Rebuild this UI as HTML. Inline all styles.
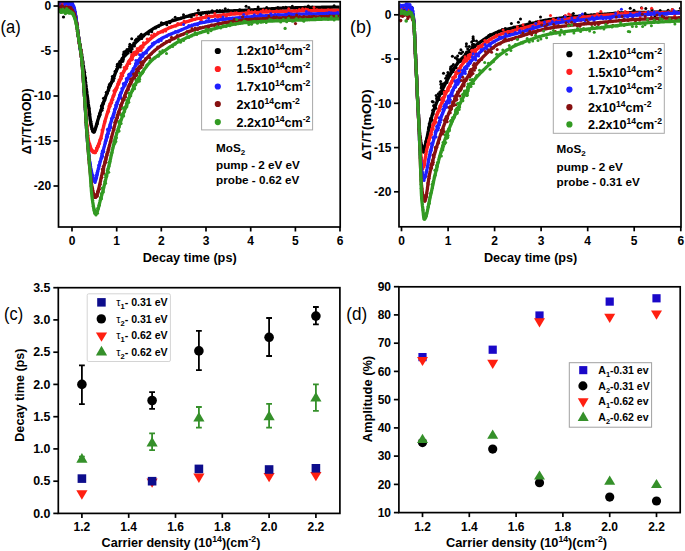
<!DOCTYPE html>
<html><head><meta charset="utf-8"><style>html,body{margin:0;padding:0;background:#fff;}svg{display:block;}</style></head><body>
<svg width="685" height="551" viewBox="0 0 685 551" font-family='"Liberation Sans", sans-serif'>
<rect width="685" height="551" fill="#fff"/>
<defs><clipPath id="ca"><rect x="59.4" y="2.6" width="280" height="223.5"/></clipPath><clipPath id="cb"><rect x="399.9" y="2.6" width="280.2" height="223.3"/></clipPath></defs>
<g clip-path="url(#ca)" fill="#000000"><circle cx="102.0" cy="107.0" r="1.5"/><circle cx="139.3" cy="38.7" r="1.5"/><circle cx="70.8" cy="6.2" r="1.5"/><circle cx="139.1" cy="38.2" r="1.5"/><circle cx="85.1" cy="78.4" r="1.5"/><circle cx="94.5" cy="130.5" r="1.5"/><circle cx="128.8" cy="49.9" r="1.5"/><circle cx="93.3" cy="131.8" r="1.5"/><circle cx="105.2" cy="98.4" r="1.5"/><circle cx="60.9" cy="3.8" r="1.5"/><circle cx="122.6" cy="60.8" r="1.5"/><circle cx="104.3" cy="98.3" r="1.5"/><circle cx="86.6" cy="91.6" r="1.5"/><circle cx="125.5" cy="55.3" r="1.5"/><circle cx="84.3" cy="71.7" r="1.5"/><circle cx="97.1" cy="124.0" r="1.5"/><circle cx="70.0" cy="6.5" r="1.5"/><circle cx="92.8" cy="131.5" r="1.5"/><circle cx="75.9" cy="18.0" r="1.5"/><circle cx="80.9" cy="49.9" r="1.5"/><circle cx="122.3" cy="61.5" r="1.5"/><circle cx="82.4" cy="57.6" r="1.5"/><circle cx="99.8" cy="114.8" r="1.5"/><circle cx="141.8" cy="38.6" r="1.5"/><circle cx="140.2" cy="37.2" r="1.5"/><circle cx="120.1" cy="62.4" r="1.5"/><circle cx="104.5" cy="98.3" r="1.5"/><circle cx="82.1" cy="61.0" r="1.5"/><circle cx="72.2" cy="6.0" r="1.5"/><circle cx="140.9" cy="38.2" r="1.5"/><circle cx="102.4" cy="108.3" r="1.5"/><circle cx="68.4" cy="4.1" r="1.5"/><circle cx="111.5" cy="82.2" r="1.5"/><circle cx="124.5" cy="54.3" r="1.5"/><circle cx="110.6" cy="84.2" r="1.5"/><circle cx="136.5" cy="40.9" r="1.5"/><circle cx="62.0" cy="3.1" r="1.5"/><circle cx="103.5" cy="103.4" r="1.5"/><circle cx="97.6" cy="121.8" r="1.5"/><circle cx="63.9" cy="4.5" r="1.5"/><circle cx="113.0" cy="79.7" r="1.5"/><circle cx="131.0" cy="46.5" r="1.5"/><circle cx="108.9" cy="86.6" r="1.5"/><circle cx="80.7" cy="49.7" r="1.5"/><circle cx="129.9" cy="49.9" r="1.5"/><circle cx="101.8" cy="105.2" r="1.5"/><circle cx="102.0" cy="110.2" r="1.5"/><circle cx="122.5" cy="60.3" r="1.5"/><circle cx="71.2" cy="4.9" r="1.5"/><circle cx="128.2" cy="53.1" r="1.5"/><circle cx="116.6" cy="69.3" r="1.5"/><circle cx="125.4" cy="53.9" r="1.5"/><circle cx="74.9" cy="11.7" r="1.5"/><circle cx="126.7" cy="54.0" r="1.5"/><circle cx="74.8" cy="12.2" r="1.5"/><circle cx="65.5" cy="1.2" r="1.5"/><circle cx="131.2" cy="51.9" r="1.5"/><circle cx="131.7" cy="38.8" r="1.5"/><circle cx="133.0" cy="45.9" r="1.5"/><circle cx="98.7" cy="116.6" r="1.5"/><circle cx="81.9" cy="53.9" r="1.5"/><circle cx="59.2" cy="4.1" r="1.5"/><circle cx="113.4" cy="80.8" r="1.5"/><circle cx="119.7" cy="61.4" r="1.5"/><circle cx="129.5" cy="46.4" r="1.5"/><circle cx="82.5" cy="61.2" r="1.5"/><circle cx="76.9" cy="23.7" r="1.5"/><circle cx="112.9" cy="77.0" r="1.5"/><circle cx="126.9" cy="53.7" r="1.5"/><circle cx="140.4" cy="36.3" r="1.5"/><circle cx="71.4" cy="4.2" r="1.5"/><circle cx="99.5" cy="113.5" r="1.5"/><circle cx="134.5" cy="45.9" r="1.5"/><circle cx="94.5" cy="130.3" r="1.5"/><circle cx="108.6" cy="90.2" r="1.5"/><circle cx="60.7" cy="4.0" r="1.5"/><circle cx="115.8" cy="70.9" r="1.5"/><circle cx="136.6" cy="38.9" r="1.5"/><circle cx="128.8" cy="49.0" r="1.5"/><circle cx="133.8" cy="42.9" r="1.5"/><circle cx="114.6" cy="75.6" r="1.5"/><circle cx="79.4" cy="43.6" r="1.5"/><circle cx="123.8" cy="52.0" r="1.5"/><circle cx="76.6" cy="23.9" r="1.5"/><circle cx="129.2" cy="50.2" r="1.5"/><circle cx="63.9" cy="3.6" r="1.5"/><circle cx="128.7" cy="50.5" r="1.5"/><circle cx="72.6" cy="5.3" r="1.5"/><circle cx="90.4" cy="120.4" r="1.5"/><circle cx="85.5" cy="82.2" r="1.5"/><circle cx="117.3" cy="64.6" r="1.5"/><circle cx="73.8" cy="8.3" r="1.5"/><circle cx="92.2" cy="129.3" r="1.5"/><circle cx="59.1" cy="3.8" r="1.5"/><circle cx="80.9" cy="51.1" r="1.5"/><circle cx="94.3" cy="130.5" r="1.5"/><circle cx="67.6" cy="3.6" r="1.5"/><circle cx="112.3" cy="81.2" r="1.5"/><circle cx="90.9" cy="121.5" r="1.5"/><circle cx="120.2" cy="62.2" r="1.5"/><circle cx="114.1" cy="78.3" r="1.5"/><circle cx="95.2" cy="128.5" r="1.5"/><circle cx="132.2" cy="49.0" r="1.5"/><circle cx="112.3" cy="76.5" r="1.5"/><circle cx="127.4" cy="51.3" r="1.5"/><circle cx="87.6" cy="98.8" r="1.5"/><circle cx="104.7" cy="100.3" r="1.5"/><circle cx="75.3" cy="17.2" r="1.5"/><circle cx="143.1" cy="35.5" r="1.5"/><circle cx="79.2" cy="41.4" r="1.5"/><circle cx="80.4" cy="47.9" r="1.5"/><circle cx="64.8" cy="5.3" r="1.5"/><circle cx="80.5" cy="46.0" r="1.5"/><circle cx="123.4" cy="54.6" r="1.5"/><circle cx="117.8" cy="64.0" r="1.5"/><circle cx="69.5" cy="6.2" r="1.5"/><circle cx="90.5" cy="121.4" r="1.5"/><circle cx="94.3" cy="132.0" r="1.5"/><circle cx="115.0" cy="71.5" r="1.5"/><circle cx="97.3" cy="122.9" r="1.5"/><circle cx="108.4" cy="87.8" r="1.5"/><circle cx="129.9" cy="44.3" r="1.5"/><circle cx="120.3" cy="66.9" r="1.5"/><circle cx="89.6" cy="114.2" r="1.5"/><circle cx="96.7" cy="124.2" r="1.5"/><circle cx="89.8" cy="113.9" r="1.5"/><circle cx="67.9" cy="5.4" r="1.5"/><circle cx="75.8" cy="19.5" r="1.5"/><circle cx="82.7" cy="60.8" r="1.5"/><circle cx="85.3" cy="77.8" r="1.5"/><circle cx="85.2" cy="78.3" r="1.5"/><circle cx="107.5" cy="92.7" r="1.5"/><circle cx="141.1" cy="37.9" r="1.5"/><circle cx="124.3" cy="53.3" r="1.5"/><circle cx="125.7" cy="53.3" r="1.5"/><circle cx="123.0" cy="61.0" r="1.5"/><circle cx="109.3" cy="84.8" r="1.5"/><circle cx="136.5" cy="39.8" r="1.5"/><circle cx="117.1" cy="66.2" r="1.5"/><circle cx="101.1" cy="109.8" r="1.5"/><circle cx="65.1" cy="2.7" r="1.5"/><circle cx="100.1" cy="114.8" r="1.5"/><circle cx="76.7" cy="24.2" r="1.5"/><circle cx="69.9" cy="4.1" r="1.5"/><circle cx="101.6" cy="106.0" r="1.5"/><circle cx="125.2" cy="51.7" r="1.5"/><circle cx="83.6" cy="69.3" r="1.5"/><circle cx="123.8" cy="56.1" r="1.5"/><circle cx="103.2" cy="102.4" r="1.5"/><circle cx="71.2" cy="4.9" r="1.5"/><circle cx="140.5" cy="35.6" r="1.5"/><circle cx="92.7" cy="130.6" r="1.5"/><circle cx="83.7" cy="66.7" r="1.5"/><circle cx="130.5" cy="45.5" r="1.5"/><circle cx="69.2" cy="4.3" r="1.5"/><circle cx="120.9" cy="64.4" r="1.5"/><circle cx="74.5" cy="12.7" r="1.5"/><circle cx="91.9" cy="126.9" r="1.5"/><circle cx="78.3" cy="36.2" r="1.5"/><circle cx="130.0" cy="50.5" r="1.5"/><circle cx="91.7" cy="125.8" r="1.5"/><circle cx="141.3" cy="34.2" r="1.5"/><circle cx="111.7" cy="82.5" r="1.5"/><circle cx="117.5" cy="66.2" r="1.5"/><circle cx="102.9" cy="103.2" r="1.5"/><circle cx="84.8" cy="72.5" r="1.5"/><circle cx="92.2" cy="129.1" r="1.5"/><circle cx="138.5" cy="36.7" r="1.5"/><circle cx="75.7" cy="15.4" r="1.5"/><circle cx="142.5" cy="35.9" r="1.5"/><circle cx="123.0" cy="57.5" r="1.5"/><circle cx="89.1" cy="108.6" r="1.5"/><circle cx="113.0" cy="76.4" r="1.5"/><circle cx="90.9" cy="123.3" r="1.5"/><circle cx="91.0" cy="124.8" r="1.5"/><circle cx="101.4" cy="106.4" r="1.5"/><circle cx="60.0" cy="5.3" r="1.5"/><circle cx="100.5" cy="111.5" r="1.5"/><circle cx="141.1" cy="37.1" r="1.5"/><circle cx="82.8" cy="66.0" r="1.5"/><circle cx="122.1" cy="58.2" r="1.5"/><circle cx="96.2" cy="125.9" r="1.5"/><circle cx="76.4" cy="22.1" r="1.5"/><circle cx="135.4" cy="40.2" r="1.5"/><circle cx="60.0" cy="4.1" r="1.5"/><circle cx="84.4" cy="73.9" r="1.5"/><circle cx="143.4" cy="35.8" r="1.5"/><circle cx="80.8" cy="49.6" r="1.5"/><circle cx="130.7" cy="50.6" r="1.5"/><circle cx="110.0" cy="83.7" r="1.5"/><circle cx="127.0" cy="49.4" r="1.5"/><circle cx="112.1" cy="79.1" r="1.5"/><circle cx="89.4" cy="112.4" r="1.5"/><circle cx="123.2" cy="59.3" r="1.5"/><circle cx="60.8" cy="3.5" r="1.5"/><circle cx="96.5" cy="125.1" r="1.5"/><circle cx="90.2" cy="119.0" r="1.5"/><circle cx="99.1" cy="116.2" r="1.5"/><circle cx="69.4" cy="3.9" r="1.5"/><circle cx="77.5" cy="30.7" r="1.5"/><circle cx="106.3" cy="92.2" r="1.5"/><circle cx="91.5" cy="126.5" r="1.5"/><circle cx="125.8" cy="51.2" r="1.5"/><circle cx="110.0" cy="84.8" r="1.5"/><circle cx="131.7" cy="46.1" r="1.5"/><circle cx="120.8" cy="60.7" r="1.5"/><circle cx="109.7" cy="86.2" r="1.5"/><circle cx="83.0" cy="62.0" r="1.5"/><circle cx="125.0" cy="53.6" r="1.5"/><circle cx="79.9" cy="44.3" r="1.5"/><circle cx="65.0" cy="3.2" r="1.5"/><circle cx="140.3" cy="38.7" r="1.5"/><circle cx="104.4" cy="98.4" r="1.5"/><circle cx="124.3" cy="54.4" r="1.5"/><circle cx="103.5" cy="98.3" r="1.5"/><circle cx="110.5" cy="84.9" r="1.5"/><circle cx="61.5" cy="5.5" r="1.5"/><circle cx="74.5" cy="9.2" r="1.5"/><circle cx="115.9" cy="71.4" r="1.5"/><circle cx="107.0" cy="93.8" r="1.5"/><circle cx="143.7" cy="36.0" r="1.5"/><circle cx="146.7" cy="33.6" r="1.5"/><circle cx="148.5" cy="33.9" r="1.5"/><circle cx="151.7" cy="31.8" r="1.5"/><circle cx="155.7" cy="28.0" r="1.5"/><circle cx="158.5" cy="26.6" r="1.5"/><circle cx="161.4" cy="22.7" r="1.5"/><circle cx="162.6" cy="23.6" r="1.5"/><circle cx="166.8" cy="24.8" r="1.5"/><circle cx="169.9" cy="22.8" r="1.5"/><circle cx="172.7" cy="19.7" r="1.5"/><circle cx="175.2" cy="17.3" r="1.5"/><circle cx="178.0" cy="18.6" r="1.5"/><circle cx="180.9" cy="17.9" r="1.5"/><circle cx="183.5" cy="14.8" r="1.5"/><circle cx="186.7" cy="16.5" r="1.5"/><circle cx="189.1" cy="16.2" r="1.5"/><circle cx="191.4" cy="17.1" r="1.5"/><circle cx="194.0" cy="15.1" r="1.5"/><circle cx="198.3" cy="10.3" r="1.5"/><circle cx="200.9" cy="15.1" r="1.5"/><circle cx="202.7" cy="12.9" r="1.5"/><circle cx="206.7" cy="14.5" r="1.5"/><circle cx="208.6" cy="12.1" r="1.5"/><circle cx="212.1" cy="10.8" r="1.5"/><circle cx="214.4" cy="12.2" r="1.5"/><circle cx="217.0" cy="10.6" r="1.5"/><circle cx="219.8" cy="10.5" r="1.5"/><circle cx="222.5" cy="10.7" r="1.5"/><circle cx="225.3" cy="8.7" r="1.5"/><circle cx="228.2" cy="9.9" r="1.5"/><circle cx="231.0" cy="11.3" r="1.5"/><circle cx="235.2" cy="11.7" r="1.5"/><circle cx="237.5" cy="11.8" r="1.5"/><circle cx="239.7" cy="9.8" r="1.5"/><circle cx="243.2" cy="10.8" r="1.5"/><circle cx="246.1" cy="6.2" r="1.5"/><circle cx="248.9" cy="7.4" r="1.5"/><circle cx="251.2" cy="10.2" r="1.5"/><circle cx="254.4" cy="10.2" r="1.5"/><circle cx="258.1" cy="7.1" r="1.5"/><circle cx="260.1" cy="12.1" r="1.5"/><circle cx="263.1" cy="9.9" r="1.5"/><circle cx="266.7" cy="7.6" r="1.5"/><circle cx="268.3" cy="10.2" r="1.5"/><circle cx="272.1" cy="9.4" r="1.5"/><circle cx="274.5" cy="9.1" r="1.5"/><circle cx="277.9" cy="7.5" r="1.5"/><circle cx="280.0" cy="8.1" r="1.5"/><circle cx="283.1" cy="7.6" r="1.5"/><circle cx="285.7" cy="7.2" r="1.5"/><circle cx="289.4" cy="7.9" r="1.5"/><circle cx="292.3" cy="6.2" r="1.5"/><circle cx="294.7" cy="8.8" r="1.5"/><circle cx="298.2" cy="9.7" r="1.5"/><circle cx="300.6" cy="10.2" r="1.5"/><circle cx="303.6" cy="9.9" r="1.5"/><circle cx="306.5" cy="8.3" r="1.5"/><circle cx="308.3" cy="6.0" r="1.5"/><circle cx="312.4" cy="7.1" r="1.5"/><circle cx="314.2" cy="8.2" r="1.5"/><circle cx="317.2" cy="8.9" r="1.5"/><circle cx="319.5" cy="8.0" r="1.5"/><circle cx="323.5" cy="7.8" r="1.5"/><circle cx="325.5" cy="8.0" r="1.5"/><circle cx="329.0" cy="9.2" r="1.5"/><circle cx="331.0" cy="7.8" r="1.5"/><circle cx="334.1" cy="5.7" r="1.5"/><circle cx="337.0" cy="10.2" r="1.5"/><circle cx="339.5" cy="7.4" r="1.5"/></g>
<polyline clip-path="url(#ca)" points="57.7,4.2 57.9,4.2 58.0,4.1 58.2,4.1 58.4,4.1 58.5,4.1 58.7,4.0 58.8,4.0 59.0,4.0 59.2,4.0 59.3,4.0 59.5,3.9 59.7,3.9 59.8,3.9 60.0,3.9 60.1,3.9 60.3,3.9 60.5,3.8 60.6,3.8 60.8,3.8 61.0,3.8 61.1,3.8 61.3,3.8 61.5,3.8 61.6,3.8 61.8,3.8 61.9,3.8 62.1,3.8 62.3,3.8 62.4,3.8 62.6,3.8 62.8,3.8 62.9,3.8 63.1,3.8 63.2,3.8 63.4,3.8 63.6,3.8 63.7,3.8 63.9,3.8 64.1,3.8 64.2,3.8 64.4,3.8 64.5,3.8 64.7,3.8 64.9,3.8 65.0,3.9 65.2,3.9 65.4,3.9 65.5,3.9 65.7,3.9 65.9,4.0 66.0,4.0 66.2,4.0 66.3,4.0 66.5,4.0 66.7,4.1 66.8,4.1 67.0,4.1 67.2,4.1 67.3,4.2 67.5,4.2 67.6,4.2 67.8,4.2 68.0,4.3 68.1,4.3 68.3,4.3 68.5,4.4 68.6,4.4 68.8,4.5 68.9,4.5 69.1,4.6 69.3,4.6 69.4,4.7 69.6,4.7 69.8,4.8 69.9,4.9 70.1,4.9 70.3,5.0 70.4,5.1 70.6,5.2 70.7,5.2 70.9,5.3 71.1,5.4 71.2,5.5 71.4,5.6 71.6,5.7 71.7,5.8 71.9,5.9 72.0,6.0 72.2,6.2 72.4,6.3 72.5,6.5 72.7,6.7 72.9,6.9 73.0,7.2 73.2,7.5 73.3,7.8 73.5,8.1 73.7,8.4 73.8,8.8 74.0,9.2 74.2,9.8 74.3,10.4 74.5,11.0 74.6,11.7 74.8,12.5 75.0,13.3 75.1,14.2 75.3,15.1 75.5,16.0 75.6,16.9 75.8,17.8 76.0,18.8 76.1,19.7 76.3,20.7 76.4,21.8 76.6,22.9 76.8,24.0 76.9,25.2 77.1,26.5 77.3,27.7 77.4,29.0 77.6,30.3 77.7,31.5 77.9,32.8 78.1,34.0 78.2,35.2 78.4,36.4 78.6,37.5 78.7,38.5 78.9,39.5 79.0,40.5 79.2,41.4 79.4,42.4 79.5,43.3 79.7,44.1 79.9,45.0 80.0,45.9 80.2,46.8 80.4,47.7 80.5,48.6 80.7,49.5 80.8,50.4 81.0,51.4 81.2,52.4 81.3,53.4 81.5,54.4 81.7,55.5 81.8,56.5 82.0,57.5 82.1,58.6 82.3,59.6 82.5,60.7 82.6,61.8 82.8,62.8 83.0,63.9 83.1,65.0 83.3,66.1 83.4,67.2 83.6,68.4 83.8,69.5 83.9,70.6 84.1,71.7 84.3,72.9 84.4,74.0 84.6,75.2 84.8,76.3 84.9,77.5 85.1,78.7 85.2,79.9 85.4,81.2 85.6,82.4 85.7,83.7 85.9,84.9 86.1,86.2 86.2,87.5 86.4,88.8 86.5,90.1 86.7,91.4 86.9,92.7 87.0,93.9 87.2,95.2 87.4,96.5 87.5,97.8 87.7,99.1 87.8,100.3 88.0,101.6 88.2,102.8 88.3,104.0 88.5,105.2 88.7,106.5 88.8,107.8 89.0,109.1 89.2,110.5 89.3,111.8 89.5,113.2 89.6,114.5 89.8,115.9 90.0,117.2 90.1,118.5 90.3,119.7 90.5,120.9 90.6,122.1 90.8,123.2 90.9,124.2 91.1,125.1 91.3,125.9 91.4,126.7 91.6,127.3 91.8,127.8 91.9,128.4 92.1,128.9 92.2,129.4 92.4,129.9 92.6,130.3 92.7,130.8 92.9,131.1 93.1,131.4 93.2,131.7 93.4,131.9 93.5,132.0 93.7,132.0 93.9,131.9 94.0,131.8 94.2,131.7 94.4,131.4 94.5,131.1 94.7,130.8 94.9,130.4 95.0,130.0 95.2,129.5 95.3,129.1 95.5,128.5 95.7,128.0 95.8,127.4 96.0,126.9 96.2,126.3 96.3,125.7 96.5,125.0 96.6,124.4 96.8,123.8 97.0,123.2 97.1,122.6 97.3,122.0 97.5,121.5 97.6,120.9 97.8,120.4 97.9,119.9 98.1,119.4 98.3,118.9 98.4,118.4 98.6,117.9 98.8,117.4 98.9,116.9 99.1,116.4 99.3,115.9 99.4,115.3 99.6,114.8 99.7,114.3 99.9,113.8 100.1,113.2 100.2,112.7 100.4,112.2 100.6,111.6 100.7,111.1 100.9,110.6 101.0,110.0 101.2,109.5 101.4,109.0 101.5,108.5 101.7,108.0 101.9,107.4 102.0,106.9 102.2,106.4 102.3,105.9 102.5,105.4 102.7,104.9 102.8,104.5 103.0,104.0 103.2,103.5 103.3,103.0 103.5,102.6 103.7,102.1 103.8,101.7 104.0,101.2 104.1,100.8 104.3,100.3 104.5,99.9 104.6,99.4 104.8,99.0 105.0,98.6 105.1,98.1 105.3,97.7 105.4,97.3 105.6,96.8 105.8,96.4 105.9,96.0 106.1,95.6 106.3,95.1 106.4,94.7 106.6,94.3 106.7,93.9 106.9,93.5 107.1,93.0 107.2,92.6 107.4,92.2 107.6,91.8 107.7,91.4 107.9,91.0 108.0,90.6 108.2,90.2 108.4,89.8 108.5,89.4 108.7,89.0 108.9,88.6 109.0,88.2 109.2,87.8 109.4,87.4 109.5,87.0 109.7,86.6 109.8,86.2 110.0,85.9 110.2,85.5 110.3,85.1 110.5,84.7 110.7,84.3 110.8,83.9 111.0,83.5 111.1,83.1 111.3,82.8 111.5,82.4 111.6,82.0 111.8,81.6 112.0,81.2 112.1,80.8 112.3,80.4 112.4,80.0 112.6,79.6 112.8,79.2 112.9,78.9 113.1,78.5 113.3,78.1 113.4,77.7 113.6,77.3 113.8,76.9 113.9,76.5 114.1,76.1 114.2,75.7 114.4,75.3 114.6,74.9 114.7,74.6 114.9,74.2 115.1,73.8 115.2,73.4 115.4,73.0 115.5,72.6 115.7,72.3 115.9,71.9 116.0,71.5 116.2,71.1 116.4,70.8 116.5,70.4 116.7,70.0 116.8,69.7 117.0,69.3 117.2,68.9 117.3,68.6 117.5,68.2 117.7,67.9 117.8,67.5 118.0,67.2 118.2,66.8 118.3,66.5 118.5,66.1 118.6,65.8 118.8,65.5 119.0,65.1 119.1,64.8 119.3,64.5 119.5,64.2 119.6,63.9 119.8,63.5 119.9,63.2 120.1,62.9 120.3,62.6 120.4,62.3 120.6,62.0 120.8,61.7 120.9,61.5 121.1,61.2 121.2,60.9 121.4,60.6 121.6,60.4 121.7,60.1 121.9,59.9 122.1,59.6 122.2,59.3 122.4,59.1 122.5,58.8 122.7,58.6 122.9,58.3 123.0,58.1 123.2,57.9 123.4,57.6 123.5,57.4 123.7,57.1 123.9,56.9 124.0,56.6 124.2,56.4 124.3,56.2 124.5,55.9 124.7,55.7 124.8,55.5 125.0,55.2 125.2,55.0 125.3,54.8 125.5,54.5 125.6,54.3 125.8,54.1 126.0,53.9 126.1,53.6 126.3,53.4 126.5,53.2 126.6,53.0 126.8,52.8 126.9,52.5 127.1,52.3 127.3,52.1 127.4,51.9 127.6,51.7 127.8,51.5 127.9,51.3 128.1,51.1 128.3,50.8 128.4,50.6 128.6,50.4 128.7,50.2 128.9,50.0 129.1,49.8 129.2,49.6 129.4,49.4 129.6,49.2 129.7,49.0 129.9,48.8 130.0,48.6 130.2,48.4 130.4,48.2 130.5,48.0 130.7,47.9 130.9,47.7 131.0,47.5 131.2,47.3 131.3,47.1 131.5,46.9 131.7,46.7 131.8,46.5 132.0,46.4 132.2,46.2 132.3,46.0 132.5,45.8 132.7,45.6 132.8,45.5 133.0,45.3 133.1,45.1 133.3,44.9 133.5,44.7 133.6,44.6 133.8,44.4 134.0,44.2 134.1,44.1 134.3,43.9 134.4,43.7 134.6,43.5 134.8,43.4 134.9,43.2 135.1,43.0 135.3,42.9 135.4,42.7 135.6,42.6 135.7,42.4 135.9,42.2 136.1,42.1 136.2,41.9 136.4,41.8 136.6,41.6 136.7,41.4 136.9,41.3 137.0,41.1 137.2,41.0 137.4,40.8 137.5,40.7 137.7,40.5 137.9,40.4 138.0,40.2 138.2,40.1 138.4,39.9 138.5,39.8 138.7,39.6 138.8,39.5 139.0,39.3 140.0,38.5 141.0,37.6 142.1,36.7 143.1,35.9 144.1,35.1 145.1,34.3 146.2,33.5 147.2,32.8 148.2,32.0 149.2,31.3 150.2,30.6 151.3,30.0 152.3,29.3 153.3,28.7 154.3,28.1 155.3,27.5 156.4,26.9 157.4,26.4 158.4,25.9 159.4,25.4 160.5,25.0 161.5,24.5 162.5,24.1 163.5,23.7 164.5,23.4 165.6,23.0 166.6,22.6 167.6,22.3 168.6,22.0 169.6,21.6 170.7,21.3 171.7,21.0 172.7,20.7 173.7,20.4 174.8,20.1 175.8,19.8 176.8,19.5 177.8,19.2 178.8,18.9 179.9,18.6 180.9,18.3 181.9,18.0 182.9,17.7 183.9,17.4 185.0,17.0 186.0,16.7 187.0,16.4 188.0,16.1 189.1,15.7 190.1,15.4 191.1,15.1 192.1,14.8 193.1,14.5 194.2,14.3 195.2,14.0 196.2,13.8 197.2,13.6 198.2,13.4 199.3,13.3 200.3,13.2 201.3,13.1 202.3,12.9 203.4,12.8 204.4,12.7 205.4,12.6 206.4,12.5 207.4,12.4 208.5,12.3 209.5,12.3 210.5,12.2 211.5,12.1 212.5,12.0 213.6,11.9 214.6,11.9 215.6,11.8 216.6,11.7 217.6,11.6 218.7,11.6 219.7,11.5 220.7,11.5 221.7,11.4 222.8,11.3 223.8,11.3 224.8,11.2 225.8,11.2 226.8,11.1 227.9,11.1 228.9,11.0 229.9,10.9 230.9,10.9 231.9,10.8 233.0,10.8 234.0,10.7 235.0,10.7 236.0,10.6 237.1,10.6 238.1,10.6 239.1,10.5 240.1,10.5 241.1,10.4 242.2,10.4 243.2,10.3 244.2,10.3 245.2,10.2 246.2,10.2 247.3,10.1 248.3,10.1 249.3,10.0 250.3,9.9 251.4,9.9 252.4,9.8 253.4,9.8 254.4,9.7 255.4,9.7 256.5,9.6 257.5,9.5 258.5,9.5 259.5,9.4 260.5,9.4 261.6,9.3 262.6,9.3 263.6,9.2 264.6,9.1 265.7,9.1 266.7,9.0 267.7,9.0 268.7,8.9 269.7,8.9 270.8,8.8 271.8,8.7 272.8,8.7 273.8,8.6 274.8,8.6 275.9,8.5 276.9,8.5 277.9,8.4 278.9,8.4 280.0,8.3 281.0,8.3 282.0,8.2 283.0,8.2 284.0,8.1 285.1,8.1 286.1,8.0 287.1,8.0 288.1,8.0 289.1,7.9 290.2,7.9 291.2,7.9 292.2,7.8 293.2,7.8 294.3,7.8 295.3,7.7 296.3,7.7 297.3,7.7 298.3,7.7 299.4,7.6 300.4,7.6 301.4,7.6 302.4,7.6 303.4,7.6 304.5,7.5 305.5,7.5 306.5,7.5 307.5,7.5 308.5,7.5 309.6,7.4 310.6,7.4 311.6,7.4 312.6,7.4 313.7,7.4 314.7,7.4 315.7,7.3 316.7,7.3 317.7,7.3 318.8,7.3 319.8,7.3 320.8,7.3 321.8,7.2 322.8,7.2 323.9,7.2 324.9,7.2 325.9,7.2 326.9,7.2 328.0,7.2 329.0,7.2 330.0,7.2 331.0,7.1 332.0,7.1 333.1,7.1 334.1,7.1 335.1,7.1 336.1,7.1 337.1,7.1 338.2,7.1 339.2,7.1 340.2,7.1 341.2,7.1 342.3,7.1" fill="none" stroke="#000000" stroke-width="3.3" stroke-linejoin="round"/>
<g clip-path="url(#ca)" fill="#ff1f1f"><circle cx="119.7" cy="80.1" r="1.5"/><circle cx="69.9" cy="4.8" r="1.5"/><circle cx="99.6" cy="143.5" r="1.5"/><circle cx="89.0" cy="143.1" r="1.5"/><circle cx="104.8" cy="121.2" r="1.5"/><circle cx="109.8" cy="103.7" r="1.5"/><circle cx="112.9" cy="99.4" r="1.5"/><circle cx="95.3" cy="152.3" r="1.5"/><circle cx="133.9" cy="54.7" r="1.5"/><circle cx="129.5" cy="61.0" r="1.5"/><circle cx="137.8" cy="51.2" r="1.5"/><circle cx="96.4" cy="150.7" r="1.5"/><circle cx="120.6" cy="76.5" r="1.5"/><circle cx="95.2" cy="151.5" r="1.5"/><circle cx="82.3" cy="66.4" r="1.5"/><circle cx="113.9" cy="90.9" r="1.5"/><circle cx="138.9" cy="49.2" r="1.5"/><circle cx="126.9" cy="66.3" r="1.5"/><circle cx="82.8" cy="72.8" r="1.5"/><circle cx="78.0" cy="32.0" r="1.5"/><circle cx="124.1" cy="67.4" r="1.5"/><circle cx="118.4" cy="83.1" r="1.5"/><circle cx="131.9" cy="57.4" r="1.5"/><circle cx="71.0" cy="5.3" r="1.5"/><circle cx="131.7" cy="56.5" r="1.5"/><circle cx="95.3" cy="152.7" r="1.5"/><circle cx="81.8" cy="62.0" r="1.5"/><circle cx="87.7" cy="135.2" r="1.5"/><circle cx="142.9" cy="47.3" r="1.5"/><circle cx="139.7" cy="47.6" r="1.5"/><circle cx="65.7" cy="3.0" r="1.5"/><circle cx="85.3" cy="109.4" r="1.5"/><circle cx="119.7" cy="80.8" r="1.5"/><circle cx="61.6" cy="3.4" r="1.5"/><circle cx="61.6" cy="2.3" r="1.5"/><circle cx="62.4" cy="4.0" r="1.5"/><circle cx="132.3" cy="59.2" r="1.5"/><circle cx="86.9" cy="126.3" r="1.5"/><circle cx="85.7" cy="109.6" r="1.5"/><circle cx="125.9" cy="69.0" r="1.5"/><circle cx="85.6" cy="110.4" r="1.5"/><circle cx="121.3" cy="75.7" r="1.5"/><circle cx="89.9" cy="144.1" r="1.5"/><circle cx="83.9" cy="87.4" r="1.5"/><circle cx="91.5" cy="150.5" r="1.5"/><circle cx="72.9" cy="8.7" r="1.5"/><circle cx="65.0" cy="3.4" r="1.5"/><circle cx="132.5" cy="57.4" r="1.5"/><circle cx="132.3" cy="55.3" r="1.5"/><circle cx="97.7" cy="145.8" r="1.5"/><circle cx="117.0" cy="87.5" r="1.5"/><circle cx="131.8" cy="54.6" r="1.5"/><circle cx="91.8" cy="151.0" r="1.5"/><circle cx="119.0" cy="79.9" r="1.5"/><circle cx="122.7" cy="73.5" r="1.5"/><circle cx="65.2" cy="4.1" r="1.5"/><circle cx="70.3" cy="6.1" r="1.5"/><circle cx="122.3" cy="74.6" r="1.5"/><circle cx="118.5" cy="84.0" r="1.5"/><circle cx="74.3" cy="9.7" r="1.5"/><circle cx="128.8" cy="63.3" r="1.5"/><circle cx="126.6" cy="68.3" r="1.5"/><circle cx="86.8" cy="125.5" r="1.5"/><circle cx="87.5" cy="132.0" r="1.5"/><circle cx="68.0" cy="4.0" r="1.5"/><circle cx="96.4" cy="148.1" r="1.5"/><circle cx="67.9" cy="3.8" r="1.5"/><circle cx="104.7" cy="122.1" r="1.5"/><circle cx="111.6" cy="103.1" r="1.5"/><circle cx="108.0" cy="111.2" r="1.5"/><circle cx="64.7" cy="4.2" r="1.5"/><circle cx="111.4" cy="100.6" r="1.5"/><circle cx="122.4" cy="73.2" r="1.5"/><circle cx="70.6" cy="5.0" r="1.5"/><circle cx="109.1" cy="106.6" r="1.5"/><circle cx="128.1" cy="63.2" r="1.5"/><circle cx="75.0" cy="13.4" r="1.5"/><circle cx="136.1" cy="53.8" r="1.5"/><circle cx="141.1" cy="47.1" r="1.5"/><circle cx="119.0" cy="82.9" r="1.5"/><circle cx="132.6" cy="55.5" r="1.5"/><circle cx="81.7" cy="57.7" r="1.5"/><circle cx="115.0" cy="91.6" r="1.5"/><circle cx="137.2" cy="48.4" r="1.5"/><circle cx="62.4" cy="1.8" r="1.5"/><circle cx="128.3" cy="61.4" r="1.5"/><circle cx="78.7" cy="39.2" r="1.5"/><circle cx="126.6" cy="67.1" r="1.5"/><circle cx="113.1" cy="95.7" r="1.5"/><circle cx="126.6" cy="66.8" r="1.5"/><circle cx="92.6" cy="150.6" r="1.5"/><circle cx="96.8" cy="149.9" r="1.5"/><circle cx="137.0" cy="51.6" r="1.5"/><circle cx="64.6" cy="3.8" r="1.5"/><circle cx="71.9" cy="5.5" r="1.5"/><circle cx="141.2" cy="48.2" r="1.5"/><circle cx="136.1" cy="54.4" r="1.5"/><circle cx="71.1" cy="7.3" r="1.5"/><circle cx="141.2" cy="49.5" r="1.5"/><circle cx="81.1" cy="56.2" r="1.5"/><circle cx="134.3" cy="53.1" r="1.5"/><circle cx="135.4" cy="51.8" r="1.5"/><circle cx="60.6" cy="5.6" r="1.5"/><circle cx="59.4" cy="1.6" r="1.5"/><circle cx="86.4" cy="118.0" r="1.5"/><circle cx="137.6" cy="53.0" r="1.5"/><circle cx="125.8" cy="68.6" r="1.5"/><circle cx="91.4" cy="149.7" r="1.5"/><circle cx="131.4" cy="56.7" r="1.5"/><circle cx="84.7" cy="97.9" r="1.5"/><circle cx="88.1" cy="138.7" r="1.5"/><circle cx="74.8" cy="14.2" r="1.5"/><circle cx="140.0" cy="49.0" r="1.5"/><circle cx="126.8" cy="66.8" r="1.5"/><circle cx="97.8" cy="146.3" r="1.5"/><circle cx="81.0" cy="50.2" r="1.5"/><circle cx="140.6" cy="46.5" r="1.5"/><circle cx="92.3" cy="150.9" r="1.5"/><circle cx="76.5" cy="21.4" r="1.5"/><circle cx="94.6" cy="151.6" r="1.5"/><circle cx="119.6" cy="81.2" r="1.5"/><circle cx="124.0" cy="71.5" r="1.5"/><circle cx="67.8" cy="5.2" r="1.5"/><circle cx="138.9" cy="49.9" r="1.5"/><circle cx="115.9" cy="90.3" r="1.5"/><circle cx="63.9" cy="4.6" r="1.5"/><circle cx="129.7" cy="60.3" r="1.5"/><circle cx="141.1" cy="46.2" r="1.5"/><circle cx="129.7" cy="60.6" r="1.5"/><circle cx="59.4" cy="6.1" r="1.5"/><circle cx="98.8" cy="144.8" r="1.5"/><circle cx="108.6" cy="111.3" r="1.5"/><circle cx="134.0" cy="52.2" r="1.5"/><circle cx="101.3" cy="138.3" r="1.5"/><circle cx="65.2" cy="4.8" r="1.5"/><circle cx="137.8" cy="49.7" r="1.5"/><circle cx="139.4" cy="50.7" r="1.5"/><circle cx="99.9" cy="139.8" r="1.5"/><circle cx="63.1" cy="2.9" r="1.5"/><circle cx="129.8" cy="63.5" r="1.5"/><circle cx="121.5" cy="78.5" r="1.5"/><circle cx="141.0" cy="50.4" r="1.5"/><circle cx="59.2" cy="5.5" r="1.5"/><circle cx="95.6" cy="151.4" r="1.5"/><circle cx="82.7" cy="70.1" r="1.5"/><circle cx="67.7" cy="3.6" r="1.5"/><circle cx="121.0" cy="73.5" r="1.5"/><circle cx="87.6" cy="132.5" r="1.5"/><circle cx="61.9" cy="3.4" r="1.5"/><circle cx="69.9" cy="2.7" r="1.5"/><circle cx="127.0" cy="65.5" r="1.5"/><circle cx="110.0" cy="106.3" r="1.5"/><circle cx="76.9" cy="25.0" r="1.5"/><circle cx="117.7" cy="83.8" r="1.5"/><circle cx="69.7" cy="3.4" r="1.5"/><circle cx="115.7" cy="88.4" r="1.5"/><circle cx="114.2" cy="94.8" r="1.5"/><circle cx="59.1" cy="3.0" r="1.5"/><circle cx="102.0" cy="130.1" r="1.5"/><circle cx="120.2" cy="79.7" r="1.5"/><circle cx="123.0" cy="72.4" r="1.5"/><circle cx="118.5" cy="82.1" r="1.5"/><circle cx="133.7" cy="53.0" r="1.5"/><circle cx="122.8" cy="75.8" r="1.5"/><circle cx="136.9" cy="52.6" r="1.5"/><circle cx="93.8" cy="152.3" r="1.5"/><circle cx="61.5" cy="4.1" r="1.5"/><circle cx="74.0" cy="10.9" r="1.5"/><circle cx="83.0" cy="75.5" r="1.5"/><circle cx="62.1" cy="2.1" r="1.5"/><circle cx="67.8" cy="5.7" r="1.5"/><circle cx="102.6" cy="129.9" r="1.5"/><circle cx="80.0" cy="47.5" r="1.5"/><circle cx="82.8" cy="74.6" r="1.5"/><circle cx="121.5" cy="74.8" r="1.5"/><circle cx="131.1" cy="59.9" r="1.5"/><circle cx="131.8" cy="59.7" r="1.5"/><circle cx="90.1" cy="146.1" r="1.5"/><circle cx="118.8" cy="83.9" r="1.5"/><circle cx="130.9" cy="58.5" r="1.5"/><circle cx="71.4" cy="4.7" r="1.5"/><circle cx="75.6" cy="15.7" r="1.5"/><circle cx="113.6" cy="96.3" r="1.5"/><circle cx="81.1" cy="53.1" r="1.5"/><circle cx="75.0" cy="14.1" r="1.5"/><circle cx="89.8" cy="146.1" r="1.5"/><circle cx="60.0" cy="3.9" r="1.5"/><circle cx="95.8" cy="150.5" r="1.5"/><circle cx="62.6" cy="4.0" r="1.5"/><circle cx="79.4" cy="41.6" r="1.5"/><circle cx="77.1" cy="23.3" r="1.5"/><circle cx="86.6" cy="121.9" r="1.5"/><circle cx="69.2" cy="6.6" r="1.5"/><circle cx="98.6" cy="144.1" r="1.5"/><circle cx="117.0" cy="87.9" r="1.5"/><circle cx="87.4" cy="131.6" r="1.5"/><circle cx="137.3" cy="49.4" r="1.5"/><circle cx="131.6" cy="57.9" r="1.5"/><circle cx="84.6" cy="97.0" r="1.5"/><circle cx="61.9" cy="2.8" r="1.5"/><circle cx="123.8" cy="71.1" r="1.5"/><circle cx="79.0" cy="43.3" r="1.5"/><circle cx="86.8" cy="124.8" r="1.5"/><circle cx="107.8" cy="112.8" r="1.5"/><circle cx="143.4" cy="42.8" r="1.5"/><circle cx="84.0" cy="89.6" r="1.5"/><circle cx="98.4" cy="146.4" r="1.5"/><circle cx="111.9" cy="101.9" r="1.5"/><circle cx="116.6" cy="88.8" r="1.5"/><circle cx="76.6" cy="22.8" r="1.5"/><circle cx="109.1" cy="105.7" r="1.5"/><circle cx="104.8" cy="122.8" r="1.5"/><circle cx="114.5" cy="90.2" r="1.5"/><circle cx="68.4" cy="5.6" r="1.5"/><circle cx="69.3" cy="2.5" r="1.5"/><circle cx="141.4" cy="45.9" r="1.5"/><circle cx="128.3" cy="63.2" r="1.5"/><circle cx="128.8" cy="63.2" r="1.5"/><circle cx="137.9" cy="51.0" r="1.5"/><circle cx="140.1" cy="47.8" r="1.5"/><circle cx="142.8" cy="45.5" r="1.5"/><circle cx="147.1" cy="39.0" r="1.5"/><circle cx="149.7" cy="38.7" r="1.5"/><circle cx="151.5" cy="35.5" r="1.5"/><circle cx="154.0" cy="34.0" r="1.5"/><circle cx="158.0" cy="32.4" r="1.5"/><circle cx="160.2" cy="32.3" r="1.5"/><circle cx="162.9" cy="32.0" r="1.5"/><circle cx="165.7" cy="31.1" r="1.5"/><circle cx="169.1" cy="27.4" r="1.5"/><circle cx="171.7" cy="26.4" r="1.5"/><circle cx="175.6" cy="25.9" r="1.5"/><circle cx="177.8" cy="23.6" r="1.5"/><circle cx="181.2" cy="24.5" r="1.5"/><circle cx="184.1" cy="21.1" r="1.5"/><circle cx="186.9" cy="21.6" r="1.5"/><circle cx="189.0" cy="21.0" r="1.5"/><circle cx="192.0" cy="20.0" r="1.5"/><circle cx="194.8" cy="19.4" r="1.5"/><circle cx="196.7" cy="15.2" r="1.5"/><circle cx="201.2" cy="20.3" r="1.5"/><circle cx="202.7" cy="17.5" r="1.5"/><circle cx="206.2" cy="15.4" r="1.5"/><circle cx="209.3" cy="15.7" r="1.5"/><circle cx="212.3" cy="16.8" r="1.5"/><circle cx="214.8" cy="13.5" r="1.5"/><circle cx="217.8" cy="17.2" r="1.5"/><circle cx="221.0" cy="17.2" r="1.5"/><circle cx="223.5" cy="14.2" r="1.5"/><circle cx="226.4" cy="16.8" r="1.5"/><circle cx="229.6" cy="17.9" r="1.5"/><circle cx="231.0" cy="13.0" r="1.5"/><circle cx="234.7" cy="12.9" r="1.5"/><circle cx="236.6" cy="12.8" r="1.5"/><circle cx="239.7" cy="14.3" r="1.5"/><circle cx="242.3" cy="13.2" r="1.5"/><circle cx="246.7" cy="14.5" r="1.5"/><circle cx="248.6" cy="10.5" r="1.5"/><circle cx="251.8" cy="11.7" r="1.5"/><circle cx="255.1" cy="11.6" r="1.5"/><circle cx="257.8" cy="15.3" r="1.5"/><circle cx="261.0" cy="11.2" r="1.5"/><circle cx="263.1" cy="10.1" r="1.5"/><circle cx="266.3" cy="10.3" r="1.5"/><circle cx="269.5" cy="10.8" r="1.5"/><circle cx="271.0" cy="11.8" r="1.5"/><circle cx="274.5" cy="12.2" r="1.5"/><circle cx="276.6" cy="10.7" r="1.5"/><circle cx="280.3" cy="10.9" r="1.5"/><circle cx="282.7" cy="11.0" r="1.5"/><circle cx="286.5" cy="11.7" r="1.5"/><circle cx="288.7" cy="8.7" r="1.5"/><circle cx="291.0" cy="12.8" r="1.5"/><circle cx="295.1" cy="11.0" r="1.5"/><circle cx="297.2" cy="11.8" r="1.5"/><circle cx="299.3" cy="9.4" r="1.5"/><circle cx="302.6" cy="8.7" r="1.5"/><circle cx="305.6" cy="9.0" r="1.5"/><circle cx="307.8" cy="9.6" r="1.5"/><circle cx="310.9" cy="12.7" r="1.5"/><circle cx="314.0" cy="7.6" r="1.5"/><circle cx="316.9" cy="9.8" r="1.5"/><circle cx="320.0" cy="10.6" r="1.5"/><circle cx="322.6" cy="10.4" r="1.5"/><circle cx="325.5" cy="10.9" r="1.5"/><circle cx="328.6" cy="9.7" r="1.5"/><circle cx="331.2" cy="9.9" r="1.5"/><circle cx="334.8" cy="10.8" r="1.5"/><circle cx="337.7" cy="14.0" r="1.5"/><circle cx="339.2" cy="10.3" r="1.5"/></g>
<polyline clip-path="url(#ca)" points="57.7,4.2 57.9,4.2 58.0,4.1 58.2,4.1 58.4,4.1 58.5,4.1 58.7,4.0 58.8,4.0 59.0,4.0 59.2,4.0 59.3,4.0 59.5,3.9 59.7,3.9 59.8,3.9 60.0,3.9 60.1,3.9 60.3,3.9 60.5,3.8 60.6,3.8 60.8,3.8 61.0,3.8 61.1,3.8 61.3,3.8 61.5,3.8 61.6,3.8 61.8,3.8 61.9,3.8 62.1,3.8 62.3,3.8 62.4,3.8 62.6,3.8 62.8,3.8 62.9,3.8 63.1,3.8 63.2,3.8 63.4,3.8 63.6,3.8 63.7,3.8 63.9,3.8 64.1,3.8 64.2,3.8 64.4,3.8 64.5,3.8 64.7,3.8 64.9,3.8 65.0,3.9 65.2,3.9 65.4,3.9 65.5,3.9 65.7,3.9 65.9,4.0 66.0,4.0 66.2,4.0 66.3,4.0 66.5,4.0 66.7,4.1 66.8,4.1 67.0,4.1 67.2,4.1 67.3,4.2 67.5,4.2 67.6,4.2 67.8,4.2 68.0,4.3 68.1,4.3 68.3,4.3 68.5,4.4 68.6,4.4 68.8,4.5 68.9,4.5 69.1,4.6 69.3,4.6 69.4,4.7 69.6,4.7 69.8,4.8 69.9,4.9 70.1,4.9 70.3,5.0 70.4,5.1 70.6,5.2 70.7,5.2 70.9,5.3 71.1,5.4 71.2,5.5 71.4,5.6 71.6,5.7 71.7,5.8 71.9,5.9 72.0,6.0 72.2,6.2 72.4,6.3 72.5,6.5 72.7,6.7 72.9,6.9 73.0,7.2 73.2,7.5 73.3,7.8 73.5,8.1 73.7,8.4 73.8,8.8 74.0,9.2 74.2,9.8 74.3,10.4 74.5,11.0 74.6,11.7 74.8,12.5 75.0,13.3 75.1,14.2 75.3,15.1 75.5,16.0 75.6,16.9 75.8,17.8 76.0,18.8 76.1,19.7 76.3,20.7 76.4,21.7 76.6,22.8 76.8,23.9 76.9,25.1 77.1,26.3 77.3,27.5 77.4,28.7 77.6,30.0 77.7,31.2 77.9,32.5 78.1,33.7 78.2,35.0 78.4,36.2 78.6,37.4 78.7,38.6 78.9,39.7 79.0,40.8 79.2,41.9 79.4,42.9 79.5,43.9 79.7,45.0 79.9,46.0 80.0,47.0 80.2,48.0 80.4,49.1 80.5,50.2 80.7,51.3 80.8,52.4 81.0,53.6 81.2,54.8 81.3,56.1 81.5,57.4 81.7,58.9 81.8,60.3 82.0,62.0 82.1,63.7 82.3,65.7 82.5,67.7 82.6,69.9 82.8,72.1 83.0,74.4 83.1,76.8 83.3,79.2 83.4,81.6 83.6,83.9 83.8,86.3 83.9,88.6 84.1,90.8 84.3,93.0 84.4,95.0 84.6,97.0 84.8,98.9 84.9,100.9 85.1,103.0 85.2,105.1 85.4,107.2 85.6,109.3 85.7,111.4 85.9,113.5 86.1,115.6 86.2,117.7 86.4,119.8 86.5,121.8 86.7,123.8 86.9,125.7 87.0,127.6 87.2,129.4 87.4,131.1 87.5,132.8 87.7,134.4 87.8,135.8 88.0,137.2 88.2,138.5 88.3,139.6 88.5,140.6 88.7,141.5 88.8,142.3 89.0,142.8 89.2,143.4 89.3,143.9 89.5,144.4 89.6,144.9 89.8,145.3 90.0,145.8 90.1,146.3 90.3,146.7 90.5,147.1 90.6,147.6 90.8,148.0 90.9,148.4 91.1,148.7 91.3,149.1 91.4,149.4 91.6,149.8 91.8,150.1 91.9,150.4 92.1,150.7 92.2,151.0 92.4,151.2 92.6,151.4 92.7,151.7 92.9,151.9 93.1,152.0 93.2,152.2 93.4,152.3 93.5,152.4 93.7,152.5 93.9,152.6 94.0,152.7 94.2,152.7 94.4,152.7 94.5,152.7 94.7,152.6 94.9,152.5 95.0,152.4 95.2,152.3 95.3,152.1 95.5,151.9 95.7,151.7 95.8,151.4 96.0,151.2 96.2,150.9 96.3,150.5 96.5,150.2 96.6,149.9 96.8,149.5 97.0,149.1 97.1,148.7 97.3,148.3 97.5,147.9 97.6,147.4 97.8,147.0 97.9,146.5 98.1,146.1 98.3,145.6 98.4,145.1 98.6,144.6 98.8,144.1 98.9,143.7 99.1,143.2 99.3,142.7 99.4,142.2 99.6,141.7 99.7,141.2 99.9,140.8 100.1,140.3 100.2,139.9 100.4,139.4 100.6,138.9 100.7,138.3 100.9,137.8 101.0,137.2 101.2,136.6 101.4,136.0 101.5,135.3 101.7,134.7 101.9,134.0 102.0,133.3 102.2,132.7 102.3,132.0 102.5,131.3 102.7,130.6 102.8,129.9 103.0,129.2 103.2,128.4 103.3,127.7 103.5,127.0 103.7,126.3 103.8,125.7 104.0,125.0 104.1,124.3 104.3,123.6 104.5,123.0 104.6,122.4 104.8,121.8 105.0,121.2 105.1,120.6 105.3,120.0 105.4,119.5 105.6,118.9 105.8,118.4 105.9,117.9 106.1,117.3 106.3,116.8 106.4,116.3 106.6,115.8 106.7,115.2 106.9,114.7 107.1,114.2 107.2,113.7 107.4,113.2 107.6,112.7 107.7,112.2 107.9,111.7 108.0,111.2 108.2,110.7 108.4,110.2 108.5,109.7 108.7,109.2 108.9,108.7 109.0,108.2 109.2,107.7 109.4,107.2 109.5,106.8 109.7,106.3 109.8,105.8 110.0,105.3 110.2,104.9 110.3,104.4 110.5,103.9 110.7,103.4 110.8,103.0 111.0,102.5 111.1,102.1 111.3,101.6 111.5,101.2 111.6,100.7 111.8,100.3 112.0,99.8 112.1,99.4 112.3,98.9 112.4,98.5 112.6,98.0 112.8,97.6 112.9,97.2 113.1,96.7 113.3,96.3 113.4,95.9 113.6,95.4 113.8,95.0 113.9,94.6 114.1,94.1 114.2,93.7 114.4,93.3 114.6,92.9 114.7,92.5 114.9,92.1 115.1,91.6 115.2,91.2 115.4,90.8 115.5,90.4 115.7,90.0 115.9,89.6 116.0,89.2 116.2,88.8 116.4,88.4 116.5,88.0 116.7,87.6 116.8,87.2 117.0,86.8 117.2,86.4 117.3,86.0 117.5,85.7 117.7,85.3 117.8,84.9 118.0,84.5 118.2,84.1 118.3,83.7 118.5,83.4 118.6,83.0 118.8,82.6 119.0,82.2 119.1,81.8 119.3,81.5 119.5,81.1 119.6,80.7 119.8,80.3 119.9,80.0 120.1,79.6 120.3,79.2 120.4,78.8 120.6,78.5 120.8,78.1 120.9,77.7 121.1,77.3 121.2,77.0 121.4,76.6 121.6,76.2 121.7,75.9 121.9,75.5 122.1,75.2 122.2,74.8 122.4,74.4 122.5,74.1 122.7,73.7 122.9,73.4 123.0,73.0 123.2,72.7 123.4,72.3 123.5,72.0 123.7,71.6 123.9,71.3 124.0,70.9 124.2,70.6 124.3,70.3 124.5,69.9 124.7,69.6 124.8,69.2 125.0,68.9 125.2,68.6 125.3,68.3 125.5,67.9 125.6,67.6 125.8,67.3 126.0,67.0 126.1,66.7 126.3,66.4 126.5,66.1 126.6,65.8 126.8,65.4 126.9,65.1 127.1,64.9 127.3,64.6 127.4,64.3 127.6,64.0 127.8,63.7 127.9,63.4 128.1,63.1 128.3,62.9 128.4,62.6 128.6,62.3 128.7,62.0 128.9,61.8 129.1,61.5 129.2,61.3 129.4,61.0 129.6,60.8 129.7,60.5 129.9,60.3 130.0,60.0 130.2,59.8 130.4,59.6 130.5,59.3 130.7,59.1 130.9,58.9 131.0,58.7 131.2,58.4 131.3,58.2 131.5,58.0 131.7,57.8 131.8,57.6 132.0,57.4 132.2,57.2 132.3,56.9 132.5,56.7 132.7,56.5 132.8,56.3 133.0,56.1 133.1,55.9 133.3,55.7 133.5,55.5 133.6,55.3 133.8,55.2 134.0,55.0 134.1,54.8 134.3,54.6 134.4,54.4 134.6,54.2 134.8,54.0 134.9,53.8 135.1,53.7 135.3,53.5 135.4,53.3 135.6,53.1 135.7,53.0 135.9,52.8 136.1,52.6 136.2,52.4 136.4,52.3 136.6,52.1 136.7,51.9 136.9,51.8 137.0,51.6 137.2,51.4 137.4,51.2 137.5,51.1 137.7,50.9 137.9,50.8 138.0,50.6 138.2,50.4 138.4,50.3 138.5,50.1 138.7,49.9 138.8,49.8 139.0,49.6 140.0,48.6 141.0,47.6 142.1,46.6 143.1,45.7 144.1,44.7 145.1,43.7 146.2,42.8 147.2,41.9 148.2,41.0 149.2,40.1 150.2,39.2 151.3,38.3 152.3,37.5 153.3,36.7 154.3,36.0 155.3,35.2 156.4,34.5 157.4,33.8 158.4,33.2 159.4,32.6 160.5,32.0 161.5,31.5 162.5,31.0 163.5,30.5 164.5,30.0 165.6,29.5 166.6,29.1 167.6,28.7 168.6,28.2 169.6,27.8 170.7,27.4 171.7,27.0 172.7,26.7 173.7,26.3 174.8,25.9 175.8,25.6 176.8,25.2 177.8,24.8 178.8,24.5 179.9,24.1 180.9,23.8 181.9,23.4 182.9,23.1 183.9,22.7 185.0,22.4 186.0,22.0 187.0,21.7 188.0,21.3 189.1,21.0 190.1,20.6 191.1,20.3 192.1,20.0 193.1,19.7 194.2,19.4 195.2,19.2 196.2,18.9 197.2,18.7 198.2,18.5 199.3,18.3 200.3,18.1 201.3,17.9 202.3,17.8 203.4,17.6 204.4,17.5 205.4,17.3 206.4,17.1 207.4,17.0 208.5,16.9 209.5,16.7 210.5,16.6 211.5,16.4 212.5,16.3 213.6,16.2 214.6,16.0 215.6,15.9 216.6,15.8 217.6,15.7 218.7,15.6 219.7,15.4 220.7,15.3 221.7,15.2 222.8,15.1 223.8,15.0 224.8,14.9 225.8,14.8 226.8,14.7 227.9,14.6 228.9,14.5 229.9,14.4 230.9,14.3 231.9,14.2 233.0,14.1 234.0,14.1 235.0,14.0 236.0,13.9 237.1,13.8 238.1,13.7 239.1,13.7 240.1,13.6 241.1,13.5 242.2,13.4 243.2,13.4 244.2,13.3 245.2,13.2 246.2,13.2 247.3,13.1 248.3,13.0 249.3,13.0 250.3,12.9 251.4,12.9 252.4,12.8 253.4,12.7 254.4,12.7 255.4,12.6 256.5,12.6 257.5,12.5 258.5,12.4 259.5,12.4 260.5,12.3 261.6,12.3 262.6,12.2 263.6,12.2 264.6,12.1 265.7,12.1 266.7,12.0 267.7,12.0 268.7,11.9 269.7,11.9 270.8,11.8 271.8,11.8 272.8,11.7 273.8,11.7 274.8,11.7 275.9,11.6 276.9,11.6 277.9,11.5 278.9,11.5 280.0,11.5 281.0,11.4 282.0,11.4 283.0,11.3 284.0,11.3 285.1,11.3 286.1,11.2 287.1,11.2 288.1,11.2 289.1,11.1 290.2,11.1 291.2,11.1 292.2,11.1 293.2,11.0 294.3,11.0 295.3,11.0 296.3,10.9 297.3,10.9 298.3,10.9 299.4,10.9 300.4,10.9 301.4,10.8 302.4,10.8 303.4,10.8 304.5,10.8 305.5,10.7 306.5,10.7 307.5,10.7 308.5,10.7 309.6,10.7 310.6,10.6 311.6,10.6 312.6,10.6 313.7,10.6 314.7,10.6 315.7,10.5 316.7,10.5 317.7,10.5 318.8,10.5 319.8,10.5 320.8,10.5 321.8,10.4 322.8,10.4 323.9,10.4 324.9,10.4 325.9,10.4 326.9,10.4 328.0,10.4 329.0,10.3 330.0,10.3 331.0,10.3 332.0,10.3 333.1,10.3 334.1,10.3 335.1,10.3 336.1,10.3 337.1,10.3 338.2,10.3 339.2,10.2 340.2,10.2 341.2,10.2 342.3,10.2" fill="none" stroke="#ff1f1f" stroke-width="3.3" stroke-linejoin="round"/>
<g clip-path="url(#ca)" fill="#1f1fff"><circle cx="114.6" cy="112.3" r="1.5"/><circle cx="72.6" cy="3.1" r="1.5"/><circle cx="72.1" cy="2.6" r="1.5"/><circle cx="135.5" cy="65.3" r="1.5"/><circle cx="137.3" cy="63.2" r="1.5"/><circle cx="119.7" cy="96.5" r="1.5"/><circle cx="78.0" cy="34.0" r="1.5"/><circle cx="98.4" cy="168.8" r="1.5"/><circle cx="88.0" cy="144.3" r="1.5"/><circle cx="68.6" cy="1.9" r="1.5"/><circle cx="78.7" cy="38.3" r="1.5"/><circle cx="63.5" cy="-1.6" r="1.5"/><circle cx="141.1" cy="54.9" r="1.5"/><circle cx="78.7" cy="39.7" r="1.5"/><circle cx="91.5" cy="170.7" r="1.5"/><circle cx="79.5" cy="44.7" r="1.5"/><circle cx="113.9" cy="114.1" r="1.5"/><circle cx="106.3" cy="136.8" r="1.5"/><circle cx="123.6" cy="84.3" r="1.5"/><circle cx="59.6" cy="2.1" r="1.5"/><circle cx="76.0" cy="17.9" r="1.5"/><circle cx="109.4" cy="128.1" r="1.5"/><circle cx="107.5" cy="129.2" r="1.5"/><circle cx="128.6" cy="77.3" r="1.5"/><circle cx="65.4" cy="3.2" r="1.5"/><circle cx="90.1" cy="165.4" r="1.5"/><circle cx="92.9" cy="179.0" r="1.5"/><circle cx="102.1" cy="155.3" r="1.5"/><circle cx="88.4" cy="149.3" r="1.5"/><circle cx="121.0" cy="97.8" r="1.5"/><circle cx="67.5" cy="3.2" r="1.5"/><circle cx="63.7" cy="-0.9" r="1.5"/><circle cx="85.2" cy="107.1" r="1.5"/><circle cx="66.2" cy="3.0" r="1.5"/><circle cx="91.9" cy="174.4" r="1.5"/><circle cx="107.7" cy="136.0" r="1.5"/><circle cx="65.7" cy="-0.5" r="1.5"/><circle cx="97.6" cy="171.2" r="1.5"/><circle cx="105.7" cy="141.2" r="1.5"/><circle cx="106.5" cy="137.3" r="1.5"/><circle cx="61.2" cy="-3.2" r="1.5"/><circle cx="124.2" cy="84.6" r="1.5"/><circle cx="119.9" cy="94.5" r="1.5"/><circle cx="83.8" cy="85.0" r="1.5"/><circle cx="98.6" cy="168.3" r="1.5"/><circle cx="121.3" cy="92.7" r="1.5"/><circle cx="129.4" cy="74.2" r="1.5"/><circle cx="79.6" cy="41.5" r="1.5"/><circle cx="124.0" cy="86.5" r="1.5"/><circle cx="94.6" cy="179.2" r="1.5"/><circle cx="139.5" cy="59.8" r="1.5"/><circle cx="133.1" cy="71.8" r="1.5"/><circle cx="89.0" cy="155.6" r="1.5"/><circle cx="89.1" cy="155.4" r="1.5"/><circle cx="99.8" cy="161.7" r="1.5"/><circle cx="140.1" cy="59.9" r="1.5"/><circle cx="70.8" cy="6.9" r="1.5"/><circle cx="105.2" cy="141.7" r="1.5"/><circle cx="113.6" cy="114.6" r="1.5"/><circle cx="119.7" cy="95.3" r="1.5"/><circle cx="64.3" cy="-0.4" r="1.5"/><circle cx="109.5" cy="127.9" r="1.5"/><circle cx="96.8" cy="174.2" r="1.5"/><circle cx="87.4" cy="140.5" r="1.5"/><circle cx="141.0" cy="62.0" r="1.5"/><circle cx="67.6" cy="0.7" r="1.5"/><circle cx="118.7" cy="98.5" r="1.5"/><circle cx="75.9" cy="16.2" r="1.5"/><circle cx="139.1" cy="61.8" r="1.5"/><circle cx="101.1" cy="158.1" r="1.5"/><circle cx="97.1" cy="174.8" r="1.5"/><circle cx="79.7" cy="48.5" r="1.5"/><circle cx="103.9" cy="151.7" r="1.5"/><circle cx="132.0" cy="71.2" r="1.5"/><circle cx="64.7" cy="-0.3" r="1.5"/><circle cx="114.5" cy="109.5" r="1.5"/><circle cx="71.0" cy="5.4" r="1.5"/><circle cx="77.7" cy="27.5" r="1.5"/><circle cx="131.1" cy="74.8" r="1.5"/><circle cx="64.7" cy="-1.0" r="1.5"/><circle cx="120.7" cy="92.6" r="1.5"/><circle cx="63.5" cy="-4.4" r="1.5"/><circle cx="101.8" cy="153.5" r="1.5"/><circle cx="111.5" cy="118.6" r="1.5"/><circle cx="71.1" cy="3.9" r="1.5"/><circle cx="126.7" cy="81.8" r="1.5"/><circle cx="77.4" cy="31.1" r="1.5"/><circle cx="99.0" cy="165.0" r="1.5"/><circle cx="79.0" cy="38.0" r="1.5"/><circle cx="123.4" cy="83.6" r="1.5"/><circle cx="79.9" cy="44.3" r="1.5"/><circle cx="80.9" cy="53.2" r="1.5"/><circle cx="59.6" cy="-1.5" r="1.5"/><circle cx="135.0" cy="65.9" r="1.5"/><circle cx="61.5" cy="-0.2" r="1.5"/><circle cx="85.3" cy="109.7" r="1.5"/><circle cx="113.5" cy="117.2" r="1.5"/><circle cx="86.8" cy="132.1" r="1.5"/><circle cx="109.3" cy="130.2" r="1.5"/><circle cx="89.5" cy="161.2" r="1.5"/><circle cx="133.3" cy="69.9" r="1.5"/><circle cx="72.1" cy="6.6" r="1.5"/><circle cx="60.2" cy="2.3" r="1.5"/><circle cx="67.1" cy="2.7" r="1.5"/><circle cx="103.1" cy="150.3" r="1.5"/><circle cx="108.9" cy="130.3" r="1.5"/><circle cx="129.4" cy="74.0" r="1.5"/><circle cx="139.6" cy="54.8" r="1.5"/><circle cx="92.7" cy="175.4" r="1.5"/><circle cx="128.5" cy="74.8" r="1.5"/><circle cx="93.0" cy="175.2" r="1.5"/><circle cx="90.1" cy="164.0" r="1.5"/><circle cx="69.9" cy="2.7" r="1.5"/><circle cx="132.3" cy="74.2" r="1.5"/><circle cx="87.1" cy="135.2" r="1.5"/><circle cx="113.5" cy="114.7" r="1.5"/><circle cx="102.5" cy="151.1" r="1.5"/><circle cx="143.2" cy="53.6" r="1.5"/><circle cx="80.3" cy="48.2" r="1.5"/><circle cx="105.4" cy="142.9" r="1.5"/><circle cx="125.6" cy="84.1" r="1.5"/><circle cx="74.8" cy="12.1" r="1.5"/><circle cx="128.5" cy="77.7" r="1.5"/><circle cx="106.0" cy="139.6" r="1.5"/><circle cx="67.4" cy="2.2" r="1.5"/><circle cx="140.8" cy="58.1" r="1.5"/><circle cx="93.6" cy="179.9" r="1.5"/><circle cx="98.9" cy="165.2" r="1.5"/><circle cx="125.2" cy="85.1" r="1.5"/><circle cx="140.5" cy="55.2" r="1.5"/><circle cx="79.4" cy="41.9" r="1.5"/><circle cx="70.2" cy="2.7" r="1.5"/><circle cx="121.8" cy="88.5" r="1.5"/><circle cx="116.1" cy="106.0" r="1.5"/><circle cx="96.5" cy="177.4" r="1.5"/><circle cx="113.6" cy="114.6" r="1.5"/><circle cx="138.7" cy="62.4" r="1.5"/><circle cx="130.1" cy="74.8" r="1.5"/><circle cx="106.8" cy="134.8" r="1.5"/><circle cx="135.7" cy="64.3" r="1.5"/><circle cx="136.1" cy="63.3" r="1.5"/><circle cx="124.0" cy="84.7" r="1.5"/><circle cx="68.7" cy="2.7" r="1.5"/><circle cx="106.3" cy="140.1" r="1.5"/><circle cx="110.1" cy="124.6" r="1.5"/><circle cx="133.2" cy="68.5" r="1.5"/><circle cx="102.4" cy="151.3" r="1.5"/><circle cx="110.6" cy="127.7" r="1.5"/><circle cx="119.3" cy="98.4" r="1.5"/><circle cx="65.7" cy="2.2" r="1.5"/><circle cx="63.4" cy="1.6" r="1.5"/><circle cx="61.2" cy="5.7" r="1.5"/><circle cx="67.7" cy="1.5" r="1.5"/><circle cx="80.3" cy="50.9" r="1.5"/><circle cx="62.7" cy="1.1" r="1.5"/><circle cx="109.2" cy="130.5" r="1.5"/><circle cx="107.2" cy="137.4" r="1.5"/><circle cx="97.2" cy="172.3" r="1.5"/><circle cx="59.4" cy="4.9" r="1.5"/><circle cx="102.7" cy="156.3" r="1.5"/><circle cx="69.3" cy="0.2" r="1.5"/><circle cx="59.0" cy="1.1" r="1.5"/><circle cx="126.2" cy="78.7" r="1.5"/><circle cx="135.9" cy="60.5" r="1.5"/><circle cx="64.7" cy="4.5" r="1.5"/><circle cx="114.5" cy="109.4" r="1.5"/><circle cx="63.1" cy="0.8" r="1.5"/><circle cx="108.0" cy="130.2" r="1.5"/><circle cx="111.6" cy="120.5" r="1.5"/><circle cx="108.4" cy="133.4" r="1.5"/><circle cx="142.6" cy="56.4" r="1.5"/><circle cx="110.7" cy="126.4" r="1.5"/><circle cx="72.7" cy="6.0" r="1.5"/><circle cx="137.8" cy="60.6" r="1.5"/><circle cx="84.0" cy="91.8" r="1.5"/><circle cx="104.4" cy="146.0" r="1.5"/><circle cx="95.3" cy="180.4" r="1.5"/><circle cx="127.1" cy="78.0" r="1.5"/><circle cx="65.7" cy="-2.5" r="1.5"/><circle cx="89.8" cy="162.3" r="1.5"/><circle cx="96.2" cy="178.2" r="1.5"/><circle cx="109.3" cy="128.5" r="1.5"/><circle cx="135.7" cy="63.3" r="1.5"/><circle cx="84.2" cy="92.5" r="1.5"/><circle cx="87.9" cy="146.1" r="1.5"/><circle cx="115.6" cy="105.0" r="1.5"/><circle cx="76.3" cy="18.8" r="1.5"/><circle cx="101.9" cy="158.1" r="1.5"/><circle cx="85.7" cy="116.7" r="1.5"/><circle cx="111.5" cy="119.1" r="1.5"/><circle cx="107.9" cy="133.4" r="1.5"/><circle cx="116.8" cy="102.3" r="1.5"/><circle cx="95.1" cy="182.4" r="1.5"/><circle cx="78.4" cy="38.0" r="1.5"/><circle cx="59.8" cy="1.0" r="1.5"/><circle cx="109.7" cy="126.8" r="1.5"/><circle cx="77.7" cy="30.3" r="1.5"/><circle cx="59.0" cy="-1.1" r="1.5"/><circle cx="90.4" cy="166.3" r="1.5"/><circle cx="81.9" cy="59.4" r="1.5"/><circle cx="116.5" cy="106.3" r="1.5"/><circle cx="83.9" cy="88.4" r="1.5"/><circle cx="89.8" cy="163.3" r="1.5"/><circle cx="120.0" cy="97.1" r="1.5"/><circle cx="115.8" cy="108.3" r="1.5"/><circle cx="72.2" cy="3.0" r="1.5"/><circle cx="108.4" cy="131.6" r="1.5"/><circle cx="137.8" cy="63.6" r="1.5"/><circle cx="135.8" cy="65.3" r="1.5"/><circle cx="130.7" cy="75.5" r="1.5"/><circle cx="82.5" cy="69.0" r="1.5"/><circle cx="140.0" cy="58.1" r="1.5"/><circle cx="75.5" cy="13.7" r="1.5"/><circle cx="92.7" cy="176.4" r="1.5"/><circle cx="68.3" cy="4.5" r="1.5"/><circle cx="106.6" cy="137.0" r="1.5"/><circle cx="119.9" cy="96.0" r="1.5"/><circle cx="117.0" cy="104.2" r="1.5"/><circle cx="59.2" cy="-0.2" r="1.5"/><circle cx="142.0" cy="55.1" r="1.5"/><circle cx="143.0" cy="53.1" r="1.5"/><circle cx="146.5" cy="53.0" r="1.5"/><circle cx="148.9" cy="47.7" r="1.5"/><circle cx="152.4" cy="43.4" r="1.5"/><circle cx="154.1" cy="42.5" r="1.5"/><circle cx="158.5" cy="41.7" r="1.5"/><circle cx="161.2" cy="40.6" r="1.5"/><circle cx="162.8" cy="37.9" r="1.5"/><circle cx="166.5" cy="36.6" r="1.5"/><circle cx="168.8" cy="34.8" r="1.5"/><circle cx="171.4" cy="33.9" r="1.5"/><circle cx="175.4" cy="31.4" r="1.5"/><circle cx="178.1" cy="31.9" r="1.5"/><circle cx="180.6" cy="30.3" r="1.5"/><circle cx="183.6" cy="24.6" r="1.5"/><circle cx="186.9" cy="27.7" r="1.5"/><circle cx="188.8" cy="25.6" r="1.5"/><circle cx="191.9" cy="25.1" r="1.5"/><circle cx="194.3" cy="24.3" r="1.5"/><circle cx="197.5" cy="25.0" r="1.5"/><circle cx="199.9" cy="22.3" r="1.5"/><circle cx="203.0" cy="22.5" r="1.5"/><circle cx="206.4" cy="20.7" r="1.5"/><circle cx="208.6" cy="18.5" r="1.5"/><circle cx="212.1" cy="20.6" r="1.5"/><circle cx="215.2" cy="19.3" r="1.5"/><circle cx="217.8" cy="21.5" r="1.5"/><circle cx="220.3" cy="19.5" r="1.5"/><circle cx="223.0" cy="17.1" r="1.5"/><circle cx="225.3" cy="19.2" r="1.5"/><circle cx="229.4" cy="19.5" r="1.5"/><circle cx="232.6" cy="18.0" r="1.5"/><circle cx="234.2" cy="18.4" r="1.5"/><circle cx="237.8" cy="18.1" r="1.5"/><circle cx="240.5" cy="18.1" r="1.5"/><circle cx="243.7" cy="14.4" r="1.5"/><circle cx="246.3" cy="18.3" r="1.5"/><circle cx="248.3" cy="17.5" r="1.5"/><circle cx="251.1" cy="17.5" r="1.5"/><circle cx="254.3" cy="14.7" r="1.5"/><circle cx="256.9" cy="16.7" r="1.5"/><circle cx="260.4" cy="14.2" r="1.5"/><circle cx="262.4" cy="15.7" r="1.5"/><circle cx="266.3" cy="15.7" r="1.5"/><circle cx="269.3" cy="17.6" r="1.5"/><circle cx="270.8" cy="13.7" r="1.5"/><circle cx="275.2" cy="14.4" r="1.5"/><circle cx="277.9" cy="14.4" r="1.5"/><circle cx="279.4" cy="15.1" r="1.5"/><circle cx="283.1" cy="15.4" r="1.5"/><circle cx="285.1" cy="16.5" r="1.5"/><circle cx="288.7" cy="13.2" r="1.5"/><circle cx="290.8" cy="14.1" r="1.5"/><circle cx="294.6" cy="14.8" r="1.5"/><circle cx="296.5" cy="15.2" r="1.5"/><circle cx="299.4" cy="14.0" r="1.5"/><circle cx="303.8" cy="14.2" r="1.5"/><circle cx="306.4" cy="11.6" r="1.5"/><circle cx="309.0" cy="12.8" r="1.5"/><circle cx="312.0" cy="14.7" r="1.5"/><circle cx="313.9" cy="15.4" r="1.5"/><circle cx="316.5" cy="14.1" r="1.5"/><circle cx="319.8" cy="15.0" r="1.5"/><circle cx="323.4" cy="13.5" r="1.5"/><circle cx="326.2" cy="13.0" r="1.5"/><circle cx="329.0" cy="12.6" r="1.5"/><circle cx="331.3" cy="12.9" r="1.5"/><circle cx="334.3" cy="13.7" r="1.5"/><circle cx="337.6" cy="12.5" r="1.5"/><circle cx="340.2" cy="14.6" r="1.5"/></g>
<polyline clip-path="url(#ca)" points="57.7,2.0 57.9,1.9 58.0,1.9 58.2,1.9 58.4,1.8 58.5,1.8 58.7,1.8 58.8,1.8 59.0,1.7 59.2,1.7 59.3,1.7 59.5,1.7 59.7,1.7 59.8,1.7 60.0,1.6 60.1,1.6 60.3,1.6 60.5,1.6 60.6,1.6 60.8,1.6 61.0,1.6 61.1,1.6 61.3,1.5 61.5,1.5 61.6,1.5 61.8,1.5 61.9,1.5 62.1,1.5 62.3,1.5 62.4,1.5 62.6,1.5 62.8,1.5 62.9,1.5 63.1,1.5 63.2,1.5 63.4,1.5 63.6,1.5 63.7,1.5 63.9,1.5 64.1,1.5 64.2,1.5 64.4,1.6 64.5,1.6 64.7,1.6 64.9,1.6 65.0,1.6 65.2,1.6 65.4,1.6 65.5,1.7 65.7,1.7 65.9,1.7 66.0,1.7 66.2,1.7 66.3,1.8 66.5,1.8 66.7,1.8 66.8,1.8 67.0,1.9 67.2,1.9 67.3,1.9 67.5,1.9 67.6,2.0 67.8,2.0 68.0,2.0 68.1,2.1 68.3,2.1 68.5,2.1 68.6,2.2 68.8,2.2 68.9,2.3 69.1,2.3 69.3,2.4 69.4,2.4 69.6,2.5 69.8,2.6 69.9,2.6 70.1,2.7 70.3,2.8 70.4,2.8 70.6,2.9 70.7,3.0 70.9,3.1 71.1,3.2 71.2,3.3 71.4,3.4 71.6,3.5 71.7,3.6 71.9,3.7 72.0,3.8 72.2,3.9 72.4,4.1 72.5,4.3 72.7,4.5 72.9,4.7 73.0,4.9 73.2,5.2 73.3,5.5 73.5,5.8 73.7,6.2 73.8,6.6 74.0,7.0 74.2,7.6 74.3,8.2 74.5,9.0 74.6,9.8 74.8,10.7 75.0,11.6 75.1,12.5 75.3,13.5 75.5,14.5 75.6,15.6 75.8,16.6 76.0,17.6 76.1,18.6 76.3,19.7 76.4,20.8 76.6,22.0 76.8,23.2 76.9,24.4 77.1,25.7 77.3,27.0 77.4,28.3 77.6,29.6 77.7,30.9 77.9,32.2 78.1,33.6 78.2,34.9 78.4,36.1 78.6,37.4 78.7,38.6 78.9,39.7 79.0,40.8 79.2,41.9 79.4,43.0 79.5,44.0 79.7,45.1 79.9,46.1 80.0,47.1 80.2,48.1 80.4,49.2 80.5,50.2 80.7,51.3 80.8,52.5 81.0,53.6 81.2,54.8 81.3,56.1 81.5,57.4 81.7,58.9 81.8,60.3 82.0,61.9 82.1,63.7 82.3,65.5 82.5,67.4 82.6,69.5 82.8,71.6 83.0,73.8 83.1,76.0 83.3,78.3 83.4,80.6 83.6,83.0 83.8,85.4 83.9,87.8 84.1,90.1 84.3,92.5 84.4,94.8 84.6,97.2 84.8,99.6 84.9,102.1 85.1,104.6 85.2,107.3 85.4,110.0 85.6,112.7 85.7,115.4 85.9,118.1 86.1,120.8 86.2,123.5 86.4,126.1 86.5,128.6 86.7,131.0 86.9,133.3 87.0,135.5 87.2,137.6 87.4,139.5 87.5,141.3 87.7,143.0 87.8,144.7 88.0,146.4 88.2,148.0 88.3,149.7 88.5,151.2 88.7,152.8 88.8,154.2 89.0,155.7 89.2,157.1 89.3,158.5 89.5,159.8 89.6,161.0 89.8,162.2 90.0,163.3 90.1,164.4 90.3,165.4 90.5,166.4 90.6,167.3 90.8,168.1 90.9,168.9 91.1,169.7 91.3,170.5 91.4,171.3 91.6,172.0 91.8,172.8 91.9,173.6 92.1,174.3 92.2,175.0 92.4,175.7 92.6,176.4 92.7,177.0 92.9,177.7 93.1,178.2 93.2,178.8 93.4,179.3 93.5,179.7 93.7,180.2 93.9,180.5 94.0,180.8 94.2,181.1 94.4,181.3 94.5,181.4 94.7,181.5 94.9,181.5 95.0,181.4 95.2,181.2 95.3,180.9 95.5,180.6 95.7,180.2 95.8,179.7 96.0,179.1 96.2,178.5 96.3,177.9 96.5,177.2 96.6,176.5 96.8,175.8 97.0,175.0 97.1,174.2 97.3,173.5 97.5,172.7 97.6,172.0 97.8,171.2 97.9,170.5 98.1,169.8 98.3,169.2 98.4,168.6 98.6,168.0 98.8,167.4 98.9,166.8 99.1,166.2 99.3,165.6 99.4,165.0 99.6,164.4 99.7,163.8 99.9,163.1 100.1,162.5 100.2,161.9 100.4,161.3 100.6,160.7 100.7,160.0 100.9,159.4 101.0,158.8 101.2,158.2 101.4,157.5 101.5,156.9 101.7,156.3 101.9,155.7 102.0,155.0 102.2,154.4 102.3,153.8 102.5,153.1 102.7,152.5 102.8,151.9 103.0,151.2 103.2,150.6 103.3,150.0 103.5,149.4 103.7,148.7 103.8,148.1 104.0,147.5 104.1,146.9 104.3,146.3 104.5,145.6 104.6,145.0 104.8,144.4 105.0,143.8 105.1,143.2 105.3,142.6 105.4,142.0 105.6,141.4 105.8,140.8 105.9,140.2 106.1,139.6 106.3,139.0 106.4,138.4 106.6,137.8 106.7,137.2 106.9,136.6 107.1,136.0 107.2,135.4 107.4,134.8 107.6,134.2 107.7,133.6 107.9,133.0 108.0,132.4 108.2,131.8 108.4,131.2 108.5,130.6 108.7,130.0 108.9,129.4 109.0,128.8 109.2,128.2 109.4,127.7 109.5,127.1 109.7,126.5 109.8,125.9 110.0,125.4 110.2,124.8 110.3,124.2 110.5,123.7 110.7,123.2 110.8,122.6 111.0,122.1 111.1,121.5 111.3,121.0 111.5,120.5 111.6,120.0 111.8,119.5 112.0,119.0 112.1,118.5 112.3,118.0 112.4,117.5 112.6,117.0 112.8,116.5 112.9,116.0 113.1,115.5 113.3,115.0 113.4,114.5 113.6,114.0 113.8,113.5 113.9,113.0 114.1,112.5 114.2,112.0 114.4,111.5 114.6,111.0 114.7,110.5 114.9,110.0 115.1,109.5 115.2,109.1 115.4,108.6 115.5,108.1 115.7,107.6 115.9,107.1 116.0,106.7 116.2,106.2 116.4,105.7 116.5,105.2 116.7,104.8 116.8,104.3 117.0,103.8 117.2,103.4 117.3,102.9 117.5,102.4 117.7,102.0 117.8,101.5 118.0,101.1 118.2,100.6 118.3,100.2 118.5,99.7 118.6,99.3 118.8,98.8 119.0,98.4 119.1,98.0 119.3,97.5 119.5,97.1 119.6,96.7 119.8,96.2 119.9,95.8 120.1,95.4 120.3,95.0 120.4,94.5 120.6,94.1 120.8,93.7 120.9,93.3 121.1,92.9 121.2,92.5 121.4,92.1 121.6,91.7 121.7,91.3 121.9,90.9 122.1,90.5 122.2,90.1 122.4,89.7 122.5,89.3 122.7,89.0 122.9,88.6 123.0,88.2 123.2,87.8 123.4,87.5 123.5,87.1 123.7,86.8 123.9,86.4 124.0,86.0 124.2,85.7 124.3,85.3 124.5,85.0 124.7,84.7 124.8,84.3 125.0,84.0 125.2,83.7 125.3,83.4 125.5,83.0 125.6,82.7 125.8,82.4 126.0,82.1 126.1,81.8 126.3,81.5 126.5,81.2 126.6,81.0 126.8,80.7 126.9,80.4 127.1,80.1 127.3,79.9 127.4,79.6 127.6,79.3 127.8,79.1 127.9,78.8 128.1,78.5 128.3,78.3 128.4,78.0 128.6,77.7 128.7,77.5 128.9,77.2 129.1,77.0 129.2,76.7 129.4,76.4 129.6,76.2 129.7,75.9 129.9,75.6 130.0,75.3 130.2,75.1 130.4,74.8 130.5,74.5 130.7,74.2 130.9,73.9 131.0,73.7 131.2,73.4 131.3,73.1 131.5,72.8 131.7,72.5 131.8,72.2 132.0,71.9 132.2,71.7 132.3,71.4 132.5,71.1 132.7,70.8 132.8,70.5 133.0,70.2 133.1,69.9 133.3,69.6 133.5,69.3 133.6,69.0 133.8,68.7 134.0,68.4 134.1,68.1 134.3,67.9 134.4,67.6 134.6,67.3 134.8,67.0 134.9,66.7 135.1,66.4 135.3,66.1 135.4,65.9 135.6,65.6 135.7,65.3 135.9,65.0 136.1,64.7 136.2,64.5 136.4,64.2 136.6,63.9 136.7,63.6 136.9,63.4 137.0,63.1 137.2,62.8 137.4,62.6 137.5,62.3 137.7,62.1 137.9,61.8 138.0,61.6 138.2,61.3 138.4,61.1 138.5,60.8 138.7,60.6 138.8,60.4 139.0,60.1 140.0,58.8 141.0,57.5 142.1,56.3 143.1,55.0 144.1,53.8 145.1,52.7 146.2,51.5 147.2,50.4 148.2,49.3 149.2,48.3 150.2,47.2 151.3,46.3 152.3,45.3 153.3,44.4 154.3,43.5 155.3,42.7 156.4,41.9 157.4,41.1 158.4,40.4 159.4,39.7 160.5,39.1 161.5,38.5 162.5,37.9 163.5,37.4 164.5,36.9 165.6,36.4 166.6,35.9 167.6,35.4 168.6,35.0 169.6,34.5 170.7,34.1 171.7,33.7 172.7,33.3 173.7,32.9 174.8,32.5 175.8,32.1 176.8,31.7 177.8,31.3 178.8,30.9 179.9,30.5 180.9,30.0 181.9,29.6 182.9,29.2 183.9,28.8 185.0,28.3 186.0,27.9 187.0,27.5 188.0,27.0 189.1,26.6 190.1,26.2 191.1,25.8 192.1,25.4 193.1,25.1 194.2,24.7 195.2,24.4 196.2,24.1 197.2,23.8 198.2,23.5 199.3,23.3 200.3,23.0 201.3,22.8 202.3,22.6 203.4,22.4 204.4,22.3 205.4,22.1 206.4,21.9 207.4,21.7 208.5,21.5 209.5,21.4 210.5,21.2 211.5,21.0 212.5,20.9 213.6,20.7 214.6,20.6 215.6,20.4 216.6,20.3 217.6,20.1 218.7,20.0 219.7,19.8 220.7,19.7 221.7,19.6 222.8,19.4 223.8,19.3 224.8,19.2 225.8,19.1 226.8,18.9 227.9,18.8 228.9,18.7 229.9,18.6 230.9,18.5 231.9,18.4 233.0,18.3 234.0,18.2 235.0,18.1 236.0,18.0 237.1,17.9 238.1,17.8 239.1,17.7 240.1,17.6 241.1,17.5 242.2,17.4 243.2,17.3 244.2,17.2 245.2,17.2 246.2,17.1 247.3,17.0 248.3,16.9 249.3,16.9 250.3,16.8 251.4,16.7 252.4,16.6 253.4,16.6 254.4,16.5 255.4,16.4 256.5,16.3 257.5,16.3 258.5,16.2 259.5,16.1 260.5,16.1 261.6,16.0 262.6,15.9 263.6,15.9 264.6,15.8 265.7,15.7 266.7,15.7 267.7,15.6 268.7,15.6 269.7,15.5 270.8,15.4 271.8,15.4 272.8,15.3 273.8,15.3 274.8,15.2 275.9,15.2 276.9,15.1 277.9,15.1 278.9,15.0 280.0,14.9 281.0,14.9 282.0,14.9 283.0,14.8 284.0,14.8 285.1,14.7 286.1,14.7 287.1,14.6 288.1,14.6 289.1,14.5 290.2,14.5 291.2,14.5 292.2,14.4 293.2,14.4 294.3,14.4 295.3,14.3 296.3,14.3 297.3,14.3 298.3,14.2 299.4,14.2 300.4,14.2 301.4,14.2 302.4,14.1 303.4,14.1 304.5,14.1 305.5,14.0 306.5,14.0 307.5,14.0 308.5,14.0 309.6,13.9 310.6,13.9 311.6,13.9 312.6,13.9 313.7,13.8 314.7,13.8 315.7,13.8 316.7,13.8 317.7,13.7 318.8,13.7 319.8,13.7 320.8,13.7 321.8,13.7 322.8,13.6 323.9,13.6 324.9,13.6 325.9,13.6 326.9,13.6 328.0,13.5 329.0,13.5 330.0,13.5 331.0,13.5 332.0,13.5 333.1,13.5 334.1,13.5 335.1,13.4 336.1,13.4 337.1,13.4 338.2,13.4 339.2,13.4 340.2,13.4 341.2,13.4 342.3,13.4" fill="none" stroke="#1f1fff" stroke-width="3.3" stroke-linejoin="round"/>
<g clip-path="url(#ca)" fill="#861010"><circle cx="59.0" cy="7.1" r="1.5"/><circle cx="130.3" cy="82.0" r="1.5"/><circle cx="93.6" cy="193.9" r="1.5"/><circle cx="77.0" cy="25.1" r="1.5"/><circle cx="138.9" cy="66.7" r="1.5"/><circle cx="65.9" cy="9.3" r="1.5"/><circle cx="88.5" cy="154.2" r="1.5"/><circle cx="98.2" cy="191.6" r="1.5"/><circle cx="81.0" cy="53.5" r="1.5"/><circle cx="89.0" cy="159.5" r="1.5"/><circle cx="130.2" cy="84.0" r="1.5"/><circle cx="75.3" cy="18.5" r="1.5"/><circle cx="105.9" cy="159.4" r="1.5"/><circle cx="76.6" cy="23.1" r="1.5"/><circle cx="111.2" cy="137.1" r="1.5"/><circle cx="79.9" cy="45.5" r="1.5"/><circle cx="85.4" cy="107.6" r="1.5"/><circle cx="103.3" cy="171.0" r="1.5"/><circle cx="80.0" cy="45.6" r="1.5"/><circle cx="120.5" cy="108.5" r="1.5"/><circle cx="77.7" cy="32.7" r="1.5"/><circle cx="129.7" cy="85.7" r="1.5"/><circle cx="118.1" cy="115.0" r="1.5"/><circle cx="69.6" cy="9.6" r="1.5"/><circle cx="102.7" cy="169.0" r="1.5"/><circle cx="64.2" cy="8.3" r="1.5"/><circle cx="73.2" cy="12.5" r="1.5"/><circle cx="85.2" cy="105.8" r="1.5"/><circle cx="118.7" cy="111.6" r="1.5"/><circle cx="111.1" cy="141.1" r="1.5"/><circle cx="103.8" cy="169.1" r="1.5"/><circle cx="74.1" cy="14.3" r="1.5"/><circle cx="83.8" cy="85.3" r="1.5"/><circle cx="116.9" cy="118.3" r="1.5"/><circle cx="100.2" cy="184.3" r="1.5"/><circle cx="86.0" cy="119.2" r="1.5"/><circle cx="64.5" cy="10.1" r="1.5"/><circle cx="62.5" cy="6.5" r="1.5"/><circle cx="137.1" cy="72.8" r="1.5"/><circle cx="93.9" cy="194.4" r="1.5"/><circle cx="134.4" cy="76.8" r="1.5"/><circle cx="79.2" cy="41.5" r="1.5"/><circle cx="108.7" cy="148.5" r="1.5"/><circle cx="80.3" cy="50.1" r="1.5"/><circle cx="133.5" cy="73.9" r="1.5"/><circle cx="77.6" cy="29.6" r="1.5"/><circle cx="104.9" cy="161.6" r="1.5"/><circle cx="140.6" cy="66.8" r="1.5"/><circle cx="120.6" cy="107.7" r="1.5"/><circle cx="105.7" cy="160.5" r="1.5"/><circle cx="89.5" cy="164.4" r="1.5"/><circle cx="103.6" cy="173.2" r="1.5"/><circle cx="58.9" cy="8.4" r="1.5"/><circle cx="69.7" cy="8.5" r="1.5"/><circle cx="82.3" cy="65.3" r="1.5"/><circle cx="62.6" cy="8.5" r="1.5"/><circle cx="78.8" cy="40.0" r="1.5"/><circle cx="94.3" cy="197.4" r="1.5"/><circle cx="131.4" cy="78.8" r="1.5"/><circle cx="136.6" cy="69.2" r="1.5"/><circle cx="60.4" cy="9.2" r="1.5"/><circle cx="97.6" cy="191.6" r="1.5"/><circle cx="116.6" cy="120.4" r="1.5"/><circle cx="122.5" cy="99.5" r="1.5"/><circle cx="72.1" cy="10.2" r="1.5"/><circle cx="59.2" cy="7.6" r="1.5"/><circle cx="79.8" cy="44.6" r="1.5"/><circle cx="85.3" cy="104.8" r="1.5"/><circle cx="74.5" cy="14.4" r="1.5"/><circle cx="77.3" cy="27.6" r="1.5"/><circle cx="114.8" cy="122.3" r="1.5"/><circle cx="77.4" cy="29.3" r="1.5"/><circle cx="74.6" cy="14.5" r="1.5"/><circle cx="81.6" cy="55.7" r="1.5"/><circle cx="97.2" cy="196.2" r="1.5"/><circle cx="75.4" cy="17.5" r="1.5"/><circle cx="100.7" cy="181.1" r="1.5"/><circle cx="138.1" cy="68.1" r="1.5"/><circle cx="128.3" cy="89.8" r="1.5"/><circle cx="122.4" cy="102.3" r="1.5"/><circle cx="138.6" cy="72.4" r="1.5"/><circle cx="136.8" cy="75.2" r="1.5"/><circle cx="105.5" cy="159.6" r="1.5"/><circle cx="117.3" cy="116.8" r="1.5"/><circle cx="88.5" cy="154.0" r="1.5"/><circle cx="104.3" cy="164.0" r="1.5"/><circle cx="136.7" cy="71.3" r="1.5"/><circle cx="101.7" cy="177.2" r="1.5"/><circle cx="94.4" cy="195.1" r="1.5"/><circle cx="114.5" cy="126.3" r="1.5"/><circle cx="98.1" cy="191.9" r="1.5"/><circle cx="66.7" cy="8.2" r="1.5"/><circle cx="90.8" cy="178.0" r="1.5"/><circle cx="70.1" cy="9.5" r="1.5"/><circle cx="136.2" cy="73.5" r="1.5"/><circle cx="121.5" cy="104.0" r="1.5"/><circle cx="95.9" cy="197.3" r="1.5"/><circle cx="64.6" cy="8.8" r="1.5"/><circle cx="68.2" cy="10.1" r="1.5"/><circle cx="80.9" cy="54.2" r="1.5"/><circle cx="103.1" cy="166.4" r="1.5"/><circle cx="67.6" cy="7.3" r="1.5"/><circle cx="89.4" cy="163.1" r="1.5"/><circle cx="74.0" cy="13.6" r="1.5"/><circle cx="67.4" cy="9.2" r="1.5"/><circle cx="68.8" cy="7.2" r="1.5"/><circle cx="68.8" cy="7.9" r="1.5"/><circle cx="129.2" cy="86.3" r="1.5"/><circle cx="73.9" cy="13.3" r="1.5"/><circle cx="68.1" cy="7.7" r="1.5"/><circle cx="129.1" cy="84.5" r="1.5"/><circle cx="140.2" cy="66.1" r="1.5"/><circle cx="120.9" cy="106.3" r="1.5"/><circle cx="64.8" cy="8.5" r="1.5"/><circle cx="70.1" cy="9.0" r="1.5"/><circle cx="71.0" cy="7.8" r="1.5"/><circle cx="66.9" cy="7.4" r="1.5"/><circle cx="99.4" cy="189.3" r="1.5"/><circle cx="63.3" cy="8.5" r="1.5"/><circle cx="126.1" cy="93.0" r="1.5"/><circle cx="93.5" cy="194.4" r="1.5"/><circle cx="75.2" cy="16.9" r="1.5"/><circle cx="66.5" cy="7.2" r="1.5"/><circle cx="106.9" cy="155.3" r="1.5"/><circle cx="124.6" cy="95.6" r="1.5"/><circle cx="108.1" cy="152.0" r="1.5"/><circle cx="78.8" cy="38.9" r="1.5"/><circle cx="126.7" cy="92.4" r="1.5"/><circle cx="102.3" cy="169.6" r="1.5"/><circle cx="108.3" cy="149.6" r="1.5"/><circle cx="135.6" cy="73.0" r="1.5"/><circle cx="115.9" cy="121.6" r="1.5"/><circle cx="68.5" cy="9.3" r="1.5"/><circle cx="117.5" cy="117.7" r="1.5"/><circle cx="83.2" cy="74.7" r="1.5"/><circle cx="125.6" cy="97.1" r="1.5"/><circle cx="106.3" cy="156.9" r="1.5"/><circle cx="104.5" cy="164.5" r="1.5"/><circle cx="70.6" cy="7.6" r="1.5"/><circle cx="60.9" cy="8.6" r="1.5"/><circle cx="141.3" cy="67.4" r="1.5"/><circle cx="61.2" cy="9.7" r="1.5"/><circle cx="63.0" cy="8.0" r="1.5"/><circle cx="97.5" cy="195.1" r="1.5"/><circle cx="138.2" cy="68.4" r="1.5"/><circle cx="104.6" cy="163.0" r="1.5"/><circle cx="142.8" cy="61.5" r="1.5"/><circle cx="119.4" cy="112.9" r="1.5"/><circle cx="128.3" cy="88.7" r="1.5"/><circle cx="128.1" cy="86.7" r="1.5"/><circle cx="138.6" cy="71.4" r="1.5"/><circle cx="140.8" cy="62.4" r="1.5"/><circle cx="86.4" cy="125.3" r="1.5"/><circle cx="118.7" cy="112.5" r="1.5"/><circle cx="101.7" cy="177.2" r="1.5"/><circle cx="141.7" cy="63.8" r="1.5"/><circle cx="108.8" cy="149.5" r="1.5"/><circle cx="92.6" cy="188.4" r="1.5"/><circle cx="61.5" cy="5.7" r="1.5"/><circle cx="120.5" cy="104.9" r="1.5"/><circle cx="59.7" cy="7.7" r="1.5"/><circle cx="113.6" cy="128.4" r="1.5"/><circle cx="81.1" cy="53.7" r="1.5"/><circle cx="115.9" cy="120.1" r="1.5"/><circle cx="142.8" cy="65.1" r="1.5"/><circle cx="88.2" cy="148.6" r="1.5"/><circle cx="105.9" cy="157.2" r="1.5"/><circle cx="105.8" cy="159.1" r="1.5"/><circle cx="72.4" cy="9.8" r="1.5"/><circle cx="121.2" cy="105.5" r="1.5"/><circle cx="118.3" cy="112.5" r="1.5"/><circle cx="124.1" cy="99.2" r="1.5"/><circle cx="77.3" cy="31.3" r="1.5"/><circle cx="64.3" cy="8.8" r="1.5"/><circle cx="92.0" cy="186.7" r="1.5"/><circle cx="68.5" cy="7.5" r="1.5"/><circle cx="82.1" cy="63.3" r="1.5"/><circle cx="60.0" cy="8.7" r="1.5"/><circle cx="92.7" cy="190.3" r="1.5"/><circle cx="89.2" cy="162.9" r="1.5"/><circle cx="86.3" cy="122.3" r="1.5"/><circle cx="91.3" cy="182.1" r="1.5"/><circle cx="62.0" cy="6.7" r="1.5"/><circle cx="95.5" cy="197.6" r="1.5"/><circle cx="114.1" cy="129.8" r="1.5"/><circle cx="86.1" cy="122.3" r="1.5"/><circle cx="106.7" cy="154.0" r="1.5"/><circle cx="126.7" cy="91.1" r="1.5"/><circle cx="103.2" cy="171.4" r="1.5"/><circle cx="137.3" cy="70.5" r="1.5"/><circle cx="124.0" cy="99.9" r="1.5"/><circle cx="105.9" cy="162.2" r="1.5"/><circle cx="65.7" cy="7.8" r="1.5"/><circle cx="98.4" cy="190.7" r="1.5"/><circle cx="61.5" cy="7.7" r="1.5"/><circle cx="139.7" cy="66.7" r="1.5"/><circle cx="62.5" cy="6.3" r="1.5"/><circle cx="76.3" cy="22.9" r="1.5"/><circle cx="74.1" cy="14.4" r="1.5"/><circle cx="131.7" cy="81.3" r="1.5"/><circle cx="135.6" cy="75.9" r="1.5"/><circle cx="120.2" cy="109.3" r="1.5"/><circle cx="131.0" cy="83.8" r="1.5"/><circle cx="80.7" cy="51.1" r="1.5"/><circle cx="134.6" cy="78.2" r="1.5"/><circle cx="67.2" cy="8.3" r="1.5"/><circle cx="84.9" cy="98.9" r="1.5"/><circle cx="131.5" cy="81.9" r="1.5"/><circle cx="117.2" cy="115.3" r="1.5"/><circle cx="137.8" cy="68.4" r="1.5"/><circle cx="130.6" cy="79.6" r="1.5"/><circle cx="76.5" cy="25.6" r="1.5"/><circle cx="94.1" cy="194.1" r="1.5"/><circle cx="142.5" cy="62.5" r="1.5"/><circle cx="118.3" cy="113.6" r="1.5"/><circle cx="126.0" cy="92.3" r="1.5"/><circle cx="65.6" cy="7.0" r="1.5"/><circle cx="139.5" cy="68.4" r="1.5"/><circle cx="105.3" cy="160.9" r="1.5"/><circle cx="71.6" cy="9.9" r="1.5"/><circle cx="142.8" cy="63.9" r="1.5"/><circle cx="145.5" cy="58.5" r="1.5"/><circle cx="149.7" cy="57.7" r="1.5"/><circle cx="151.5" cy="53.7" r="1.5"/><circle cx="154.7" cy="50.5" r="1.5"/><circle cx="157.7" cy="47.0" r="1.5"/><circle cx="161.4" cy="44.9" r="1.5"/><circle cx="163.9" cy="43.5" r="1.5"/><circle cx="166.3" cy="41.6" r="1.5"/><circle cx="169.7" cy="41.4" r="1.5"/><circle cx="171.5" cy="37.3" r="1.5"/><circle cx="174.1" cy="38.7" r="1.5"/><circle cx="177.2" cy="35.5" r="1.5"/><circle cx="180.7" cy="35.1" r="1.5"/><circle cx="183.1" cy="34.4" r="1.5"/><circle cx="187.1" cy="31.6" r="1.5"/><circle cx="189.1" cy="30.9" r="1.5"/><circle cx="192.0" cy="28.6" r="1.5"/><circle cx="195.2" cy="27.9" r="1.5"/><circle cx="197.6" cy="29.5" r="1.5"/><circle cx="199.9" cy="27.4" r="1.5"/><circle cx="202.8" cy="27.3" r="1.5"/><circle cx="206.1" cy="27.8" r="1.5"/><circle cx="208.5" cy="27.6" r="1.5"/><circle cx="211.3" cy="25.1" r="1.5"/><circle cx="214.4" cy="25.5" r="1.5"/><circle cx="218.1" cy="26.0" r="1.5"/><circle cx="221.0" cy="23.5" r="1.5"/><circle cx="222.8" cy="22.8" r="1.5"/><circle cx="225.5" cy="22.4" r="1.5"/><circle cx="228.1" cy="23.9" r="1.5"/><circle cx="230.9" cy="22.5" r="1.5"/><circle cx="234.4" cy="19.2" r="1.5"/><circle cx="236.9" cy="21.9" r="1.5"/><circle cx="240.3" cy="20.8" r="1.5"/><circle cx="242.5" cy="16.8" r="1.5"/><circle cx="246.2" cy="19.3" r="1.5"/><circle cx="249.0" cy="20.3" r="1.5"/><circle cx="252.5" cy="22.1" r="1.5"/><circle cx="255.1" cy="18.7" r="1.5"/><circle cx="256.7" cy="21.0" r="1.5"/><circle cx="260.3" cy="18.9" r="1.5"/><circle cx="262.9" cy="20.0" r="1.5"/><circle cx="265.1" cy="21.0" r="1.5"/><circle cx="268.9" cy="16.0" r="1.5"/><circle cx="272.5" cy="18.4" r="1.5"/><circle cx="273.9" cy="16.9" r="1.5"/><circle cx="276.5" cy="17.0" r="1.5"/><circle cx="279.7" cy="19.0" r="1.5"/><circle cx="282.9" cy="17.7" r="1.5"/><circle cx="285.5" cy="18.3" r="1.5"/><circle cx="289.1" cy="16.3" r="1.5"/><circle cx="291.2" cy="17.0" r="1.5"/><circle cx="295.1" cy="18.0" r="1.5"/><circle cx="296.6" cy="15.0" r="1.5"/><circle cx="299.5" cy="16.6" r="1.5"/><circle cx="303.8" cy="16.6" r="1.5"/><circle cx="305.1" cy="18.3" r="1.5"/><circle cx="309.1" cy="16.5" r="1.5"/><circle cx="310.8" cy="19.1" r="1.5"/><circle cx="313.8" cy="16.3" r="1.5"/><circle cx="317.5" cy="18.2" r="1.5"/><circle cx="320.7" cy="16.5" r="1.5"/><circle cx="323.1" cy="17.1" r="1.5"/><circle cx="326.7" cy="16.3" r="1.5"/><circle cx="329.5" cy="16.0" r="1.5"/><circle cx="330.8" cy="16.6" r="1.5"/><circle cx="334.3" cy="16.5" r="1.5"/><circle cx="337.1" cy="18.5" r="1.5"/><circle cx="339.5" cy="19.1" r="1.5"/></g>
<polyline clip-path="url(#ca)" points="57.7,8.7 57.9,8.7 58.0,8.6 58.2,8.6 58.4,8.6 58.5,8.6 58.7,8.5 58.8,8.5 59.0,8.5 59.2,8.5 59.3,8.5 59.5,8.4 59.7,8.4 59.8,8.4 60.0,8.4 60.1,8.4 60.3,8.4 60.5,8.3 60.6,8.3 60.8,8.3 61.0,8.3 61.1,8.3 61.3,8.3 61.5,8.3 61.6,8.3 61.8,8.3 61.9,8.3 62.1,8.3 62.3,8.3 62.4,8.3 62.6,8.3 62.8,8.3 62.9,8.3 63.1,8.3 63.2,8.3 63.4,8.3 63.6,8.3 63.7,8.3 63.9,8.3 64.1,8.3 64.2,8.3 64.4,8.3 64.5,8.3 64.7,8.3 64.9,8.3 65.0,8.4 65.2,8.4 65.4,8.4 65.5,8.4 65.7,8.4 65.9,8.5 66.0,8.5 66.2,8.5 66.3,8.5 66.5,8.5 66.7,8.6 66.8,8.6 67.0,8.6 67.2,8.6 67.3,8.7 67.5,8.7 67.6,8.7 67.8,8.7 68.0,8.8 68.1,8.8 68.3,8.8 68.5,8.9 68.6,8.9 68.8,9.0 68.9,9.0 69.1,9.1 69.3,9.1 69.4,9.2 69.6,9.2 69.8,9.3 69.9,9.4 70.1,9.4 70.3,9.5 70.4,9.6 70.6,9.7 70.7,9.7 70.9,9.8 71.1,9.9 71.2,10.0 71.4,10.1 71.6,10.2 71.7,10.3 71.9,10.4 72.0,10.5 72.2,10.7 72.4,10.8 72.5,11.0 72.7,11.2 72.9,11.5 73.0,11.7 73.2,12.0 73.3,12.3 73.5,12.6 73.7,13.0 73.8,13.3 74.0,13.7 74.2,14.1 74.3,14.6 74.5,15.1 74.6,15.7 74.8,16.3 75.0,16.9 75.1,17.5 75.3,18.2 75.5,18.9 75.6,19.6 75.8,20.3 76.0,21.1 76.1,21.8 76.3,22.7 76.4,23.5 76.6,24.4 76.8,25.4 76.9,26.4 77.1,27.5 77.3,28.5 77.4,29.6 77.6,30.7 77.7,31.8 77.9,33.0 78.1,34.1 78.2,35.2 78.4,36.3 78.6,37.5 78.7,38.5 78.9,39.6 79.0,40.7 79.2,41.7 79.4,42.7 79.5,43.7 79.7,44.8 79.9,45.8 80.0,46.8 80.2,47.9 80.4,48.9 80.5,50.0 80.7,51.2 80.8,52.3 81.0,53.5 81.2,54.8 81.3,56.1 81.5,57.4 81.7,58.8 81.8,60.3 82.0,61.9 82.1,63.7 82.3,65.5 82.5,67.4 82.6,69.5 82.8,71.6 83.0,73.8 83.1,76.0 83.3,78.3 83.4,80.6 83.6,83.0 83.8,85.4 83.9,87.8 84.1,90.1 84.3,92.5 84.4,94.8 84.6,97.1 84.8,99.5 84.9,101.9 85.1,104.4 85.2,107.0 85.4,109.5 85.6,112.1 85.7,114.7 85.9,117.3 86.1,119.9 86.2,122.5 86.4,125.1 86.5,127.6 86.7,130.1 86.9,132.5 87.0,134.9 87.2,137.2 87.4,139.4 87.5,141.5 87.7,143.7 87.8,145.8 88.0,147.8 88.2,149.9 88.3,151.9 88.5,153.9 88.7,155.8 88.8,157.7 89.0,159.6 89.2,161.4 89.3,163.2 89.5,164.9 89.6,166.6 89.8,168.2 90.0,169.9 90.1,171.5 90.3,173.1 90.5,174.7 90.6,176.4 90.8,177.9 90.9,179.5 91.1,180.9 91.3,182.3 91.4,183.6 91.6,184.9 91.8,185.9 91.9,186.9 92.1,187.7 92.2,188.4 92.4,189.1 92.6,189.8 92.7,190.5 92.9,191.2 93.1,191.9 93.2,192.5 93.4,193.1 93.5,193.6 93.7,194.2 93.9,194.7 94.0,195.1 94.2,195.5 94.4,195.9 94.5,196.2 94.7,196.4 94.9,196.6 95.0,196.7 95.2,196.8 95.3,196.8 95.5,196.7 95.7,196.6 95.8,196.5 96.0,196.3 96.2,196.1 96.3,195.9 96.5,195.6 96.6,195.3 96.8,194.9 97.0,194.5 97.1,194.1 97.3,193.6 97.5,193.2 97.6,192.7 97.8,192.1 97.9,191.6 98.1,191.0 98.3,190.4 98.4,189.8 98.6,189.2 98.8,188.5 98.9,187.9 99.1,187.2 99.3,186.5 99.4,185.8 99.6,185.1 99.7,184.3 99.9,183.6 100.1,182.9 100.2,182.1 100.4,181.4 100.6,180.6 100.7,179.9 100.9,179.1 101.0,178.3 101.2,177.6 101.4,176.9 101.5,176.1 101.7,175.4 101.9,174.7 102.0,173.9 102.2,173.2 102.3,172.5 102.5,171.9 102.7,171.2 102.8,170.5 103.0,169.9 103.2,169.3 103.3,168.7 103.5,168.1 103.7,167.5 103.8,166.9 104.0,166.3 104.1,165.7 104.3,165.1 104.5,164.5 104.6,163.9 104.8,163.3 105.0,162.7 105.1,162.1 105.3,161.4 105.4,160.8 105.6,160.2 105.8,159.6 105.9,159.0 106.1,158.4 106.3,157.7 106.4,157.1 106.6,156.5 106.7,155.9 106.9,155.2 107.1,154.6 107.2,154.0 107.4,153.4 107.6,152.7 107.7,152.1 107.9,151.5 108.0,150.9 108.2,150.2 108.4,149.6 108.5,149.0 108.7,148.3 108.9,147.7 109.0,147.1 109.2,146.5 109.4,145.8 109.5,145.2 109.7,144.6 109.8,144.0 110.0,143.4 110.2,142.7 110.3,142.1 110.5,141.5 110.7,140.9 110.8,140.3 111.0,139.7 111.1,139.0 111.3,138.4 111.5,137.8 111.6,137.1 111.8,136.5 112.0,135.9 112.1,135.2 112.3,134.6 112.4,134.0 112.6,133.3 112.8,132.7 112.9,132.0 113.1,131.4 113.3,130.7 113.4,130.1 113.6,129.5 113.8,128.8 113.9,128.2 114.1,127.6 114.2,127.0 114.4,126.4 114.6,125.8 114.7,125.2 114.9,124.6 115.1,124.0 115.2,123.4 115.4,122.8 115.5,122.3 115.7,121.7 115.9,121.2 116.0,120.6 116.2,120.1 116.4,119.6 116.5,119.1 116.7,118.6 116.8,118.1 117.0,117.6 117.2,117.1 117.3,116.6 117.5,116.1 117.7,115.6 117.8,115.1 118.0,114.6 118.2,114.1 118.3,113.6 118.5,113.1 118.6,112.6 118.8,112.1 119.0,111.7 119.1,111.2 119.3,110.7 119.5,110.2 119.6,109.7 119.8,109.3 119.9,108.8 120.1,108.3 120.3,107.9 120.4,107.4 120.6,106.9 120.8,106.5 120.9,106.0 121.1,105.6 121.2,105.1 121.4,104.7 121.6,104.2 121.7,103.8 121.9,103.3 122.1,102.9 122.2,102.4 122.4,102.0 122.5,101.6 122.7,101.1 122.9,100.7 123.0,100.3 123.2,99.8 123.4,99.4 123.5,99.0 123.7,98.6 123.9,98.2 124.0,97.7 124.2,97.3 124.3,96.9 124.5,96.5 124.7,96.1 124.8,95.7 125.0,95.3 125.2,94.9 125.3,94.5 125.5,94.1 125.6,93.7 125.8,93.3 126.0,92.9 126.1,92.6 126.3,92.2 126.5,91.8 126.6,91.4 126.8,91.0 126.9,90.7 127.1,90.3 127.3,89.9 127.4,89.6 127.6,89.2 127.8,88.9 127.9,88.5 128.1,88.1 128.3,87.8 128.4,87.4 128.6,87.1 128.7,86.7 128.9,86.4 129.1,86.1 129.2,85.7 129.4,85.4 129.6,85.1 129.7,84.7 129.9,84.4 130.0,84.1 130.2,83.8 130.4,83.4 130.5,83.1 130.7,82.8 130.9,82.5 131.0,82.2 131.2,81.9 131.3,81.5 131.5,81.2 131.7,80.9 131.8,80.6 132.0,80.3 132.2,80.0 132.3,79.7 132.5,79.4 132.7,79.1 132.8,78.8 133.0,78.5 133.1,78.2 133.3,77.9 133.5,77.6 133.6,77.3 133.8,77.0 134.0,76.7 134.1,76.4 134.3,76.2 134.4,75.9 134.6,75.6 134.8,75.3 134.9,75.0 135.1,74.7 135.3,74.4 135.4,74.2 135.6,73.9 135.7,73.6 135.9,73.3 136.1,73.1 136.2,72.8 136.4,72.5 136.6,72.3 136.7,72.0 136.9,71.7 137.0,71.5 137.2,71.2 137.4,70.9 137.5,70.7 137.7,70.4 137.9,70.1 138.0,69.9 138.2,69.6 138.4,69.4 138.5,69.1 138.7,68.9 138.8,68.6 139.0,68.4 140.0,66.9 141.0,65.4 142.1,64.0 143.1,62.7 144.1,61.4 145.1,60.1 146.2,59.0 147.2,57.8 148.2,56.7 149.2,55.7 150.2,54.7 151.3,53.7 152.3,52.7 153.3,51.8 154.3,50.9 155.3,50.0 156.4,49.2 157.4,48.4 158.4,47.6 159.4,46.9 160.5,46.2 161.5,45.5 162.5,44.8 163.5,44.1 164.5,43.5 165.6,42.9 166.6,42.3 167.6,41.7 168.6,41.1 169.6,40.5 170.7,40.0 171.7,39.4 172.7,38.9 173.7,38.4 174.8,37.9 175.8,37.4 176.8,36.9 177.8,36.4 178.8,36.0 179.9,35.5 180.9,35.0 181.9,34.6 182.9,34.2 183.9,33.7 185.0,33.3 186.0,32.9 187.0,32.5 188.0,32.1 189.1,31.7 190.1,31.3 191.1,30.9 192.1,30.5 193.1,30.2 194.2,29.8 195.2,29.5 196.2,29.2 197.2,28.9 198.2,28.6 199.3,28.3 200.3,28.1 201.3,27.8 202.3,27.6 203.4,27.3 204.4,27.1 205.4,26.8 206.4,26.6 207.4,26.4 208.5,26.1 209.5,25.9 210.5,25.7 211.5,25.4 212.5,25.2 213.6,25.0 214.6,24.8 215.6,24.5 216.6,24.3 217.6,24.1 218.7,23.9 219.7,23.7 220.7,23.5 221.7,23.3 222.8,23.1 223.8,22.9 224.8,22.7 225.8,22.6 226.8,22.4 227.9,22.2 228.9,22.0 229.9,21.9 230.9,21.7 231.9,21.5 233.0,21.4 234.0,21.2 235.0,21.1 236.0,21.0 237.1,20.8 238.1,20.7 239.1,20.6 240.1,20.4 241.1,20.3 242.2,20.2 243.2,20.1 244.2,20.0 245.2,19.9 246.2,19.8 247.3,19.7 248.3,19.6 249.3,19.5 250.3,19.5 251.4,19.4 252.4,19.3 253.4,19.3 254.4,19.2 255.4,19.1 256.5,19.1 257.5,19.0 258.5,19.0 259.5,18.9 260.5,18.9 261.6,18.8 262.6,18.7 263.6,18.7 264.6,18.6 265.7,18.6 266.7,18.5 267.7,18.5 268.7,18.4 269.7,18.4 270.8,18.4 271.8,18.3 272.8,18.3 273.8,18.2 274.8,18.2 275.9,18.1 276.9,18.1 277.9,18.1 278.9,18.0 280.0,18.0 281.0,18.0 282.0,17.9 283.0,17.9 284.0,17.8 285.1,17.8 286.1,17.8 287.1,17.7 288.1,17.7 289.1,17.7 290.2,17.6 291.2,17.6 292.2,17.6 293.2,17.5 294.3,17.5 295.3,17.5 296.3,17.5 297.3,17.4 298.3,17.4 299.4,17.4 300.4,17.3 301.4,17.3 302.4,17.3 303.4,17.2 304.5,17.2 305.5,17.2 306.5,17.1 307.5,17.1 308.5,17.1 309.6,17.1 310.6,17.0 311.6,17.0 312.6,17.0 313.7,16.9 314.7,16.9 315.7,16.9 316.7,16.9 317.7,16.8 318.8,16.8 319.8,16.8 320.8,16.7 321.8,16.7 322.8,16.7 323.9,16.7 324.9,16.6 325.9,16.6 326.9,16.6 328.0,16.6 329.0,16.6 330.0,16.5 331.0,16.5 332.0,16.5 333.1,16.5 334.1,16.4 335.1,16.4 336.1,16.4 337.1,16.4 338.2,16.4 339.2,16.3 340.2,16.3 341.2,16.3 342.3,16.3" fill="none" stroke="#861010" stroke-width="3.3" stroke-linejoin="round"/>
<g clip-path="url(#ca)" fill="#329a22"><circle cx="96.3" cy="212.5" r="1.5"/><circle cx="86.3" cy="121.2" r="1.5"/><circle cx="101.0" cy="197.7" r="1.5"/><circle cx="73.4" cy="15.1" r="1.5"/><circle cx="99.4" cy="204.0" r="1.5"/><circle cx="100.7" cy="199.3" r="1.5"/><circle cx="84.5" cy="98.5" r="1.5"/><circle cx="126.9" cy="100.5" r="1.5"/><circle cx="101.5" cy="194.5" r="1.5"/><circle cx="109.1" cy="165.9" r="1.5"/><circle cx="139.4" cy="73.3" r="1.5"/><circle cx="133.0" cy="85.8" r="1.5"/><circle cx="113.3" cy="145.0" r="1.5"/><circle cx="59.0" cy="12.0" r="1.5"/><circle cx="113.3" cy="145.7" r="1.5"/><circle cx="84.5" cy="94.2" r="1.5"/><circle cx="79.6" cy="42.9" r="1.5"/><circle cx="110.0" cy="161.4" r="1.5"/><circle cx="73.5" cy="14.7" r="1.5"/><circle cx="121.1" cy="115.0" r="1.5"/><circle cx="124.5" cy="107.3" r="1.5"/><circle cx="70.3" cy="12.4" r="1.5"/><circle cx="71.5" cy="12.1" r="1.5"/><circle cx="137.1" cy="79.7" r="1.5"/><circle cx="61.2" cy="12.4" r="1.5"/><circle cx="126.3" cy="103.5" r="1.5"/><circle cx="122.0" cy="115.6" r="1.5"/><circle cx="118.3" cy="128.3" r="1.5"/><circle cx="61.5" cy="11.6" r="1.5"/><circle cx="138.5" cy="79.7" r="1.5"/><circle cx="76.0" cy="23.8" r="1.5"/><circle cx="132.7" cy="90.5" r="1.5"/><circle cx="101.1" cy="198.8" r="1.5"/><circle cx="86.2" cy="123.8" r="1.5"/><circle cx="73.4" cy="15.1" r="1.5"/><circle cx="59.6" cy="9.3" r="1.5"/><circle cx="78.5" cy="36.9" r="1.5"/><circle cx="68.5" cy="10.3" r="1.5"/><circle cx="59.2" cy="11.2" r="1.5"/><circle cx="115.0" cy="143.0" r="1.5"/><circle cx="141.5" cy="73.6" r="1.5"/><circle cx="102.3" cy="188.1" r="1.5"/><circle cx="128.2" cy="100.4" r="1.5"/><circle cx="141.0" cy="73.3" r="1.5"/><circle cx="65.5" cy="11.5" r="1.5"/><circle cx="94.7" cy="211.9" r="1.5"/><circle cx="94.4" cy="211.5" r="1.5"/><circle cx="79.7" cy="43.6" r="1.5"/><circle cx="119.5" cy="125.0" r="1.5"/><circle cx="105.6" cy="174.9" r="1.5"/><circle cx="72.9" cy="13.6" r="1.5"/><circle cx="138.9" cy="78.6" r="1.5"/><circle cx="68.7" cy="10.1" r="1.5"/><circle cx="62.8" cy="9.9" r="1.5"/><circle cx="122.7" cy="113.6" r="1.5"/><circle cx="94.9" cy="212.6" r="1.5"/><circle cx="114.0" cy="144.3" r="1.5"/><circle cx="61.1" cy="11.9" r="1.5"/><circle cx="65.4" cy="13.8" r="1.5"/><circle cx="82.7" cy="70.0" r="1.5"/><circle cx="86.4" cy="124.2" r="1.5"/><circle cx="103.4" cy="192.1" r="1.5"/><circle cx="85.6" cy="113.0" r="1.5"/><circle cx="78.3" cy="35.4" r="1.5"/><circle cx="139.3" cy="81.3" r="1.5"/><circle cx="69.9" cy="13.3" r="1.5"/><circle cx="101.3" cy="197.7" r="1.5"/><circle cx="77.6" cy="32.7" r="1.5"/><circle cx="127.5" cy="102.1" r="1.5"/><circle cx="111.1" cy="155.1" r="1.5"/><circle cx="111.3" cy="154.1" r="1.5"/><circle cx="95.6" cy="213.1" r="1.5"/><circle cx="97.5" cy="213.2" r="1.5"/><circle cx="142.8" cy="72.6" r="1.5"/><circle cx="94.7" cy="211.0" r="1.5"/><circle cx="114.4" cy="142.2" r="1.5"/><circle cx="66.1" cy="12.8" r="1.5"/><circle cx="103.1" cy="190.1" r="1.5"/><circle cx="122.7" cy="108.3" r="1.5"/><circle cx="98.4" cy="207.8" r="1.5"/><circle cx="120.3" cy="123.1" r="1.5"/><circle cx="115.0" cy="139.2" r="1.5"/><circle cx="67.9" cy="12.2" r="1.5"/><circle cx="99.1" cy="205.5" r="1.5"/><circle cx="61.2" cy="11.2" r="1.5"/><circle cx="66.3" cy="11.2" r="1.5"/><circle cx="115.7" cy="139.4" r="1.5"/><circle cx="77.3" cy="26.9" r="1.5"/><circle cx="62.9" cy="12.3" r="1.5"/><circle cx="98.4" cy="208.6" r="1.5"/><circle cx="117.9" cy="131.1" r="1.5"/><circle cx="82.4" cy="64.9" r="1.5"/><circle cx="74.8" cy="18.4" r="1.5"/><circle cx="78.2" cy="36.4" r="1.5"/><circle cx="60.6" cy="12.1" r="1.5"/><circle cx="62.1" cy="10.9" r="1.5"/><circle cx="97.8" cy="208.3" r="1.5"/><circle cx="76.9" cy="26.5" r="1.5"/><circle cx="94.9" cy="213.5" r="1.5"/><circle cx="136.1" cy="80.2" r="1.5"/><circle cx="126.9" cy="105.2" r="1.5"/><circle cx="128.8" cy="93.0" r="1.5"/><circle cx="137.4" cy="81.9" r="1.5"/><circle cx="115.2" cy="137.8" r="1.5"/><circle cx="95.7" cy="212.5" r="1.5"/><circle cx="64.8" cy="12.4" r="1.5"/><circle cx="119.9" cy="124.1" r="1.5"/><circle cx="68.0" cy="10.3" r="1.5"/><circle cx="84.3" cy="95.9" r="1.5"/><circle cx="82.4" cy="64.9" r="1.5"/><circle cx="138.2" cy="78.8" r="1.5"/><circle cx="132.2" cy="89.9" r="1.5"/><circle cx="80.2" cy="48.9" r="1.5"/><circle cx="90.4" cy="176.8" r="1.5"/><circle cx="99.1" cy="205.1" r="1.5"/><circle cx="62.6" cy="9.9" r="1.5"/><circle cx="60.2" cy="11.1" r="1.5"/><circle cx="106.9" cy="176.0" r="1.5"/><circle cx="101.1" cy="193.7" r="1.5"/><circle cx="112.0" cy="152.8" r="1.5"/><circle cx="133.2" cy="88.7" r="1.5"/><circle cx="70.3" cy="11.3" r="1.5"/><circle cx="134.6" cy="88.8" r="1.5"/><circle cx="76.4" cy="23.7" r="1.5"/><circle cx="136.9" cy="80.4" r="1.5"/><circle cx="72.1" cy="13.5" r="1.5"/><circle cx="92.5" cy="200.1" r="1.5"/><circle cx="121.1" cy="123.5" r="1.5"/><circle cx="75.6" cy="20.6" r="1.5"/><circle cx="68.5" cy="13.1" r="1.5"/><circle cx="81.4" cy="59.4" r="1.5"/><circle cx="87.2" cy="134.4" r="1.5"/><circle cx="133.8" cy="88.1" r="1.5"/><circle cx="79.9" cy="47.2" r="1.5"/><circle cx="116.5" cy="137.7" r="1.5"/><circle cx="129.5" cy="95.6" r="1.5"/><circle cx="59.7" cy="11.5" r="1.5"/><circle cx="81.8" cy="57.7" r="1.5"/><circle cx="135.2" cy="83.9" r="1.5"/><circle cx="108.0" cy="168.6" r="1.5"/><circle cx="73.0" cy="12.9" r="1.5"/><circle cx="100.5" cy="197.7" r="1.5"/><circle cx="92.6" cy="200.6" r="1.5"/><circle cx="129.5" cy="95.8" r="1.5"/><circle cx="125.9" cy="107.9" r="1.5"/><circle cx="86.1" cy="120.6" r="1.5"/><circle cx="142.0" cy="73.4" r="1.5"/><circle cx="62.7" cy="11.8" r="1.5"/><circle cx="135.8" cy="84.8" r="1.5"/><circle cx="66.9" cy="11.9" r="1.5"/><circle cx="105.6" cy="183.2" r="1.5"/><circle cx="94.2" cy="210.2" r="1.5"/><circle cx="128.5" cy="98.2" r="1.5"/><circle cx="99.4" cy="204.4" r="1.5"/><circle cx="82.5" cy="68.7" r="1.5"/><circle cx="119.1" cy="127.2" r="1.5"/><circle cx="91.0" cy="186.0" r="1.5"/><circle cx="94.7" cy="210.3" r="1.5"/><circle cx="127.9" cy="102.9" r="1.5"/><circle cx="88.8" cy="155.3" r="1.5"/><circle cx="103.6" cy="187.6" r="1.5"/><circle cx="127.2" cy="101.8" r="1.5"/><circle cx="128.8" cy="102.2" r="1.5"/><circle cx="116.6" cy="133.0" r="1.5"/><circle cx="118.8" cy="122.5" r="1.5"/><circle cx="66.7" cy="9.5" r="1.5"/><circle cx="104.9" cy="181.6" r="1.5"/><circle cx="109.4" cy="162.2" r="1.5"/><circle cx="70.6" cy="12.3" r="1.5"/><circle cx="134.0" cy="87.2" r="1.5"/><circle cx="115.9" cy="141.6" r="1.5"/><circle cx="67.4" cy="11.4" r="1.5"/><circle cx="68.9" cy="12.8" r="1.5"/><circle cx="67.4" cy="11.3" r="1.5"/><circle cx="70.9" cy="11.9" r="1.5"/><circle cx="108.7" cy="172.2" r="1.5"/><circle cx="66.9" cy="11.4" r="1.5"/><circle cx="93.3" cy="206.3" r="1.5"/><circle cx="83.1" cy="74.1" r="1.5"/><circle cx="114.1" cy="141.9" r="1.5"/><circle cx="119.1" cy="121.6" r="1.5"/><circle cx="112.8" cy="148.0" r="1.5"/><circle cx="109.1" cy="162.6" r="1.5"/><circle cx="105.8" cy="177.2" r="1.5"/><circle cx="123.7" cy="115.9" r="1.5"/><circle cx="101.1" cy="199.1" r="1.5"/><circle cx="76.8" cy="25.5" r="1.5"/><circle cx="67.9" cy="11.1" r="1.5"/><circle cx="109.5" cy="163.3" r="1.5"/><circle cx="126.9" cy="106.7" r="1.5"/><circle cx="119.5" cy="125.6" r="1.5"/><circle cx="118.7" cy="130.3" r="1.5"/><circle cx="124.6" cy="111.6" r="1.5"/><circle cx="65.4" cy="10.0" r="1.5"/><circle cx="130.8" cy="95.7" r="1.5"/><circle cx="61.3" cy="10.1" r="1.5"/><circle cx="106.1" cy="174.7" r="1.5"/><circle cx="93.9" cy="208.6" r="1.5"/><circle cx="69.8" cy="12.2" r="1.5"/><circle cx="107.2" cy="170.6" r="1.5"/><circle cx="68.4" cy="10.6" r="1.5"/><circle cx="62.9" cy="9.0" r="1.5"/><circle cx="118.9" cy="131.2" r="1.5"/><circle cx="134.3" cy="84.5" r="1.5"/><circle cx="96.0" cy="215.1" r="1.5"/><circle cx="127.0" cy="103.4" r="1.5"/><circle cx="139.6" cy="79.2" r="1.5"/><circle cx="120.6" cy="120.2" r="1.5"/><circle cx="94.4" cy="210.1" r="1.5"/><circle cx="138.7" cy="77.8" r="1.5"/><circle cx="79.6" cy="43.6" r="1.5"/><circle cx="78.8" cy="40.6" r="1.5"/><circle cx="115.5" cy="138.1" r="1.5"/><circle cx="128.6" cy="101.1" r="1.5"/><circle cx="80.7" cy="51.4" r="1.5"/><circle cx="85.2" cy="104.4" r="1.5"/><circle cx="61.0" cy="11.2" r="1.5"/><circle cx="66.7" cy="8.5" r="1.5"/><circle cx="86.6" cy="127.4" r="1.5"/><circle cx="66.6" cy="10.4" r="1.5"/><circle cx="143.2" cy="71.6" r="1.5"/><circle cx="146.8" cy="65.0" r="1.5"/><circle cx="150.0" cy="60.8" r="1.5"/><circle cx="151.6" cy="60.1" r="1.5"/><circle cx="155.0" cy="57.9" r="1.5"/><circle cx="158.4" cy="56.2" r="1.5"/><circle cx="159.9" cy="51.8" r="1.5"/><circle cx="162.7" cy="50.6" r="1.5"/><circle cx="166.5" cy="53.6" r="1.5"/><circle cx="169.3" cy="47.4" r="1.5"/><circle cx="172.7" cy="46.4" r="1.5"/><circle cx="175.1" cy="44.2" r="1.5"/><circle cx="178.4" cy="39.3" r="1.5"/><circle cx="180.5" cy="42.2" r="1.5"/><circle cx="183.6" cy="40.6" r="1.5"/><circle cx="186.8" cy="34.1" r="1.5"/><circle cx="188.9" cy="37.4" r="1.5"/><circle cx="191.7" cy="35.9" r="1.5"/><circle cx="195.1" cy="32.6" r="1.5"/><circle cx="196.8" cy="34.4" r="1.5"/><circle cx="200.4" cy="32.5" r="1.5"/><circle cx="202.7" cy="31.5" r="1.5"/><circle cx="206.1" cy="28.9" r="1.5"/><circle cx="208.1" cy="32.7" r="1.5"/><circle cx="211.0" cy="30.7" r="1.5"/><circle cx="214.8" cy="28.7" r="1.5"/><circle cx="217.2" cy="26.6" r="1.5"/><circle cx="220.7" cy="28.0" r="1.5"/><circle cx="223.3" cy="25.8" r="1.5"/><circle cx="226.1" cy="26.6" r="1.5"/><circle cx="229.6" cy="25.7" r="1.5"/><circle cx="231.0" cy="23.0" r="1.5"/><circle cx="235.4" cy="24.3" r="1.5"/><circle cx="236.7" cy="19.5" r="1.5"/><circle cx="239.5" cy="22.8" r="1.5"/><circle cx="244.0" cy="21.1" r="1.5"/><circle cx="245.4" cy="21.5" r="1.5"/><circle cx="248.8" cy="24.5" r="1.5"/><circle cx="251.5" cy="24.3" r="1.5"/><circle cx="254.2" cy="21.2" r="1.5"/><circle cx="257.4" cy="23.3" r="1.5"/><circle cx="260.9" cy="22.3" r="1.5"/><circle cx="263.0" cy="21.9" r="1.5"/><circle cx="266.2" cy="22.6" r="1.5"/><circle cx="269.6" cy="19.4" r="1.5"/><circle cx="271.6" cy="19.9" r="1.5"/><circle cx="274.2" cy="20.7" r="1.5"/><circle cx="277.3" cy="20.0" r="1.5"/><circle cx="280.7" cy="22.0" r="1.5"/><circle cx="283.4" cy="19.3" r="1.5"/><circle cx="286.7" cy="21.7" r="1.5"/><circle cx="288.5" cy="18.2" r="1.5"/><circle cx="292.4" cy="21.3" r="1.5"/><circle cx="294.2" cy="21.0" r="1.5"/><circle cx="296.4" cy="18.5" r="1.5"/><circle cx="300.4" cy="19.1" r="1.5"/><circle cx="303.8" cy="21.3" r="1.5"/><circle cx="305.4" cy="19.0" r="1.5"/><circle cx="309.4" cy="19.7" r="1.5"/><circle cx="312.1" cy="19.6" r="1.5"/><circle cx="314.1" cy="18.6" r="1.5"/><circle cx="317.7" cy="18.5" r="1.5"/><circle cx="319.8" cy="17.9" r="1.5"/><circle cx="323.2" cy="18.5" r="1.5"/><circle cx="325.8" cy="18.7" r="1.5"/><circle cx="328.1" cy="19.2" r="1.5"/><circle cx="331.3" cy="16.8" r="1.5"/><circle cx="334.1" cy="20.0" r="1.5"/><circle cx="336.4" cy="16.1" r="1.5"/><circle cx="340.7" cy="15.6" r="1.5"/></g>
<polyline clip-path="url(#ca)" points="57.7,11.4 57.9,11.4 58.0,11.3 58.2,11.3 58.4,11.3 58.5,11.3 58.7,11.2 58.8,11.2 59.0,11.2 59.2,11.2 59.3,11.2 59.5,11.1 59.7,11.1 59.8,11.1 60.0,11.1 60.1,11.1 60.3,11.1 60.5,11.0 60.6,11.0 60.8,11.0 61.0,11.0 61.1,11.0 61.3,11.0 61.5,11.0 61.6,11.0 61.8,11.0 61.9,11.0 62.1,11.0 62.3,11.0 62.4,11.0 62.6,11.0 62.8,11.0 62.9,11.0 63.1,11.0 63.2,11.0 63.4,11.0 63.6,11.0 63.7,11.0 63.9,11.0 64.1,11.0 64.2,11.0 64.4,11.0 64.5,11.0 64.7,11.0 64.9,11.0 65.0,11.1 65.2,11.1 65.4,11.1 65.5,11.1 65.7,11.1 65.9,11.2 66.0,11.2 66.2,11.2 66.3,11.2 66.5,11.2 66.7,11.3 66.8,11.3 67.0,11.3 67.2,11.3 67.3,11.4 67.5,11.4 67.6,11.4 67.8,11.4 68.0,11.5 68.1,11.5 68.3,11.5 68.5,11.6 68.6,11.6 68.8,11.7 68.9,11.7 69.1,11.8 69.3,11.8 69.4,11.9 69.6,11.9 69.8,12.0 69.9,12.1 70.1,12.1 70.3,12.2 70.4,12.3 70.6,12.4 70.7,12.4 70.9,12.5 71.1,12.6 71.2,12.7 71.4,12.8 71.6,12.9 71.7,13.0 71.9,13.1 72.0,13.2 72.2,13.4 72.4,13.5 72.5,13.7 72.7,14.0 72.9,14.2 73.0,14.5 73.2,14.7 73.3,15.0 73.5,15.4 73.7,15.7 73.8,16.0 74.0,16.3 74.2,16.7 74.3,17.1 74.5,17.6 74.6,18.0 74.8,18.5 75.0,19.0 75.1,19.5 75.3,20.1 75.5,20.6 75.6,21.2 75.8,21.8 76.0,22.5 76.1,23.1 76.3,23.8 76.4,24.6 76.6,25.4 76.8,26.3 76.9,27.2 77.1,28.2 77.3,29.1 77.4,30.1 77.6,31.2 77.7,32.2 77.9,33.3 78.1,34.3 78.2,35.4 78.4,36.4 78.6,37.5 78.7,38.5 78.9,39.6 79.0,40.6 79.2,41.6 79.4,42.6 79.5,43.6 79.7,44.6 79.9,45.7 80.0,46.7 80.2,47.8 80.4,48.8 80.5,49.9 80.7,51.1 80.8,52.3 81.0,53.5 81.2,54.7 81.3,56.1 81.5,57.4 81.7,58.8 81.8,60.3 82.0,61.9 82.1,63.7 82.3,65.5 82.5,67.4 82.6,69.5 82.8,71.6 83.0,73.8 83.1,76.0 83.3,78.3 83.4,80.6 83.6,83.0 83.8,85.4 83.9,87.8 84.1,90.1 84.3,92.5 84.4,94.8 84.6,97.1 84.8,99.5 84.9,101.9 85.1,104.4 85.2,107.0 85.4,109.5 85.6,112.1 85.7,114.7 85.9,117.3 86.1,119.9 86.2,122.5 86.4,125.1 86.5,127.6 86.7,130.1 86.9,132.5 87.0,134.9 87.2,137.2 87.4,139.4 87.5,141.5 87.7,143.6 87.8,145.6 88.0,147.6 88.2,149.5 88.3,151.3 88.5,153.2 88.7,155.0 88.8,156.8 89.0,158.7 89.2,160.5 89.3,162.3 89.5,164.2 89.6,166.1 89.8,168.1 90.0,170.1 90.1,172.3 90.3,174.6 90.5,176.9 90.6,179.3 90.8,181.8 90.9,184.2 91.1,186.5 91.3,188.8 91.4,190.9 91.6,192.9 91.8,194.7 91.9,196.3 92.1,197.6 92.2,198.7 92.4,199.8 92.6,200.9 92.7,202.0 92.9,203.1 93.1,204.1 93.2,205.2 93.4,206.1 93.5,207.1 93.7,208.0 93.9,208.8 94.0,209.6 94.2,210.4 94.4,211.1 94.5,211.7 94.7,212.3 94.9,212.7 95.0,213.1 95.2,213.5 95.3,213.7 95.5,213.8 95.7,213.9 95.8,213.9 96.0,213.8 96.2,213.7 96.3,213.5 96.5,213.3 96.6,213.0 96.8,212.7 97.0,212.3 97.1,211.9 97.3,211.5 97.5,211.1 97.6,210.6 97.8,210.1 97.9,209.5 98.1,209.0 98.3,208.4 98.4,207.8 98.6,207.2 98.8,206.6 98.9,205.9 99.1,205.3 99.3,204.6 99.4,204.0 99.6,203.3 99.7,202.6 99.9,202.0 100.1,201.3 100.2,200.7 100.4,200.1 100.6,199.4 100.7,198.8 100.9,198.2 101.0,197.7 101.2,197.1 101.4,196.5 101.5,196.0 101.7,195.4 101.9,194.8 102.0,194.2 102.2,193.6 102.3,193.0 102.5,192.3 102.7,191.7 102.8,191.1 103.0,190.5 103.2,189.8 103.3,189.2 103.5,188.5 103.7,187.9 103.8,187.2 104.0,186.6 104.1,185.9 104.3,185.2 104.5,184.5 104.6,183.9 104.8,183.2 105.0,182.5 105.1,181.8 105.3,181.2 105.4,180.5 105.6,179.8 105.8,179.1 105.9,178.4 106.1,177.7 106.3,177.0 106.4,176.3 106.6,175.6 106.7,174.9 106.9,174.3 107.1,173.6 107.2,172.9 107.4,172.2 107.6,171.5 107.7,170.8 107.9,170.1 108.0,169.5 108.2,168.8 108.4,168.1 108.5,167.4 108.7,166.7 108.9,166.0 109.0,165.3 109.2,164.6 109.4,163.9 109.5,163.2 109.7,162.4 109.8,161.7 110.0,161.0 110.2,160.2 110.3,159.5 110.5,158.8 110.7,158.0 110.8,157.3 111.0,156.6 111.1,155.8 111.3,155.1 111.5,154.4 111.6,153.6 111.8,152.9 112.0,152.2 112.1,151.5 112.3,150.7 112.4,150.0 112.6,149.3 112.8,148.6 112.9,147.9 113.1,147.2 113.3,146.5 113.4,145.8 113.6,145.2 113.8,144.5 113.9,143.8 114.1,143.2 114.2,142.5 114.4,141.9 114.6,141.3 114.7,140.7 114.9,140.1 115.1,139.5 115.2,138.9 115.4,138.3 115.5,137.7 115.7,137.1 115.9,136.6 116.0,136.0 116.2,135.4 116.4,134.9 116.5,134.3 116.7,133.8 116.8,133.2 117.0,132.7 117.2,132.1 117.3,131.6 117.5,131.1 117.7,130.6 117.8,130.0 118.0,129.5 118.2,129.0 118.3,128.5 118.5,128.0 118.6,127.5 118.8,127.0 119.0,126.5 119.1,126.0 119.3,125.5 119.5,125.0 119.6,124.5 119.8,124.0 119.9,123.5 120.1,123.0 120.3,122.6 120.4,122.1 120.6,121.6 120.8,121.1 120.9,120.7 121.1,120.2 121.2,119.7 121.4,119.2 121.6,118.8 121.7,118.3 121.9,117.8 122.1,117.4 122.2,116.9 122.4,116.4 122.5,116.0 122.7,115.5 122.9,115.0 123.0,114.6 123.2,114.1 123.4,113.7 123.5,113.2 123.7,112.7 123.9,112.3 124.0,111.8 124.2,111.3 124.3,110.9 124.5,110.4 124.7,110.0 124.8,109.5 125.0,109.1 125.2,108.6 125.3,108.1 125.5,107.7 125.6,107.2 125.8,106.8 126.0,106.3 126.1,105.9 126.3,105.5 126.5,105.0 126.6,104.6 126.8,104.1 126.9,103.7 127.1,103.2 127.3,102.8 127.4,102.4 127.6,101.9 127.8,101.5 127.9,101.1 128.1,100.6 128.3,100.2 128.4,99.8 128.6,99.4 128.7,99.0 128.9,98.5 129.1,98.1 129.2,97.7 129.4,97.3 129.6,96.9 129.7,96.5 129.9,96.1 130.0,95.7 130.2,95.3 130.4,94.9 130.5,94.5 130.7,94.1 130.9,93.7 131.0,93.3 131.2,92.9 131.3,92.5 131.5,92.1 131.7,91.8 131.8,91.4 132.0,91.0 132.2,90.7 132.3,90.3 132.5,89.9 132.7,89.6 132.8,89.2 133.0,88.9 133.1,88.5 133.3,88.2 133.5,87.8 133.6,87.5 133.8,87.1 134.0,86.8 134.1,86.5 134.3,86.2 134.4,85.8 134.6,85.5 134.8,85.2 134.9,84.9 135.1,84.6 135.3,84.3 135.4,84.0 135.6,83.7 135.7,83.4 135.9,83.1 136.1,82.8 136.2,82.5 136.4,82.2 136.6,81.9 136.7,81.6 136.9,81.3 137.0,81.0 137.2,80.7 137.4,80.5 137.5,80.2 137.7,79.9 137.9,79.6 138.0,79.3 138.2,79.0 138.4,78.8 138.5,78.5 138.7,78.2 138.8,77.9 139.0,77.7 140.0,76.0 141.0,74.3 142.1,72.7 143.1,71.2 144.1,69.7 145.1,68.3 146.2,66.9 147.2,65.6 148.2,64.3 149.2,63.1 150.2,62.0 151.3,60.9 152.3,59.9 153.3,59.0 154.3,58.1 155.3,57.3 156.4,56.6 157.4,55.9 158.4,55.2 159.4,54.5 160.5,53.7 161.5,53.0 162.5,52.3 163.5,51.5 164.5,50.8 165.6,50.1 166.6,49.3 167.6,48.6 168.6,47.9 169.6,47.2 170.7,46.5 171.7,45.8 172.7,45.1 173.7,44.5 174.8,43.8 175.8,43.2 176.8,42.6 177.8,42.0 178.8,41.4 179.9,40.9 180.9,40.4 181.9,39.9 182.9,39.4 183.9,38.9 185.0,38.4 186.0,37.9 187.0,37.5 188.0,37.0 189.1,36.6 190.1,36.2 191.1,35.7 192.1,35.3 193.1,34.9 194.2,34.6 195.2,34.2 196.2,33.8 197.2,33.5 198.2,33.2 199.3,32.9 200.3,32.6 201.3,32.3 202.3,32.0 203.4,31.7 204.4,31.4 205.4,31.1 206.4,30.8 207.4,30.5 208.5,30.2 209.5,29.9 210.5,29.7 211.5,29.4 212.5,29.1 213.6,28.8 214.6,28.6 215.6,28.3 216.6,28.1 217.6,27.8 218.7,27.5 219.7,27.3 220.7,27.0 221.7,26.8 222.8,26.6 223.8,26.3 224.8,26.1 225.8,25.9 226.8,25.6 227.9,25.4 228.9,25.2 229.9,25.0 230.9,24.8 231.9,24.6 233.0,24.4 234.0,24.2 235.0,24.1 236.0,23.9 237.1,23.7 238.1,23.6 239.1,23.4 240.1,23.3 241.1,23.1 242.2,23.0 243.2,22.9 244.2,22.7 245.2,22.6 246.2,22.5 247.3,22.4 248.3,22.3 249.3,22.3 250.3,22.2 251.4,22.1 252.4,22.0 253.4,22.0 254.4,21.9 255.4,21.8 256.5,21.8 257.5,21.7 258.5,21.7 259.5,21.6 260.5,21.5 261.6,21.5 262.6,21.4 263.6,21.4 264.6,21.3 265.7,21.3 266.7,21.2 267.7,21.2 268.7,21.2 269.7,21.1 270.8,21.1 271.8,21.0 272.8,21.0 273.8,20.9 274.8,20.9 275.9,20.9 276.9,20.8 277.9,20.8 278.9,20.8 280.0,20.7 281.0,20.7 282.0,20.7 283.0,20.6 284.0,20.6 285.1,20.6 286.1,20.5 287.1,20.5 288.1,20.4 289.1,20.4 290.2,20.4 291.2,20.3 292.2,20.3 293.2,20.3 294.3,20.2 295.3,20.2 296.3,20.2 297.3,20.1 298.3,20.1 299.4,20.1 300.4,20.0 301.4,20.0 302.4,20.0 303.4,19.9 304.5,19.9 305.5,19.8 306.5,19.8 307.5,19.8 308.5,19.7 309.6,19.7 310.6,19.7 311.6,19.6 312.6,19.6 313.7,19.6 314.7,19.5 315.7,19.5 316.7,19.4 317.7,19.4 318.8,19.4 319.8,19.3 320.8,19.3 321.8,19.3 322.8,19.2 323.9,19.2 324.9,19.2 325.9,19.1 326.9,19.1 328.0,19.1 329.0,19.1 330.0,19.0 331.0,19.0 332.0,19.0 333.1,18.9 334.1,18.9 335.1,18.9 336.1,18.8 337.1,18.8 338.2,18.8 339.2,18.7 340.2,18.7 341.2,18.7 342.3,18.7" fill="none" stroke="#329a22" stroke-width="3.3" stroke-linejoin="round"/>
<circle cx="63.5" cy="17" r="1.6" fill="#000"/><circle cx="285.1" cy="28.4" r="1.6" fill="#329a22"/><circle cx="295.5" cy="23.6" r="1.6" fill="#861010"/>
<rect x="58.5" y="1.7" width="281.7" height="225.3" fill="none" stroke="#000" stroke-width="1.7"/>
<line x1="53.5" y1="6.0" x2="58.5" y2="6.0" stroke="#000" stroke-width="1.7"/>
<text x="51.2" y="10.2" font-size="12" font-weight="bold" text-anchor="end" >0</text>
<line x1="53.5" y1="51.0" x2="58.5" y2="51.0" stroke="#000" stroke-width="1.7"/>
<text x="51.2" y="55.2" font-size="12" font-weight="bold" text-anchor="end" >-5</text>
<line x1="53.5" y1="96.0" x2="58.5" y2="96.0" stroke="#000" stroke-width="1.7"/>
<text x="51.2" y="100.2" font-size="12" font-weight="bold" text-anchor="end" >-10</text>
<line x1="53.5" y1="141.0" x2="58.5" y2="141.0" stroke="#000" stroke-width="1.7"/>
<text x="51.2" y="145.2" font-size="12" font-weight="bold" text-anchor="end" >-15</text>
<line x1="53.5" y1="186.0" x2="58.5" y2="186.0" stroke="#000" stroke-width="1.7"/>
<text x="51.2" y="190.2" font-size="12" font-weight="bold" text-anchor="end" >-20</text>
<line x1="72.0" y1="227.0" x2="72.0" y2="231.5" stroke="#000" stroke-width="1.7"/>
<text x="72.0" y="244.6" font-size="12" font-weight="bold" text-anchor="middle" >0</text>
<line x1="116.7" y1="227.0" x2="116.7" y2="231.5" stroke="#000" stroke-width="1.7"/>
<text x="116.7" y="244.6" font-size="12" font-weight="bold" text-anchor="middle" >1</text>
<line x1="161.3" y1="227.0" x2="161.3" y2="231.5" stroke="#000" stroke-width="1.7"/>
<text x="161.3" y="244.6" font-size="12" font-weight="bold" text-anchor="middle" >2</text>
<line x1="206.0" y1="227.0" x2="206.0" y2="231.5" stroke="#000" stroke-width="1.7"/>
<text x="206.0" y="244.6" font-size="12" font-weight="bold" text-anchor="middle" >3</text>
<line x1="250.7" y1="227.0" x2="250.7" y2="231.5" stroke="#000" stroke-width="1.7"/>
<text x="250.7" y="244.6" font-size="12" font-weight="bold" text-anchor="middle" >4</text>
<line x1="295.4" y1="227.0" x2="295.4" y2="231.5" stroke="#000" stroke-width="1.7"/>
<text x="295.4" y="244.6" font-size="12" font-weight="bold" text-anchor="middle" >5</text>
<line x1="340.0" y1="227.0" x2="340.0" y2="231.5" stroke="#000" stroke-width="1.7"/>
<text x="340.0" y="244.6" font-size="12" font-weight="bold" text-anchor="middle" >6</text>
<text x="142.7" y="262.4" font-size="12.7" font-weight="bold" text-anchor="start" textLength="94" lengthAdjust="spacingAndGlyphs" >Decay time (ps)</text>
<text transform="translate(30.6,121.4) rotate(-90)" x="0" y="0" font-size="12.6" font-weight="bold" text-anchor="middle" textLength="65.9" lengthAdjust="spacingAndGlyphs">ΔT/T(mOD)</text>
<text x="0.5" y="33.3" font-size="19" font-weight="normal" text-anchor="start" textLength="20.2" lengthAdjust="spacingAndGlyphs" >(a)</text>
<rect x="201.6" y="40.7" width="111.00000000000003" height="89.2" fill="#fff" stroke="#a8a8a8" stroke-width="1"/>
<circle cx="217.8" cy="51.0" r="3.1" fill="#000000"/>
<text x="236.4" y="55.4" font-size="12.6" font-weight="bold">1.2x10<tspan font-size="8.6" dy="-5">14</tspan><tspan dy="5">cm</tspan><tspan font-size="8.6" dy="-5">-2</tspan></text>
<circle cx="217.8" cy="69.0" r="3.1" fill="#ff1f1f"/>
<text x="236.4" y="73.2" font-size="12.6" font-weight="bold">1.5x10<tspan font-size="8.6" dy="-5">14</tspan><tspan dy="5">cm</tspan><tspan font-size="8.6" dy="-5">-2</tspan></text>
<circle cx="217.8" cy="86.5" r="3.1" fill="#1f1fff"/>
<text x="236.4" y="91.0" font-size="12.6" font-weight="bold">1.7x10<tspan font-size="8.6" dy="-5">14</tspan><tspan dy="5">cm</tspan><tspan font-size="8.6" dy="-5">-2</tspan></text>
<circle cx="217.8" cy="104.0" r="3.1" fill="#861010"/>
<text x="236.4" y="108.8" font-size="12.6" font-weight="bold">2x10<tspan font-size="8.6" dy="-5">14</tspan><tspan dy="5">cm</tspan><tspan font-size="8.6" dy="-5">-2</tspan></text>
<circle cx="217.8" cy="122.1" r="3.1" fill="#329a22"/>
<text x="236.4" y="126.6" font-size="12.6" font-weight="bold">2.2x10<tspan font-size="8.6" dy="-5">14</tspan><tspan dy="5">cm</tspan><tspan font-size="8.6" dy="-5">-2</tspan></text>
<text x="216.1" y="152.2" font-size="11.7" font-weight="bold">MoS<tspan font-size="8" dy="3">2</tspan></text>
<text x="216.1" y="168.9" font-size="11.7" font-weight="bold">pump - 2 eV eV</text>
<text x="216.1" y="184.0" font-size="11.7" font-weight="bold">probe - 0.62 eV</text>
<g clip-path="url(#cb)" fill="#000000"><circle cx="410.7" cy="8.0" r="1.5"/><circle cx="413.9" cy="23.0" r="1.5"/><circle cx="459.5" cy="52.9" r="1.5"/><circle cx="395.7" cy="10.1" r="1.5"/><circle cx="440.6" cy="81.5" r="1.5"/><circle cx="452.0" cy="66.2" r="1.5"/><circle cx="404.2" cy="5.7" r="1.5"/><circle cx="392.4" cy="9.9" r="1.5"/><circle cx="411.9" cy="7.3" r="1.5"/><circle cx="445.7" cy="78.2" r="1.5"/><circle cx="437.3" cy="100.6" r="1.5"/><circle cx="400.8" cy="8.2" r="1.5"/><circle cx="425.8" cy="141.4" r="1.5"/><circle cx="446.7" cy="80.8" r="1.5"/><circle cx="424.9" cy="145.4" r="1.5"/><circle cx="443.5" cy="73.3" r="1.5"/><circle cx="473.1" cy="36.7" r="1.5"/><circle cx="447.9" cy="72.4" r="1.5"/><circle cx="422.2" cy="150.2" r="1.5"/><circle cx="404.1" cy="6.4" r="1.5"/><circle cx="418.1" cy="108.1" r="1.5"/><circle cx="432.7" cy="110.3" r="1.5"/><circle cx="466.4" cy="54.3" r="1.5"/><circle cx="456.1" cy="67.8" r="1.5"/><circle cx="415.7" cy="59.8" r="1.5"/><circle cx="469.3" cy="46.5" r="1.5"/><circle cx="429.2" cy="123.7" r="1.5"/><circle cx="448.9" cy="73.8" r="1.5"/><circle cx="397.0" cy="8.8" r="1.5"/><circle cx="396.8" cy="8.2" r="1.5"/><circle cx="405.4" cy="6.5" r="1.5"/><circle cx="465.8" cy="59.0" r="1.5"/><circle cx="447.7" cy="78.0" r="1.5"/><circle cx="462.6" cy="52.0" r="1.5"/><circle cx="444.5" cy="83.3" r="1.5"/><circle cx="423.5" cy="151.3" r="1.5"/><circle cx="433.2" cy="113.9" r="1.5"/><circle cx="440.0" cy="93.8" r="1.5"/><circle cx="463.8" cy="56.9" r="1.5"/><circle cx="426.3" cy="141.9" r="1.5"/><circle cx="466.4" cy="43.8" r="1.5"/><circle cx="441.8" cy="84.7" r="1.5"/><circle cx="460.9" cy="59.9" r="1.5"/><circle cx="431.6" cy="117.4" r="1.5"/><circle cx="448.8" cy="74.8" r="1.5"/><circle cx="417.5" cy="100.2" r="1.5"/><circle cx="433.8" cy="105.8" r="1.5"/><circle cx="406.7" cy="8.3" r="1.5"/><circle cx="396.4" cy="8.7" r="1.5"/><circle cx="390.9" cy="10.4" r="1.5"/><circle cx="449.6" cy="75.0" r="1.5"/><circle cx="427.9" cy="134.6" r="1.5"/><circle cx="466.9" cy="57.0" r="1.5"/><circle cx="461.4" cy="60.1" r="1.5"/><circle cx="421.6" cy="147.1" r="1.5"/><circle cx="473.7" cy="45.8" r="1.5"/><circle cx="439.9" cy="91.9" r="1.5"/><circle cx="455.3" cy="57.8" r="1.5"/><circle cx="423.5" cy="151.9" r="1.5"/><circle cx="404.9" cy="7.2" r="1.5"/><circle cx="402.7" cy="6.7" r="1.5"/><circle cx="403.6" cy="6.2" r="1.5"/><circle cx="440.9" cy="84.2" r="1.5"/><circle cx="397.5" cy="7.4" r="1.5"/><circle cx="389.3" cy="11.0" r="1.5"/><circle cx="461.2" cy="53.5" r="1.5"/><circle cx="396.3" cy="9.0" r="1.5"/><circle cx="427.4" cy="137.2" r="1.5"/><circle cx="430.7" cy="120.2" r="1.5"/><circle cx="442.4" cy="88.8" r="1.5"/><circle cx="432.1" cy="120.3" r="1.5"/><circle cx="470.4" cy="51.7" r="1.5"/><circle cx="453.9" cy="69.7" r="1.5"/><circle cx="438.3" cy="93.7" r="1.5"/><circle cx="442.1" cy="86.3" r="1.5"/><circle cx="432.3" cy="101.5" r="1.5"/><circle cx="472.9" cy="46.9" r="1.5"/><circle cx="407.6" cy="8.8" r="1.5"/><circle cx="448.5" cy="74.9" r="1.5"/><circle cx="436.6" cy="98.8" r="1.5"/><circle cx="391.3" cy="11.2" r="1.5"/><circle cx="413.7" cy="20.8" r="1.5"/><circle cx="469.5" cy="51.4" r="1.5"/><circle cx="456.9" cy="58.5" r="1.5"/><circle cx="388.7" cy="10.8" r="1.5"/><circle cx="413.8" cy="21.1" r="1.5"/><circle cx="388.4" cy="13.0" r="1.5"/><circle cx="460.7" cy="60.4" r="1.5"/><circle cx="397.3" cy="7.6" r="1.5"/><circle cx="392.6" cy="10.8" r="1.5"/><circle cx="474.4" cy="46.2" r="1.5"/><circle cx="427.0" cy="138.7" r="1.5"/><circle cx="415.7" cy="59.7" r="1.5"/><circle cx="391.9" cy="11.0" r="1.5"/><circle cx="422.0" cy="146.8" r="1.5"/><circle cx="419.9" cy="137.0" r="1.5"/><circle cx="433.8" cy="105.8" r="1.5"/><circle cx="388.1" cy="12.0" r="1.5"/><circle cx="400.6" cy="7.0" r="1.5"/><circle cx="406.1" cy="10.0" r="1.5"/><circle cx="426.5" cy="140.6" r="1.5"/><circle cx="414.3" cy="31.8" r="1.5"/><circle cx="441.8" cy="86.3" r="1.5"/><circle cx="412.8" cy="15.2" r="1.5"/><circle cx="468.0" cy="56.5" r="1.5"/><circle cx="472.6" cy="45.0" r="1.5"/><circle cx="392.8" cy="9.7" r="1.5"/><circle cx="406.0" cy="7.8" r="1.5"/><circle cx="437.3" cy="97.3" r="1.5"/><circle cx="455.7" cy="67.6" r="1.5"/><circle cx="393.2" cy="10.6" r="1.5"/><circle cx="403.9" cy="7.9" r="1.5"/><circle cx="427.9" cy="134.1" r="1.5"/><circle cx="446.7" cy="75.8" r="1.5"/><circle cx="467.4" cy="52.0" r="1.5"/><circle cx="464.2" cy="60.6" r="1.5"/><circle cx="457.7" cy="62.6" r="1.5"/><circle cx="392.2" cy="8.6" r="1.5"/><circle cx="473.9" cy="44.8" r="1.5"/><circle cx="441.9" cy="87.0" r="1.5"/><circle cx="395.2" cy="9.5" r="1.5"/><circle cx="410.1" cy="7.4" r="1.5"/><circle cx="442.4" cy="83.9" r="1.5"/><circle cx="421.6" cy="148.3" r="1.5"/><circle cx="427.0" cy="139.0" r="1.5"/><circle cx="458.7" cy="60.1" r="1.5"/><circle cx="460.4" cy="61.5" r="1.5"/><circle cx="435.9" cy="108.2" r="1.5"/><circle cx="457.6" cy="56.0" r="1.5"/><circle cx="423.4" cy="151.9" r="1.5"/><circle cx="473.7" cy="40.6" r="1.5"/><circle cx="441.1" cy="87.9" r="1.5"/><circle cx="473.1" cy="38.6" r="1.5"/><circle cx="391.4" cy="9.6" r="1.5"/><circle cx="465.6" cy="53.6" r="1.5"/><circle cx="437.0" cy="97.8" r="1.5"/><circle cx="450.7" cy="67.0" r="1.5"/><circle cx="404.6" cy="7.8" r="1.5"/><circle cx="436.1" cy="95.5" r="1.5"/><circle cx="413.1" cy="15.1" r="1.5"/><circle cx="396.9" cy="8.9" r="1.5"/><circle cx="387.8" cy="12.6" r="1.5"/><circle cx="467.7" cy="48.8" r="1.5"/><circle cx="446.9" cy="82.6" r="1.5"/><circle cx="405.7" cy="8.6" r="1.5"/><circle cx="410.3" cy="7.4" r="1.5"/><circle cx="428.7" cy="128.2" r="1.5"/><circle cx="459.9" cy="59.9" r="1.5"/><circle cx="397.9" cy="8.5" r="1.5"/><circle cx="473.1" cy="40.4" r="1.5"/><circle cx="471.0" cy="52.2" r="1.5"/><circle cx="409.2" cy="8.5" r="1.5"/><circle cx="444.2" cy="91.2" r="1.5"/><circle cx="419.4" cy="129.5" r="1.5"/><circle cx="449.2" cy="74.3" r="1.5"/><circle cx="395.2" cy="10.1" r="1.5"/><circle cx="429.1" cy="127.6" r="1.5"/><circle cx="439.6" cy="99.4" r="1.5"/><circle cx="442.9" cy="86.0" r="1.5"/><circle cx="448.8" cy="74.1" r="1.5"/><circle cx="466.4" cy="46.3" r="1.5"/><circle cx="408.9" cy="5.9" r="1.5"/><circle cx="401.1" cy="6.7" r="1.5"/><circle cx="422.1" cy="148.1" r="1.5"/><circle cx="437.8" cy="97.6" r="1.5"/><circle cx="472.5" cy="47.4" r="1.5"/><circle cx="450.4" cy="69.0" r="1.5"/><circle cx="452.8" cy="71.5" r="1.5"/><circle cx="473.6" cy="48.1" r="1.5"/><circle cx="411.2" cy="9.2" r="1.5"/><circle cx="410.5" cy="9.1" r="1.5"/><circle cx="424.9" cy="146.4" r="1.5"/><circle cx="413.7" cy="21.2" r="1.5"/><circle cx="445.1" cy="82.9" r="1.5"/><circle cx="471.7" cy="42.0" r="1.5"/><circle cx="401.1" cy="7.2" r="1.5"/><circle cx="433.3" cy="101.9" r="1.5"/><circle cx="447.5" cy="75.7" r="1.5"/><circle cx="431.2" cy="119.6" r="1.5"/><circle cx="468.4" cy="51.7" r="1.5"/><circle cx="452.7" cy="71.8" r="1.5"/><circle cx="465.6" cy="57.1" r="1.5"/><circle cx="397.4" cy="8.0" r="1.5"/><circle cx="404.8" cy="8.8" r="1.5"/><circle cx="393.3" cy="8.4" r="1.5"/><circle cx="460.9" cy="49.8" r="1.5"/><circle cx="472.7" cy="44.5" r="1.5"/><circle cx="388.8" cy="10.7" r="1.5"/><circle cx="457.3" cy="59.4" r="1.5"/><circle cx="451.9" cy="69.4" r="1.5"/><circle cx="467.9" cy="53.0" r="1.5"/><circle cx="411.4" cy="10.5" r="1.5"/><circle cx="450.8" cy="71.0" r="1.5"/><circle cx="408.5" cy="8.3" r="1.5"/><circle cx="394.3" cy="9.7" r="1.5"/><circle cx="453.4" cy="64.4" r="1.5"/><circle cx="391.3" cy="10.3" r="1.5"/><circle cx="449.4" cy="75.4" r="1.5"/><circle cx="412.6" cy="13.4" r="1.5"/><circle cx="430.6" cy="118.6" r="1.5"/><circle cx="466.4" cy="54.6" r="1.5"/><circle cx="409.1" cy="9.6" r="1.5"/><circle cx="429.0" cy="128.0" r="1.5"/><circle cx="418.9" cy="122.5" r="1.5"/><circle cx="404.4" cy="5.7" r="1.5"/><circle cx="429.4" cy="126.2" r="1.5"/><circle cx="403.6" cy="6.9" r="1.5"/><circle cx="458.2" cy="61.6" r="1.5"/><circle cx="441.9" cy="93.5" r="1.5"/><circle cx="412.6" cy="11.8" r="1.5"/><circle cx="473.6" cy="44.6" r="1.5"/><circle cx="418.1" cy="107.5" r="1.5"/><circle cx="446.9" cy="81.7" r="1.5"/><circle cx="452.4" cy="56.2" r="1.5"/><circle cx="411.0" cy="7.4" r="1.5"/><circle cx="388.6" cy="11.8" r="1.5"/><circle cx="466.5" cy="52.1" r="1.5"/><circle cx="472.1" cy="47.6" r="1.5"/><circle cx="402.6" cy="7.0" r="1.5"/><circle cx="401.1" cy="6.7" r="1.5"/><circle cx="476.5" cy="41.0" r="1.5"/><circle cx="478.3" cy="43.0" r="1.5"/><circle cx="481.4" cy="45.6" r="1.5"/><circle cx="484.0" cy="41.2" r="1.5"/><circle cx="488.7" cy="35.5" r="1.5"/><circle cx="490.2" cy="34.6" r="1.5"/><circle cx="494.4" cy="37.0" r="1.5"/><circle cx="496.8" cy="32.6" r="1.5"/><circle cx="498.9" cy="30.9" r="1.5"/><circle cx="502.2" cy="29.5" r="1.5"/><circle cx="505.2" cy="28.6" r="1.5"/><circle cx="509.1" cy="33.2" r="1.5"/><circle cx="511.4" cy="23.6" r="1.5"/><circle cx="513.9" cy="27.1" r="1.5"/><circle cx="518.4" cy="22.2" r="1.5"/><circle cx="520.5" cy="19.1" r="1.5"/><circle cx="522.7" cy="26.1" r="1.5"/><circle cx="527.3" cy="27.5" r="1.5"/><circle cx="529.7" cy="21.7" r="1.5"/><circle cx="532.3" cy="23.7" r="1.5"/><circle cx="534.7" cy="23.7" r="1.5"/><circle cx="538.7" cy="24.2" r="1.5"/><circle cx="540.5" cy="17.1" r="1.5"/><circle cx="545.1" cy="21.4" r="1.5"/><circle cx="547.7" cy="23.3" r="1.5"/><circle cx="550.6" cy="20.5" r="1.5"/><circle cx="553.7" cy="21.9" r="1.5"/><circle cx="556.8" cy="18.2" r="1.5"/><circle cx="559.0" cy="19.3" r="1.5"/><circle cx="562.6" cy="20.5" r="1.5"/><circle cx="564.3" cy="16.2" r="1.5"/><circle cx="568.4" cy="18.8" r="1.5"/><circle cx="571.4" cy="15.1" r="1.5"/><circle cx="573.4" cy="13.6" r="1.5"/><circle cx="576.2" cy="17.4" r="1.5"/><circle cx="580.7" cy="17.7" r="1.5"/><circle cx="583.6" cy="15.3" r="1.5"/><circle cx="585.1" cy="13.5" r="1.5"/><circle cx="588.9" cy="15.4" r="1.5"/><circle cx="591.2" cy="14.9" r="1.5"/><circle cx="594.2" cy="15.0" r="1.5"/><circle cx="598.5" cy="13.9" r="1.5"/><circle cx="601.0" cy="12.9" r="1.5"/><circle cx="604.1" cy="16.0" r="1.5"/><circle cx="606.2" cy="15.3" r="1.5"/><circle cx="610.1" cy="13.7" r="1.5"/><circle cx="612.8" cy="15.3" r="1.5"/><circle cx="615.2" cy="13.1" r="1.5"/><circle cx="618.5" cy="11.9" r="1.5"/><circle cx="621.0" cy="13.1" r="1.5"/><circle cx="624.6" cy="14.4" r="1.5"/><circle cx="626.8" cy="14.7" r="1.5"/><circle cx="630.2" cy="8.2" r="1.5"/><circle cx="634.0" cy="10.3" r="1.5"/><circle cx="636.6" cy="15.2" r="1.5"/><circle cx="639.4" cy="14.4" r="1.5"/><circle cx="641.5" cy="7.7" r="1.5"/><circle cx="645.8" cy="8.5" r="1.5"/><circle cx="648.4" cy="11.9" r="1.5"/><circle cx="652.0" cy="9.4" r="1.5"/><circle cx="654.9" cy="15.9" r="1.5"/><circle cx="657.9" cy="12.2" r="1.5"/><circle cx="660.1" cy="10.4" r="1.5"/><circle cx="663.5" cy="16.8" r="1.5"/><circle cx="665.2" cy="14.1" r="1.5"/><circle cx="668.1" cy="10.2" r="1.5"/><circle cx="672.4" cy="9.4" r="1.5"/><circle cx="675.2" cy="13.6" r="1.5"/><circle cx="678.7" cy="11.4" r="1.5"/><circle cx="680.4" cy="8.2" r="1.5"/></g>
<polyline clip-path="url(#cb)" points="386.6,12.4 386.8,12.4 386.9,12.3 387.1,12.2 387.3,12.1 387.5,12.1 387.6,12.0 387.8,11.9 388.0,11.9 388.1,11.8 388.3,11.7 388.5,11.6 388.6,11.6 388.8,11.5 389.0,11.4 389.2,11.3 389.3,11.3 389.5,11.2 389.7,11.1 389.8,11.1 390.0,11.0 390.2,10.9 390.3,10.8 390.5,10.8 390.7,10.7 390.8,10.6 391.0,10.6 391.2,10.5 391.4,10.4 391.5,10.4 391.7,10.3 391.9,10.2 392.0,10.1 392.2,10.1 392.4,10.0 392.5,9.9 392.7,9.9 392.9,9.8 393.1,9.7 393.2,9.7 393.4,9.6 393.6,9.5 393.7,9.5 393.9,9.4 394.1,9.4 394.2,9.3 394.4,9.2 394.6,9.2 394.8,9.1 394.9,9.1 395.1,9.0 395.3,8.9 395.4,8.9 395.6,8.8 395.8,8.8 395.9,8.7 396.1,8.7 396.3,8.6 396.5,8.5 396.6,8.5 396.8,8.4 397.0,8.4 397.1,8.3 397.3,8.3 397.5,8.2 397.6,8.2 397.8,8.2 398.0,8.1 398.1,8.1 398.3,8.0 398.5,8.0 398.7,7.9 398.8,7.9 399.0,7.9 399.2,7.8 399.3,7.8 399.5,7.7 399.7,7.7 399.8,7.7 400.0,7.6 400.2,7.6 400.4,7.6 400.5,7.6 400.7,7.5 400.9,7.5 401.0,7.5 401.2,7.5 401.4,7.4 401.5,7.4 401.7,7.4 401.9,7.4 402.1,7.4 402.2,7.3 402.4,7.3 402.6,7.3 402.7,7.3 402.9,7.3 403.1,7.3 403.2,7.3 403.4,7.3 403.6,7.3 403.8,7.3 403.9,7.3 404.1,7.3 404.3,7.3 404.4,7.3 404.6,7.3 404.8,7.3 404.9,7.3 405.1,7.3 405.3,7.3 405.4,7.3 405.6,7.4 405.8,7.4 406.0,7.4 406.1,7.4 406.3,7.4 406.5,7.4 406.6,7.5 406.8,7.5 407.0,7.5 407.1,7.5 407.3,7.5 407.5,7.6 407.7,7.6 407.8,7.6 408.0,7.6 408.2,7.7 408.3,7.7 408.5,7.7 408.7,7.8 408.8,7.8 409.0,7.8 409.2,7.9 409.4,7.9 409.5,8.0 409.7,8.0 409.9,8.1 410.0,8.2 410.2,8.3 410.4,8.3 410.5,8.4 410.7,8.5 410.9,8.7 411.1,8.8 411.2,9.1 411.4,9.4 411.6,9.8 411.7,10.2 411.9,10.7 412.1,11.2 412.2,11.8 412.4,12.5 412.6,13.1 412.8,13.9 412.9,14.6 413.1,15.5 413.3,16.4 413.4,17.6 413.6,19.0 413.8,20.7 413.9,22.6 414.1,24.8 414.3,27.6 414.4,31.2 414.6,35.2 414.8,39.5 415.0,43.8 415.1,47.9 415.3,51.6 415.5,55.0 415.6,58.3 415.8,61.7 416.0,65.0 416.1,68.4 416.3,72.0 416.5,75.8 416.7,79.6 416.8,83.5 417.0,87.3 417.2,91.0 417.3,94.6 417.5,97.9 417.7,100.9 417.8,104.0 418.0,107.1 418.2,110.1 418.4,113.1 418.5,116.1 418.7,118.9 418.9,121.7 419.0,124.3 419.2,126.8 419.4,129.2 419.5,131.3 419.7,133.2 419.9,135.0 420.1,136.4 420.2,137.6 420.4,138.8 420.6,140.0 420.7,141.2 420.9,142.3 421.1,143.4 421.2,144.4 421.4,145.4 421.6,146.4 421.7,147.2 421.9,148.0 422.1,148.7 422.3,149.4 422.4,149.9 422.6,150.4 422.8,150.7 422.9,151.0 423.1,151.1 423.3,151.1 423.4,151.0 423.6,150.8 423.8,150.4 424.0,150.1 424.1,149.6 424.3,149.1 424.5,148.5 424.6,147.8 424.8,147.1 425.0,146.4 425.1,145.7 425.3,145.0 425.5,144.2 425.7,143.5 425.8,142.8 426.0,142.1 426.2,141.4 426.3,140.7 426.5,140.0 426.7,139.3 426.8,138.5 427.0,137.7 427.2,136.9 427.4,136.1 427.5,135.2 427.7,134.4 427.9,133.5 428.0,132.6 428.2,131.7 428.4,130.8 428.5,129.9 428.7,129.0 428.9,128.1 429.0,127.3 429.2,126.4 429.4,125.6 429.6,124.7 429.7,123.9 429.9,123.2 430.1,122.4 430.2,121.7 430.4,121.0 430.6,120.4 430.7,119.8 430.9,119.2 431.1,118.7 431.3,118.1 431.4,117.5 431.6,117.0 431.8,116.4 431.9,115.9 432.1,115.3 432.3,114.8 432.4,114.3 432.6,113.7 432.8,113.2 433.0,112.7 433.1,112.2 433.3,111.7 433.5,111.2 433.6,110.7 433.8,110.2 434.0,109.7 434.1,109.2 434.3,108.7 434.5,108.2 434.7,107.7 434.8,107.3 435.0,106.8 435.2,106.3 435.3,105.9 435.5,105.4 435.7,105.0 435.8,104.5 436.0,104.1 436.2,103.7 436.3,103.2 436.5,102.8 436.7,102.4 436.9,101.9 437.0,101.5 437.2,101.1 437.4,100.7 437.5,100.3 437.7,99.9 437.9,99.4 438.0,99.0 438.2,98.6 438.4,98.2 438.6,97.9 438.7,97.5 438.9,97.1 439.1,96.7 439.2,96.3 439.4,95.9 439.6,95.5 439.7,95.2 439.9,94.8 440.1,94.4 440.3,94.1 440.4,93.7 440.6,93.3 440.8,93.0 440.9,92.6 441.1,92.2 441.3,91.9 441.4,91.5 441.6,91.2 441.8,90.8 442.0,90.5 442.1,90.1 442.3,89.8 442.5,89.4 442.6,89.1 442.8,88.7 443.0,88.4 443.1,88.1 443.3,87.7 443.5,87.4 443.7,87.1 443.8,86.7 444.0,86.4 444.2,86.0 444.3,85.7 444.5,85.4 444.7,85.1 444.8,84.7 445.0,84.4 445.2,84.1 445.3,83.7 445.5,83.4 445.7,83.1 445.9,82.8 446.0,82.4 446.2,82.1 446.4,81.8 446.5,81.5 446.7,81.1 446.9,80.8 447.0,80.5 447.2,80.2 447.4,79.9 447.6,79.5 447.7,79.2 447.9,78.9 448.1,78.6 448.2,78.3 448.4,78.0 448.6,77.7 448.7,77.3 448.9,77.0 449.1,76.7 449.3,76.4 449.4,76.1 449.6,75.8 449.8,75.5 449.9,75.2 450.1,74.9 450.3,74.6 450.4,74.3 450.6,74.0 450.8,73.7 451.0,73.4 451.1,73.1 451.3,72.8 451.5,72.6 451.6,72.3 451.8,72.0 452.0,71.7 452.1,71.4 452.3,71.1 452.5,70.9 452.6,70.6 452.8,70.3 453.0,70.0 453.2,69.8 453.3,69.5 453.5,69.2 453.7,69.0 453.8,68.7 454.0,68.4 454.2,68.2 454.3,67.9 454.5,67.6 454.7,67.4 454.9,67.1 455.0,66.9 455.2,66.6 455.4,66.4 455.5,66.1 455.7,65.9 455.9,65.6 456.0,65.4 456.2,65.2 456.4,64.9 456.6,64.7 456.7,64.5 456.9,64.2 457.1,64.0 457.2,63.8 457.4,63.6 457.6,63.3 457.7,63.1 457.9,62.9 458.1,62.7 458.3,62.5 458.4,62.3 458.6,62.1 458.8,61.9 458.9,61.7 459.1,61.5 459.3,61.3 459.4,61.1 459.6,60.9 459.8,60.7 459.9,60.5 460.1,60.3 460.3,60.1 460.5,59.9 460.6,59.8 460.8,59.6 461.0,59.4 461.1,59.2 461.3,59.1 461.5,58.9 461.6,58.7 461.8,58.5 462.0,58.4 462.2,58.2 462.3,58.0 462.5,57.8 462.7,57.7 462.8,57.5 463.0,57.3 463.2,57.1 463.3,57.0 463.5,56.8 463.7,56.6 463.9,56.4 464.0,56.3 464.2,56.1 464.4,55.9 464.5,55.8 464.7,55.6 464.9,55.4 465.0,55.3 465.2,55.1 465.4,54.9 465.6,54.8 465.7,54.6 465.9,54.4 466.1,54.3 466.2,54.1 466.4,53.9 466.6,53.8 466.7,53.6 466.9,53.4 467.1,53.3 467.3,53.1 467.4,53.0 467.6,52.8 467.8,52.6 467.9,52.5 468.1,52.3 468.3,52.1 468.4,52.0 468.6,51.8 468.8,51.7 468.9,51.5 469.1,51.4 469.3,51.2 469.5,51.0 469.6,50.9 469.8,50.7 470.0,50.6 470.1,50.4 470.3,50.3 470.5,50.1 470.6,50.0 470.8,49.8 471.0,49.7 471.2,49.5 471.3,49.3 472.4,48.4 473.5,47.5 474.5,46.6 475.6,45.7 476.6,44.8 477.7,44.0 478.8,43.2 479.8,42.4 480.9,41.6 482.0,40.8 483.0,40.1 484.1,39.3 485.2,38.6 486.2,37.9 487.3,37.3 488.4,36.6 489.4,36.0 490.5,35.4 491.5,34.9 492.6,34.3 493.7,33.8 494.7,33.3 495.8,32.8 496.9,32.4 497.9,31.9 499.0,31.5 500.1,31.2 501.1,30.8 502.2,30.5 503.3,30.1 504.3,29.8 505.4,29.6 506.4,29.3 507.5,29.0 508.6,28.8 509.6,28.5 510.7,28.3 511.8,28.1 512.8,27.9 513.9,27.6 515.0,27.4 516.0,27.2 517.1,27.0 518.2,26.7 519.2,26.5 520.3,26.2 521.3,26.0 522.4,25.7 523.5,25.5 524.5,25.2 525.6,24.9 526.7,24.7 527.7,24.4 528.8,24.1 529.9,23.8 530.9,23.6 532.0,23.3 533.1,23.0 534.1,22.8 535.2,22.5 536.2,22.2 537.3,22.0 538.4,21.7 539.4,21.5 540.5,21.2 541.6,21.0 542.6,20.8 543.7,20.6 544.8,20.4 545.8,20.2 546.9,20.0 548.0,19.8 549.0,19.6 550.1,19.5 551.2,19.3 552.2,19.2 553.3,19.0 554.3,18.9 555.4,18.8 556.5,18.6 557.5,18.5 558.6,18.3 559.7,18.2 560.7,18.1 561.8,18.0 562.9,17.8 563.9,17.7 565.0,17.6 566.1,17.5 567.1,17.4 568.2,17.3 569.2,17.1 570.3,17.0 571.4,16.9 572.4,16.8 573.5,16.7 574.6,16.6 575.6,16.5 576.7,16.4 577.8,16.3 578.8,16.2 579.9,16.1 581.0,16.0 582.0,15.9 583.1,15.8 584.1,15.8 585.2,15.7 586.3,15.6 587.3,15.5 588.4,15.4 589.5,15.3 590.5,15.2 591.6,15.2 592.7,15.1 593.7,15.0 594.8,14.9 595.9,14.8 596.9,14.8 598.0,14.7 599.0,14.6 600.1,14.5 601.2,14.5 602.2,14.4 603.3,14.3 604.4,14.2 605.4,14.2 606.5,14.1 607.6,14.0 608.6,13.9 609.7,13.9 610.8,13.8 611.8,13.7 612.9,13.6 613.9,13.5 615.0,13.5 616.1,13.4 617.1,13.3 618.2,13.3 619.3,13.2 620.3,13.1 621.4,13.0 622.5,13.0 623.5,12.9 624.6,12.9 625.7,12.8 626.7,12.7 627.8,12.7 628.8,12.6 629.9,12.6 631.0,12.6 632.0,12.5 633.1,12.5 634.2,12.4 635.2,12.4 636.3,12.4 637.4,12.4 638.4,12.3 639.5,12.3 640.6,12.3 641.6,12.3 642.7,12.3 643.7,12.3 644.8,12.3 645.9,12.3 646.9,12.3 648.0,12.3 649.1,12.3 650.1,12.3 651.2,12.2 652.3,12.2 653.3,12.2 654.4,12.2 655.5,12.2 656.5,12.2 657.6,12.2 658.6,12.2 659.7,12.2 660.8,12.2 661.8,12.2 662.9,12.2 664.0,12.2 665.0,12.2 666.1,12.2 667.2,12.2 668.2,12.2 669.3,12.2 670.4,12.2 671.4,12.2 672.5,12.2 673.5,12.2 674.6,12.2 675.7,12.2 676.7,12.2 677.8,12.2 678.9,12.1 679.9,12.1 681.0,12.1 682.1,12.1 683.1,12.1" fill="none" stroke="#000000" stroke-width="3.3" stroke-linejoin="round"/>
<g clip-path="url(#cb)" fill="#ff1f1f"><circle cx="474.6" cy="54.4" r="1.5"/><circle cx="406.1" cy="10.0" r="1.5"/><circle cx="410.1" cy="10.3" r="1.5"/><circle cx="422.9" cy="169.1" r="1.5"/><circle cx="396.5" cy="10.6" r="1.5"/><circle cx="400.5" cy="9.7" r="1.5"/><circle cx="437.5" cy="113.8" r="1.5"/><circle cx="474.8" cy="50.6" r="1.5"/><circle cx="413.5" cy="19.7" r="1.5"/><circle cx="405.1" cy="8.8" r="1.5"/><circle cx="442.1" cy="99.3" r="1.5"/><circle cx="413.8" cy="24.4" r="1.5"/><circle cx="388.7" cy="14.3" r="1.5"/><circle cx="395.8" cy="11.4" r="1.5"/><circle cx="465.2" cy="59.7" r="1.5"/><circle cx="397.2" cy="9.7" r="1.5"/><circle cx="444.3" cy="92.1" r="1.5"/><circle cx="424.6" cy="163.6" r="1.5"/><circle cx="455.6" cy="77.1" r="1.5"/><circle cx="432.6" cy="125.4" r="1.5"/><circle cx="408.0" cy="9.3" r="1.5"/><circle cx="406.2" cy="8.9" r="1.5"/><circle cx="408.3" cy="10.0" r="1.5"/><circle cx="408.2" cy="9.0" r="1.5"/><circle cx="409.7" cy="11.5" r="1.5"/><circle cx="414.0" cy="24.0" r="1.5"/><circle cx="440.4" cy="106.9" r="1.5"/><circle cx="434.2" cy="122.5" r="1.5"/><circle cx="393.6" cy="14.1" r="1.5"/><circle cx="424.7" cy="160.9" r="1.5"/><circle cx="469.8" cy="56.7" r="1.5"/><circle cx="470.6" cy="56.5" r="1.5"/><circle cx="415.8" cy="62.9" r="1.5"/><circle cx="401.3" cy="8.0" r="1.5"/><circle cx="413.4" cy="16.9" r="1.5"/><circle cx="399.3" cy="10.8" r="1.5"/><circle cx="410.4" cy="11.6" r="1.5"/><circle cx="469.3" cy="55.7" r="1.5"/><circle cx="465.1" cy="56.7" r="1.5"/><circle cx="427.5" cy="146.0" r="1.5"/><circle cx="436.2" cy="122.3" r="1.5"/><circle cx="449.5" cy="86.9" r="1.5"/><circle cx="449.6" cy="86.6" r="1.5"/><circle cx="448.9" cy="86.7" r="1.5"/><circle cx="452.6" cy="77.4" r="1.5"/><circle cx="439.8" cy="106.1" r="1.5"/><circle cx="399.3" cy="12.4" r="1.5"/><circle cx="448.3" cy="87.9" r="1.5"/><circle cx="446.7" cy="91.4" r="1.5"/><circle cx="401.9" cy="11.4" r="1.5"/><circle cx="404.8" cy="9.5" r="1.5"/><circle cx="443.8" cy="99.7" r="1.5"/><circle cx="421.7" cy="159.9" r="1.5"/><circle cx="459.2" cy="71.8" r="1.5"/><circle cx="412.1" cy="13.3" r="1.5"/><circle cx="446.5" cy="91.5" r="1.5"/><circle cx="441.9" cy="98.2" r="1.5"/><circle cx="397.3" cy="12.2" r="1.5"/><circle cx="412.2" cy="14.0" r="1.5"/><circle cx="418.8" cy="124.8" r="1.5"/><circle cx="414.2" cy="28.3" r="1.5"/><circle cx="395.6" cy="11.9" r="1.5"/><circle cx="408.4" cy="9.6" r="1.5"/><circle cx="435.0" cy="121.8" r="1.5"/><circle cx="407.5" cy="9.2" r="1.5"/><circle cx="443.8" cy="97.8" r="1.5"/><circle cx="424.2" cy="164.7" r="1.5"/><circle cx="427.9" cy="144.6" r="1.5"/><circle cx="405.8" cy="10.0" r="1.5"/><circle cx="457.1" cy="73.3" r="1.5"/><circle cx="394.4" cy="11.5" r="1.5"/><circle cx="471.1" cy="56.5" r="1.5"/><circle cx="439.7" cy="110.5" r="1.5"/><circle cx="471.0" cy="55.2" r="1.5"/><circle cx="436.1" cy="116.9" r="1.5"/><circle cx="418.6" cy="119.9" r="1.5"/><circle cx="420.2" cy="147.9" r="1.5"/><circle cx="469.7" cy="54.8" r="1.5"/><circle cx="433.6" cy="123.3" r="1.5"/><circle cx="422.4" cy="164.1" r="1.5"/><circle cx="401.3" cy="9.8" r="1.5"/><circle cx="401.0" cy="12.1" r="1.5"/><circle cx="424.3" cy="164.7" r="1.5"/><circle cx="427.5" cy="145.5" r="1.5"/><circle cx="458.7" cy="70.7" r="1.5"/><circle cx="398.3" cy="10.2" r="1.5"/><circle cx="427.7" cy="145.2" r="1.5"/><circle cx="399.3" cy="10.2" r="1.5"/><circle cx="410.0" cy="9.7" r="1.5"/><circle cx="431.1" cy="134.6" r="1.5"/><circle cx="465.1" cy="59.6" r="1.5"/><circle cx="399.2" cy="12.1" r="1.5"/><circle cx="402.9" cy="8.9" r="1.5"/><circle cx="450.0" cy="83.7" r="1.5"/><circle cx="434.2" cy="124.0" r="1.5"/><circle cx="395.3" cy="12.0" r="1.5"/><circle cx="447.8" cy="89.4" r="1.5"/><circle cx="472.3" cy="50.2" r="1.5"/><circle cx="452.8" cy="79.8" r="1.5"/><circle cx="475.7" cy="52.1" r="1.5"/><circle cx="453.2" cy="80.7" r="1.5"/><circle cx="416.6" cy="79.4" r="1.5"/><circle cx="458.3" cy="73.2" r="1.5"/><circle cx="437.8" cy="113.5" r="1.5"/><circle cx="395.6" cy="10.9" r="1.5"/><circle cx="419.6" cy="135.7" r="1.5"/><circle cx="471.2" cy="55.4" r="1.5"/><circle cx="445.5" cy="92.5" r="1.5"/><circle cx="420.3" cy="147.1" r="1.5"/><circle cx="450.2" cy="86.3" r="1.5"/><circle cx="448.0" cy="87.8" r="1.5"/><circle cx="401.5" cy="8.5" r="1.5"/><circle cx="428.3" cy="144.0" r="1.5"/><circle cx="458.8" cy="70.8" r="1.5"/><circle cx="397.8" cy="12.1" r="1.5"/><circle cx="436.0" cy="117.5" r="1.5"/><circle cx="398.0" cy="11.8" r="1.5"/><circle cx="411.8" cy="11.5" r="1.5"/><circle cx="455.3" cy="75.5" r="1.5"/><circle cx="419.2" cy="130.7" r="1.5"/><circle cx="460.3" cy="70.1" r="1.5"/><circle cx="451.8" cy="82.8" r="1.5"/><circle cx="443.8" cy="100.4" r="1.5"/><circle cx="400.8" cy="11.1" r="1.5"/><circle cx="427.5" cy="146.6" r="1.5"/><circle cx="465.2" cy="59.9" r="1.5"/><circle cx="443.5" cy="97.1" r="1.5"/><circle cx="393.6" cy="12.9" r="1.5"/><circle cx="431.9" cy="129.3" r="1.5"/><circle cx="428.8" cy="140.3" r="1.5"/><circle cx="430.6" cy="134.5" r="1.5"/><circle cx="424.2" cy="164.6" r="1.5"/><circle cx="459.5" cy="72.3" r="1.5"/><circle cx="434.6" cy="120.1" r="1.5"/><circle cx="463.4" cy="61.3" r="1.5"/><circle cx="471.9" cy="53.5" r="1.5"/><circle cx="466.7" cy="61.0" r="1.5"/><circle cx="455.6" cy="72.3" r="1.5"/><circle cx="389.4" cy="13.0" r="1.5"/><circle cx="387.7" cy="14.5" r="1.5"/><circle cx="402.7" cy="8.8" r="1.5"/><circle cx="433.3" cy="129.0" r="1.5"/><circle cx="414.0" cy="23.8" r="1.5"/><circle cx="399.2" cy="10.2" r="1.5"/><circle cx="469.5" cy="55.1" r="1.5"/><circle cx="425.6" cy="156.5" r="1.5"/><circle cx="405.1" cy="8.6" r="1.5"/><circle cx="432.8" cy="124.4" r="1.5"/><circle cx="474.4" cy="52.2" r="1.5"/><circle cx="451.5" cy="81.3" r="1.5"/><circle cx="469.3" cy="55.1" r="1.5"/><circle cx="397.8" cy="8.2" r="1.5"/><circle cx="453.1" cy="80.1" r="1.5"/><circle cx="417.4" cy="96.1" r="1.5"/><circle cx="419.4" cy="133.2" r="1.5"/><circle cx="427.9" cy="143.9" r="1.5"/><circle cx="428.5" cy="144.2" r="1.5"/><circle cx="457.5" cy="71.5" r="1.5"/><circle cx="413.7" cy="20.9" r="1.5"/><circle cx="428.3" cy="140.9" r="1.5"/><circle cx="425.8" cy="154.6" r="1.5"/><circle cx="442.6" cy="102.6" r="1.5"/><circle cx="436.9" cy="117.1" r="1.5"/><circle cx="391.7" cy="11.1" r="1.5"/><circle cx="463.1" cy="63.0" r="1.5"/><circle cx="444.4" cy="96.6" r="1.5"/><circle cx="401.0" cy="8.6" r="1.5"/><circle cx="431.4" cy="134.4" r="1.5"/><circle cx="467.2" cy="59.3" r="1.5"/><circle cx="465.6" cy="61.3" r="1.5"/><circle cx="423.2" cy="164.3" r="1.5"/><circle cx="408.6" cy="10.0" r="1.5"/><circle cx="471.7" cy="53.9" r="1.5"/><circle cx="452.6" cy="80.4" r="1.5"/><circle cx="446.2" cy="91.3" r="1.5"/><circle cx="423.7" cy="165.1" r="1.5"/><circle cx="464.1" cy="59.7" r="1.5"/><circle cx="404.6" cy="9.2" r="1.5"/><circle cx="460.8" cy="65.7" r="1.5"/><circle cx="458.3" cy="69.2" r="1.5"/><circle cx="433.7" cy="124.6" r="1.5"/><circle cx="419.7" cy="138.6" r="1.5"/><circle cx="448.2" cy="90.8" r="1.5"/><circle cx="421.9" cy="161.2" r="1.5"/><circle cx="424.1" cy="164.8" r="1.5"/><circle cx="411.4" cy="12.6" r="1.5"/><circle cx="456.8" cy="71.8" r="1.5"/><circle cx="401.1" cy="10.5" r="1.5"/><circle cx="431.3" cy="130.9" r="1.5"/><circle cx="426.6" cy="149.7" r="1.5"/><circle cx="474.7" cy="51.0" r="1.5"/><circle cx="397.3" cy="10.4" r="1.5"/><circle cx="437.5" cy="114.0" r="1.5"/><circle cx="407.1" cy="9.9" r="1.5"/><circle cx="471.6" cy="50.7" r="1.5"/><circle cx="398.7" cy="8.9" r="1.5"/><circle cx="468.6" cy="57.6" r="1.5"/><circle cx="444.6" cy="94.3" r="1.5"/><circle cx="404.4" cy="11.0" r="1.5"/><circle cx="424.2" cy="163.9" r="1.5"/><circle cx="411.9" cy="13.1" r="1.5"/><circle cx="429.8" cy="138.2" r="1.5"/><circle cx="460.5" cy="67.6" r="1.5"/><circle cx="430.1" cy="137.2" r="1.5"/><circle cx="474.7" cy="49.7" r="1.5"/><circle cx="468.2" cy="55.2" r="1.5"/><circle cx="406.7" cy="10.5" r="1.5"/><circle cx="399.3" cy="10.3" r="1.5"/><circle cx="448.0" cy="89.7" r="1.5"/><circle cx="419.4" cy="132.7" r="1.5"/><circle cx="411.0" cy="9.9" r="1.5"/><circle cx="469.4" cy="59.3" r="1.5"/><circle cx="438.7" cy="111.3" r="1.5"/><circle cx="411.3" cy="12.8" r="1.5"/><circle cx="437.4" cy="112.6" r="1.5"/><circle cx="436.2" cy="114.7" r="1.5"/><circle cx="458.2" cy="71.1" r="1.5"/><circle cx="424.0" cy="167.0" r="1.5"/><circle cx="432.1" cy="128.6" r="1.5"/><circle cx="401.0" cy="8.9" r="1.5"/><circle cx="475.2" cy="49.8" r="1.5"/><circle cx="478.1" cy="46.4" r="1.5"/><circle cx="482.1" cy="47.0" r="1.5"/><circle cx="484.8" cy="40.5" r="1.5"/><circle cx="488.8" cy="43.0" r="1.5"/><circle cx="490.4" cy="39.8" r="1.5"/><circle cx="493.2" cy="41.4" r="1.5"/><circle cx="496.4" cy="35.0" r="1.5"/><circle cx="500.4" cy="38.4" r="1.5"/><circle cx="503.1" cy="30.1" r="1.5"/><circle cx="504.7" cy="36.4" r="1.5"/><circle cx="507.9" cy="31.5" r="1.5"/><circle cx="512.4" cy="31.3" r="1.5"/><circle cx="514.7" cy="32.6" r="1.5"/><circle cx="517.4" cy="26.7" r="1.5"/><circle cx="519.7" cy="30.2" r="1.5"/><circle cx="523.0" cy="24.7" r="1.5"/><circle cx="525.5" cy="30.1" r="1.5"/><circle cx="530.1" cy="28.3" r="1.5"/><circle cx="533.2" cy="30.4" r="1.5"/><circle cx="535.4" cy="23.4" r="1.5"/><circle cx="538.9" cy="21.6" r="1.5"/><circle cx="540.6" cy="22.9" r="1.5"/><circle cx="543.8" cy="23.1" r="1.5"/><circle cx="547.4" cy="24.2" r="1.5"/><circle cx="550.5" cy="15.6" r="1.5"/><circle cx="553.4" cy="19.1" r="1.5"/><circle cx="555.4" cy="25.2" r="1.5"/><circle cx="559.9" cy="20.8" r="1.5"/><circle cx="561.6" cy="26.2" r="1.5"/><circle cx="565.4" cy="15.4" r="1.5"/><circle cx="568.7" cy="13.9" r="1.5"/><circle cx="570.3" cy="15.0" r="1.5"/><circle cx="573.9" cy="18.4" r="1.5"/><circle cx="577.1" cy="19.3" r="1.5"/><circle cx="580.8" cy="21.0" r="1.5"/><circle cx="583.2" cy="15.9" r="1.5"/><circle cx="585.7" cy="18.9" r="1.5"/><circle cx="589.1" cy="17.6" r="1.5"/><circle cx="591.8" cy="18.0" r="1.5"/><circle cx="594.0" cy="17.0" r="1.5"/><circle cx="597.2" cy="13.8" r="1.5"/><circle cx="600.9" cy="11.5" r="1.5"/><circle cx="603.9" cy="15.1" r="1.5"/><circle cx="606.5" cy="15.2" r="1.5"/><circle cx="609.1" cy="17.8" r="1.5"/><circle cx="611.7" cy="17.9" r="1.5"/><circle cx="616.0" cy="17.1" r="1.5"/><circle cx="617.9" cy="12.1" r="1.5"/><circle cx="621.8" cy="13.4" r="1.5"/><circle cx="625.2" cy="11.4" r="1.5"/><circle cx="628.0" cy="12.6" r="1.5"/><circle cx="630.5" cy="14.5" r="1.5"/><circle cx="632.5" cy="16.5" r="1.5"/><circle cx="636.7" cy="14.2" r="1.5"/><circle cx="640.1" cy="16.8" r="1.5"/><circle cx="641.8" cy="8.2" r="1.5"/><circle cx="645.8" cy="12.5" r="1.5"/><circle cx="648.2" cy="14.1" r="1.5"/><circle cx="651.6" cy="8.2" r="1.5"/><circle cx="654.5" cy="14.1" r="1.5"/><circle cx="656.7" cy="11.7" r="1.5"/><circle cx="660.0" cy="13.5" r="1.5"/><circle cx="662.2" cy="12.2" r="1.5"/><circle cx="665.2" cy="13.9" r="1.5"/><circle cx="668.5" cy="11.8" r="1.5"/><circle cx="672.3" cy="9.4" r="1.5"/><circle cx="674.7" cy="16.1" r="1.5"/><circle cx="678.5" cy="18.5" r="1.5"/><circle cx="681.1" cy="9.6" r="1.5"/></g>
<polyline clip-path="url(#cb)" points="386.6,14.6 386.8,14.6 386.9,14.5 387.1,14.4 387.3,14.4 387.5,14.3 387.6,14.2 387.8,14.1 388.0,14.1 388.1,14.0 388.3,13.9 388.5,13.9 388.6,13.8 388.8,13.7 389.0,13.6 389.2,13.6 389.3,13.5 389.5,13.4 389.7,13.3 389.8,13.3 390.0,13.2 390.2,13.1 390.3,13.1 390.5,13.0 390.7,12.9 390.8,12.8 391.0,12.8 391.2,12.7 391.4,12.6 391.5,12.6 391.7,12.5 391.9,12.4 392.0,12.4 392.2,12.3 392.4,12.2 392.5,12.2 392.7,12.1 392.9,12.0 393.1,12.0 393.2,11.9 393.4,11.8 393.6,11.8 393.7,11.7 393.9,11.6 394.1,11.6 394.2,11.5 394.4,11.4 394.6,11.4 394.8,11.3 394.9,11.3 395.1,11.2 395.3,11.1 395.4,11.1 395.6,11.0 395.8,11.0 395.9,10.9 396.1,10.9 396.3,10.8 396.5,10.8 396.6,10.7 396.8,10.7 397.0,10.6 397.1,10.6 397.3,10.5 397.5,10.5 397.6,10.4 397.8,10.4 398.0,10.3 398.1,10.3 398.3,10.2 398.5,10.2 398.7,10.1 398.8,10.1 399.0,10.1 399.2,10.0 399.3,10.0 399.5,10.0 399.7,9.9 399.8,9.9 400.0,9.9 400.2,9.8 400.4,9.8 400.5,9.8 400.7,9.7 400.9,9.7 401.0,9.7 401.2,9.7 401.4,9.6 401.5,9.6 401.7,9.6 401.9,9.6 402.1,9.6 402.2,9.6 402.4,9.5 402.6,9.5 402.7,9.5 402.9,9.5 403.1,9.5 403.2,9.5 403.4,9.5 403.6,9.5 403.8,9.5 403.9,9.5 404.1,9.5 404.3,9.5 404.4,9.5 404.6,9.5 404.8,9.5 404.9,9.5 405.1,9.5 405.3,9.5 405.4,9.6 405.6,9.6 405.8,9.6 406.0,9.6 406.1,9.6 406.3,9.6 406.5,9.7 406.6,9.7 406.8,9.7 407.0,9.7 407.1,9.7 407.3,9.8 407.5,9.8 407.7,9.8 407.8,9.8 408.0,9.9 408.2,9.9 408.3,9.9 408.5,9.9 408.7,10.0 408.8,10.0 409.0,10.0 409.2,10.1 409.4,10.1 409.5,10.2 409.7,10.2 409.9,10.3 410.0,10.4 410.2,10.5 410.4,10.6 410.5,10.7 410.7,10.8 410.9,10.9 411.1,11.0 411.2,11.2 411.4,11.5 411.6,11.8 411.7,12.2 411.9,12.6 412.1,13.0 412.2,13.5 412.4,14.0 412.6,14.6 412.8,15.2 412.9,15.9 413.1,16.6 413.3,17.4 413.4,18.4 413.6,19.8 413.8,21.3 413.9,23.1 414.1,25.1 414.3,27.8 414.4,31.3 414.6,35.3 414.8,39.6 415.0,43.8 415.1,47.9 415.3,51.5 415.5,55.0 415.6,58.3 415.8,61.6 416.0,65.0 416.1,68.4 416.3,72.0 416.5,75.6 416.7,79.4 416.8,83.1 417.0,86.9 417.2,90.6 417.3,94.2 417.5,97.7 417.7,101.2 417.8,104.6 418.0,108.0 418.2,111.4 418.4,114.7 418.5,117.9 418.7,121.0 418.9,123.9 419.0,126.7 419.2,129.4 419.4,132.2 419.5,135.0 419.7,137.8 419.9,140.6 420.1,143.2 420.2,145.8 420.4,148.3 420.6,150.6 420.7,152.8 420.9,154.8 421.1,156.5 421.2,158.0 421.4,159.3 421.6,160.3 421.7,161.2 421.9,162.1 422.1,162.9 422.3,163.7 422.4,164.5 422.6,165.1 422.8,165.6 422.9,166.1 423.1,166.4 423.3,166.5 423.4,166.6 423.6,166.4 423.8,166.1 424.0,165.6 424.1,164.9 424.3,164.2 424.5,163.3 424.6,162.4 424.8,161.3 425.0,160.3 425.1,159.1 425.3,158.0 425.5,156.8 425.7,155.7 425.8,154.6 426.0,153.5 426.2,152.5 426.3,151.5 426.5,150.6 426.7,149.9 426.8,149.2 427.0,148.4 427.2,147.7 427.4,147.0 427.5,146.3 427.7,145.6 427.9,144.9 428.0,144.2 428.2,143.6 428.4,142.9 428.5,142.2 428.7,141.6 428.9,140.9 429.0,140.2 429.2,139.6 429.4,138.9 429.6,138.3 429.7,137.7 429.9,137.0 430.1,136.4 430.2,135.8 430.4,135.2 430.6,134.6 430.7,134.0 430.9,133.4 431.1,132.8 431.3,132.2 431.4,131.6 431.6,131.0 431.8,130.4 431.9,129.9 432.1,129.3 432.3,128.8 432.4,128.2 432.6,127.6 432.8,127.1 433.0,126.5 433.1,126.0 433.3,125.5 433.5,124.9 433.6,124.4 433.8,123.9 434.0,123.4 434.1,122.9 434.3,122.4 434.5,121.9 434.7,121.4 434.8,120.9 435.0,120.4 435.2,119.9 435.3,119.4 435.5,118.9 435.7,118.4 435.8,117.9 436.0,117.5 436.2,117.0 436.3,116.5 436.5,116.1 436.7,115.6 436.9,115.1 437.0,114.7 437.2,114.2 437.4,113.7 437.5,113.3 437.7,112.8 437.9,112.4 438.0,111.9 438.2,111.5 438.4,111.0 438.6,110.6 438.7,110.1 438.9,109.7 439.1,109.3 439.2,108.8 439.4,108.4 439.6,108.0 439.7,107.5 439.9,107.1 440.1,106.7 440.3,106.3 440.4,105.8 440.6,105.4 440.8,105.0 440.9,104.6 441.1,104.2 441.3,103.8 441.4,103.4 441.6,103.0 441.8,102.6 442.0,102.2 442.1,101.8 442.3,101.4 442.5,101.0 442.6,100.6 442.8,100.2 443.0,99.8 443.1,99.4 443.3,99.0 443.5,98.6 443.7,98.2 443.8,97.8 444.0,97.5 444.2,97.1 444.3,96.7 444.5,96.3 444.7,96.0 444.8,95.6 445.0,95.2 445.2,94.8 445.3,94.5 445.5,94.1 445.7,93.8 445.9,93.4 446.0,93.0 446.2,92.7 446.4,92.3 446.5,92.0 446.7,91.6 446.9,91.3 447.0,90.9 447.2,90.6 447.4,90.2 447.6,89.9 447.7,89.5 447.9,89.2 448.1,88.8 448.2,88.5 448.4,88.2 448.6,87.8 448.7,87.5 448.9,87.2 449.1,86.8 449.3,86.5 449.4,86.2 449.6,85.9 449.8,85.5 449.9,85.2 450.1,84.9 450.3,84.6 450.4,84.2 450.6,83.9 450.8,83.6 451.0,83.3 451.1,83.0 451.3,82.7 451.5,82.3 451.6,82.0 451.8,81.7 452.0,81.4 452.1,81.1 452.3,80.8 452.5,80.5 452.6,80.1 452.8,79.8 453.0,79.5 453.2,79.2 453.3,78.9 453.5,78.6 453.7,78.3 453.8,78.0 454.0,77.7 454.2,77.4 454.3,77.1 454.5,76.8 454.7,76.5 454.9,76.2 455.0,75.9 455.2,75.6 455.4,75.3 455.5,75.0 455.7,74.7 455.9,74.4 456.0,74.1 456.2,73.8 456.4,73.5 456.6,73.2 456.7,72.9 456.9,72.6 457.1,72.4 457.2,72.1 457.4,71.8 457.6,71.5 457.7,71.2 457.9,71.0 458.1,70.7 458.3,70.4 458.4,70.1 458.6,69.9 458.8,69.6 458.9,69.3 459.1,69.1 459.3,68.8 459.4,68.5 459.6,68.3 459.8,68.0 459.9,67.7 460.1,67.5 460.3,67.2 460.5,67.0 460.6,66.7 460.8,66.5 461.0,66.2 461.1,66.0 461.3,65.7 461.5,65.5 461.6,65.3 461.8,65.0 462.0,64.8 462.2,64.6 462.3,64.3 462.5,64.1 462.7,63.9 462.8,63.6 463.0,63.4 463.2,63.2 463.3,63.0 463.5,62.8 463.7,62.6 463.9,62.3 464.0,62.1 464.2,61.9 464.4,61.7 464.5,61.5 464.7,61.3 464.9,61.1 465.0,60.9 465.2,60.7 465.4,60.6 465.6,60.4 465.7,60.2 465.9,60.0 466.1,59.8 466.2,59.7 466.4,59.5 466.6,59.3 466.7,59.1 466.9,58.9 467.1,58.8 467.3,58.6 467.4,58.4 467.6,58.2 467.8,58.1 467.9,57.9 468.1,57.7 468.3,57.5 468.4,57.4 468.6,57.2 468.8,57.0 468.9,56.8 469.1,56.7 469.3,56.5 469.5,56.3 469.6,56.2 469.8,56.0 470.0,55.8 470.1,55.7 470.3,55.5 470.5,55.3 470.6,55.2 470.8,55.0 471.0,54.8 471.2,54.7 471.3,54.5 472.4,53.5 473.5,52.5 474.5,51.5 475.6,50.5 476.6,49.6 477.7,48.7 478.8,47.8 479.8,46.9 480.9,46.0 482.0,45.2 483.0,44.4 484.1,43.6 485.2,42.8 486.2,42.0 487.3,41.3 488.4,40.6 489.4,39.9 490.5,39.3 491.5,38.7 492.6,38.0 493.7,37.5 494.7,36.9 495.8,36.4 496.9,35.9 497.9,35.4 499.0,34.9 500.1,34.5 501.1,34.1 502.2,33.7 503.3,33.4 504.3,33.0 505.4,32.7 506.4,32.4 507.5,32.1 508.6,31.8 509.6,31.5 510.7,31.3 511.8,31.0 512.8,30.7 513.9,30.5 515.0,30.2 516.0,30.0 517.1,29.7 518.2,29.4 519.2,29.2 520.3,28.9 521.3,28.6 522.4,28.3 523.5,28.0 524.5,27.7 525.6,27.4 526.7,27.1 527.7,26.8 528.8,26.5 529.9,26.2 530.9,25.9 532.0,25.6 533.1,25.3 534.1,25.0 535.2,24.7 536.2,24.4 537.3,24.1 538.4,23.9 539.4,23.6 540.5,23.3 541.6,23.1 542.6,22.8 543.7,22.6 544.8,22.3 545.8,22.1 546.9,21.9 548.0,21.7 549.0,21.5 550.1,21.3 551.2,21.2 552.2,21.0 553.3,20.8 554.3,20.7 555.4,20.5 556.5,20.3 557.5,20.2 558.6,20.0 559.7,19.9 560.7,19.7 561.8,19.6 562.9,19.4 563.9,19.3 565.0,19.2 566.1,19.0 567.1,18.9 568.2,18.8 569.2,18.6 570.3,18.5 571.4,18.4 572.4,18.3 573.5,18.1 574.6,18.0 575.6,17.9 576.7,17.8 577.8,17.7 578.8,17.5 579.9,17.4 581.0,17.3 582.0,17.2 583.1,17.1 584.1,17.0 585.2,16.9 586.3,16.8 587.3,16.7 588.4,16.6 589.5,16.5 590.5,16.4 591.6,16.3 592.7,16.2 593.7,16.1 594.8,16.0 595.9,16.0 596.9,15.9 598.0,15.8 599.0,15.7 600.1,15.6 601.2,15.5 602.2,15.4 603.3,15.4 604.4,15.3 605.4,15.2 606.5,15.1 607.6,15.0 608.6,14.9 609.7,14.8 610.8,14.7 611.8,14.7 612.9,14.6 613.9,14.5 615.0,14.4 616.1,14.3 617.1,14.2 618.2,14.2 619.3,14.1 620.3,14.0 621.4,13.9 622.5,13.9 623.5,13.8 624.6,13.7 625.7,13.7 626.7,13.6 627.8,13.5 628.8,13.5 629.9,13.4 631.0,13.4 632.0,13.3 633.1,13.3 634.2,13.3 635.2,13.2 636.3,13.2 637.4,13.2 638.4,13.1 639.5,13.1 640.6,13.1 641.6,13.1 642.7,13.1 643.7,13.1 644.8,13.1 645.9,13.1 646.9,13.1 648.0,13.0 649.1,13.0 650.1,13.0 651.2,13.0 652.3,13.0 653.3,13.0 654.4,13.0 655.5,13.0 656.5,13.0 657.6,13.0 658.6,13.0 659.7,12.9 660.8,12.9 661.8,12.9 662.9,12.9 664.0,12.9 665.0,12.9 666.1,12.9 667.2,12.9 668.2,12.9 669.3,12.9 670.4,12.9 671.4,12.9 672.5,12.9 673.5,12.9 674.6,12.9 675.7,12.9 676.7,12.9 677.8,12.9 678.9,12.9 679.9,12.9 681.0,12.9 682.1,12.9 683.1,12.9" fill="none" stroke="#ff1f1f" stroke-width="3.3" stroke-linejoin="round"/>
<g clip-path="url(#cb)" fill="#1f1fff"><circle cx="389.3" cy="7.6" r="1.5"/><circle cx="418.5" cy="115.5" r="1.5"/><circle cx="412.4" cy="8.3" r="1.5"/><circle cx="417.5" cy="98.0" r="1.5"/><circle cx="474.0" cy="58.2" r="1.5"/><circle cx="459.8" cy="75.6" r="1.5"/><circle cx="475.7" cy="60.1" r="1.5"/><circle cx="457.8" cy="84.2" r="1.5"/><circle cx="473.2" cy="53.7" r="1.5"/><circle cx="424.4" cy="178.2" r="1.5"/><circle cx="470.4" cy="63.1" r="1.5"/><circle cx="435.8" cy="131.0" r="1.5"/><circle cx="459.3" cy="76.5" r="1.5"/><circle cx="405.3" cy="9.1" r="1.5"/><circle cx="465.1" cy="71.4" r="1.5"/><circle cx="422.6" cy="176.1" r="1.5"/><circle cx="470.8" cy="61.2" r="1.5"/><circle cx="414.6" cy="34.5" r="1.5"/><circle cx="422.5" cy="173.4" r="1.5"/><circle cx="432.7" cy="143.8" r="1.5"/><circle cx="465.7" cy="67.3" r="1.5"/><circle cx="452.3" cy="92.7" r="1.5"/><circle cx="410.6" cy="7.5" r="1.5"/><circle cx="431.7" cy="148.1" r="1.5"/><circle cx="462.7" cy="72.4" r="1.5"/><circle cx="466.0" cy="67.8" r="1.5"/><circle cx="453.3" cy="90.2" r="1.5"/><circle cx="416.6" cy="78.1" r="1.5"/><circle cx="469.1" cy="63.4" r="1.5"/><circle cx="421.6" cy="169.5" r="1.5"/><circle cx="452.1" cy="90.4" r="1.5"/><circle cx="458.7" cy="82.6" r="1.5"/><circle cx="448.3" cy="96.7" r="1.5"/><circle cx="392.2" cy="8.2" r="1.5"/><circle cx="406.4" cy="6.0" r="1.5"/><circle cx="456.6" cy="84.7" r="1.5"/><circle cx="445.3" cy="104.9" r="1.5"/><circle cx="462.3" cy="70.2" r="1.5"/><circle cx="449.8" cy="101.1" r="1.5"/><circle cx="448.3" cy="97.8" r="1.5"/><circle cx="465.4" cy="67.6" r="1.5"/><circle cx="469.7" cy="63.8" r="1.5"/><circle cx="412.9" cy="15.9" r="1.5"/><circle cx="461.3" cy="76.1" r="1.5"/><circle cx="472.9" cy="58.6" r="1.5"/><circle cx="398.1" cy="4.5" r="1.5"/><circle cx="426.6" cy="171.2" r="1.5"/><circle cx="435.6" cy="131.4" r="1.5"/><circle cx="437.3" cy="125.8" r="1.5"/><circle cx="464.3" cy="71.8" r="1.5"/><circle cx="388.2" cy="11.4" r="1.5"/><circle cx="393.4" cy="8.5" r="1.5"/><circle cx="456.7" cy="82.8" r="1.5"/><circle cx="411.9" cy="15.1" r="1.5"/><circle cx="428.4" cy="159.6" r="1.5"/><circle cx="400.4" cy="6.1" r="1.5"/><circle cx="472.4" cy="56.8" r="1.5"/><circle cx="431.2" cy="150.4" r="1.5"/><circle cx="393.7" cy="12.9" r="1.5"/><circle cx="467.7" cy="63.9" r="1.5"/><circle cx="439.7" cy="120.9" r="1.5"/><circle cx="410.0" cy="4.5" r="1.5"/><circle cx="395.7" cy="5.7" r="1.5"/><circle cx="390.2" cy="10.5" r="1.5"/><circle cx="464.2" cy="70.0" r="1.5"/><circle cx="398.3" cy="5.8" r="1.5"/><circle cx="407.0" cy="5.5" r="1.5"/><circle cx="436.6" cy="126.6" r="1.5"/><circle cx="393.4" cy="8.2" r="1.5"/><circle cx="451.4" cy="95.1" r="1.5"/><circle cx="444.7" cy="104.6" r="1.5"/><circle cx="445.0" cy="105.3" r="1.5"/><circle cx="419.1" cy="128.7" r="1.5"/><circle cx="412.7" cy="11.4" r="1.5"/><circle cx="455.8" cy="86.7" r="1.5"/><circle cx="474.3" cy="57.2" r="1.5"/><circle cx="440.2" cy="117.9" r="1.5"/><circle cx="468.3" cy="65.7" r="1.5"/><circle cx="401.5" cy="6.0" r="1.5"/><circle cx="455.0" cy="87.5" r="1.5"/><circle cx="408.3" cy="7.2" r="1.5"/><circle cx="412.2" cy="12.2" r="1.5"/><circle cx="390.3" cy="4.7" r="1.5"/><circle cx="470.5" cy="61.3" r="1.5"/><circle cx="400.9" cy="5.2" r="1.5"/><circle cx="407.7" cy="5.9" r="1.5"/><circle cx="418.2" cy="109.7" r="1.5"/><circle cx="425.6" cy="176.6" r="1.5"/><circle cx="459.5" cy="81.4" r="1.5"/><circle cx="394.7" cy="5.5" r="1.5"/><circle cx="394.0" cy="8.7" r="1.5"/><circle cx="407.0" cy="6.8" r="1.5"/><circle cx="465.3" cy="73.5" r="1.5"/><circle cx="460.7" cy="74.4" r="1.5"/><circle cx="467.0" cy="68.4" r="1.5"/><circle cx="432.5" cy="144.6" r="1.5"/><circle cx="388.0" cy="8.3" r="1.5"/><circle cx="441.3" cy="115.5" r="1.5"/><circle cx="412.3" cy="8.0" r="1.5"/><circle cx="399.2" cy="4.3" r="1.5"/><circle cx="414.1" cy="22.4" r="1.5"/><circle cx="451.7" cy="93.9" r="1.5"/><circle cx="439.6" cy="124.9" r="1.5"/><circle cx="452.8" cy="95.8" r="1.5"/><circle cx="442.7" cy="109.3" r="1.5"/><circle cx="439.5" cy="120.9" r="1.5"/><circle cx="436.4" cy="130.4" r="1.5"/><circle cx="456.0" cy="82.4" r="1.5"/><circle cx="448.0" cy="100.4" r="1.5"/><circle cx="446.7" cy="107.1" r="1.5"/><circle cx="417.9" cy="105.8" r="1.5"/><circle cx="406.6" cy="9.6" r="1.5"/><circle cx="456.3" cy="82.1" r="1.5"/><circle cx="443.7" cy="106.4" r="1.5"/><circle cx="454.9" cy="81.0" r="1.5"/><circle cx="415.6" cy="57.5" r="1.5"/><circle cx="389.1" cy="9.5" r="1.5"/><circle cx="456.6" cy="80.5" r="1.5"/><circle cx="402.6" cy="5.6" r="1.5"/><circle cx="454.0" cy="87.1" r="1.5"/><circle cx="392.3" cy="7.1" r="1.5"/><circle cx="396.0" cy="9.3" r="1.5"/><circle cx="397.9" cy="9.1" r="1.5"/><circle cx="400.2" cy="6.2" r="1.5"/><circle cx="459.4" cy="80.0" r="1.5"/><circle cx="389.7" cy="11.7" r="1.5"/><circle cx="414.6" cy="37.3" r="1.5"/><circle cx="436.1" cy="136.9" r="1.5"/><circle cx="434.9" cy="136.8" r="1.5"/><circle cx="447.6" cy="102.7" r="1.5"/><circle cx="435.1" cy="132.6" r="1.5"/><circle cx="399.6" cy="8.8" r="1.5"/><circle cx="394.5" cy="7.6" r="1.5"/><circle cx="456.3" cy="82.2" r="1.5"/><circle cx="412.8" cy="10.7" r="1.5"/><circle cx="400.8" cy="5.4" r="1.5"/><circle cx="413.0" cy="11.1" r="1.5"/><circle cx="398.6" cy="8.8" r="1.5"/><circle cx="455.2" cy="84.7" r="1.5"/><circle cx="406.3" cy="3.8" r="1.5"/><circle cx="439.2" cy="117.8" r="1.5"/><circle cx="424.1" cy="180.4" r="1.5"/><circle cx="438.6" cy="128.1" r="1.5"/><circle cx="469.6" cy="62.3" r="1.5"/><circle cx="430.7" cy="152.0" r="1.5"/><circle cx="399.5" cy="6.0" r="1.5"/><circle cx="448.5" cy="96.0" r="1.5"/><circle cx="414.6" cy="37.3" r="1.5"/><circle cx="410.8" cy="9.2" r="1.5"/><circle cx="460.1" cy="75.4" r="1.5"/><circle cx="408.1" cy="7.0" r="1.5"/><circle cx="413.6" cy="20.3" r="1.5"/><circle cx="426.1" cy="171.9" r="1.5"/><circle cx="456.1" cy="81.6" r="1.5"/><circle cx="455.9" cy="81.2" r="1.5"/><circle cx="422.2" cy="172.1" r="1.5"/><circle cx="388.2" cy="10.6" r="1.5"/><circle cx="387.9" cy="12.1" r="1.5"/><circle cx="397.6" cy="3.1" r="1.5"/><circle cx="475.6" cy="58.7" r="1.5"/><circle cx="426.5" cy="171.6" r="1.5"/><circle cx="431.6" cy="146.5" r="1.5"/><circle cx="449.4" cy="103.0" r="1.5"/><circle cx="431.0" cy="150.0" r="1.5"/><circle cx="401.9" cy="6.6" r="1.5"/><circle cx="450.4" cy="99.7" r="1.5"/><circle cx="403.4" cy="9.3" r="1.5"/><circle cx="417.6" cy="100.7" r="1.5"/><circle cx="389.6" cy="9.9" r="1.5"/><circle cx="443.9" cy="109.7" r="1.5"/><circle cx="458.8" cy="70.8" r="1.5"/><circle cx="417.1" cy="88.8" r="1.5"/><circle cx="392.3" cy="7.3" r="1.5"/><circle cx="418.4" cy="114.3" r="1.5"/><circle cx="402.2" cy="6.4" r="1.5"/><circle cx="406.3" cy="3.4" r="1.5"/><circle cx="446.1" cy="101.9" r="1.5"/><circle cx="442.6" cy="112.9" r="1.5"/><circle cx="441.2" cy="119.8" r="1.5"/><circle cx="424.9" cy="175.9" r="1.5"/><circle cx="440.3" cy="122.2" r="1.5"/><circle cx="428.4" cy="161.0" r="1.5"/><circle cx="421.2" cy="164.0" r="1.5"/><circle cx="394.9" cy="9.7" r="1.5"/><circle cx="464.5" cy="67.4" r="1.5"/><circle cx="420.6" cy="158.5" r="1.5"/><circle cx="462.0" cy="75.1" r="1.5"/><circle cx="465.9" cy="66.2" r="1.5"/><circle cx="423.0" cy="177.6" r="1.5"/><circle cx="445.6" cy="105.2" r="1.5"/><circle cx="433.6" cy="137.4" r="1.5"/><circle cx="458.7" cy="79.6" r="1.5"/><circle cx="474.9" cy="58.2" r="1.5"/><circle cx="387.8" cy="12.4" r="1.5"/><circle cx="464.2" cy="68.5" r="1.5"/><circle cx="408.3" cy="1.7" r="1.5"/><circle cx="406.1" cy="5.6" r="1.5"/><circle cx="449.9" cy="97.0" r="1.5"/><circle cx="408.7" cy="4.6" r="1.5"/><circle cx="431.4" cy="143.5" r="1.5"/><circle cx="399.2" cy="4.8" r="1.5"/><circle cx="388.7" cy="8.3" r="1.5"/><circle cx="430.1" cy="151.4" r="1.5"/><circle cx="401.5" cy="5.6" r="1.5"/><circle cx="468.0" cy="63.7" r="1.5"/><circle cx="390.0" cy="9.7" r="1.5"/><circle cx="397.7" cy="3.6" r="1.5"/><circle cx="470.1" cy="61.3" r="1.5"/><circle cx="409.9" cy="7.6" r="1.5"/><circle cx="442.2" cy="113.1" r="1.5"/><circle cx="390.7" cy="8.6" r="1.5"/><circle cx="448.9" cy="98.7" r="1.5"/><circle cx="433.1" cy="137.5" r="1.5"/><circle cx="459.9" cy="77.0" r="1.5"/><circle cx="449.2" cy="101.8" r="1.5"/><circle cx="446.2" cy="107.2" r="1.5"/><circle cx="430.0" cy="154.9" r="1.5"/><circle cx="438.0" cy="130.0" r="1.5"/><circle cx="455.7" cy="81.2" r="1.5"/><circle cx="419.9" cy="150.0" r="1.5"/><circle cx="476.3" cy="54.0" r="1.5"/><circle cx="478.6" cy="55.9" r="1.5"/><circle cx="481.1" cy="49.4" r="1.5"/><circle cx="485.1" cy="44.6" r="1.5"/><circle cx="487.3" cy="49.2" r="1.5"/><circle cx="490.6" cy="46.6" r="1.5"/><circle cx="494.5" cy="41.3" r="1.5"/><circle cx="495.9" cy="44.7" r="1.5"/><circle cx="499.5" cy="37.0" r="1.5"/><circle cx="502.2" cy="37.2" r="1.5"/><circle cx="505.7" cy="34.1" r="1.5"/><circle cx="508.7" cy="39.9" r="1.5"/><circle cx="511.1" cy="34.4" r="1.5"/><circle cx="515.4" cy="32.6" r="1.5"/><circle cx="517.7" cy="37.5" r="1.5"/><circle cx="519.8" cy="30.4" r="1.5"/><circle cx="524.0" cy="34.6" r="1.5"/><circle cx="526.8" cy="29.9" r="1.5"/><circle cx="529.2" cy="32.8" r="1.5"/><circle cx="532.9" cy="26.5" r="1.5"/><circle cx="535.8" cy="23.4" r="1.5"/><circle cx="538.0" cy="26.7" r="1.5"/><circle cx="542.0" cy="25.6" r="1.5"/><circle cx="544.5" cy="21.9" r="1.5"/><circle cx="546.4" cy="25.7" r="1.5"/><circle cx="549.6" cy="23.9" r="1.5"/><circle cx="552.3" cy="21.6" r="1.5"/><circle cx="556.4" cy="21.9" r="1.5"/><circle cx="558.4" cy="18.8" r="1.5"/><circle cx="562.0" cy="19.2" r="1.5"/><circle cx="565.0" cy="17.0" r="1.5"/><circle cx="567.2" cy="21.4" r="1.5"/><circle cx="571.9" cy="18.1" r="1.5"/><circle cx="574.8" cy="22.4" r="1.5"/><circle cx="577.8" cy="17.9" r="1.5"/><circle cx="579.6" cy="15.7" r="1.5"/><circle cx="582.4" cy="13.9" r="1.5"/><circle cx="585.1" cy="22.3" r="1.5"/><circle cx="589.7" cy="19.3" r="1.5"/><circle cx="592.3" cy="16.9" r="1.5"/><circle cx="594.0" cy="20.6" r="1.5"/><circle cx="596.8" cy="16.9" r="1.5"/><circle cx="601.3" cy="16.5" r="1.5"/><circle cx="603.2" cy="18.8" r="1.5"/><circle cx="606.3" cy="18.6" r="1.5"/><circle cx="610.1" cy="19.2" r="1.5"/><circle cx="613.1" cy="15.9" r="1.5"/><circle cx="615.6" cy="13.4" r="1.5"/><circle cx="619.1" cy="15.5" r="1.5"/><circle cx="621.4" cy="9.3" r="1.5"/><circle cx="624.3" cy="19.3" r="1.5"/><circle cx="627.6" cy="16.9" r="1.5"/><circle cx="630.4" cy="13.7" r="1.5"/><circle cx="632.9" cy="17.9" r="1.5"/><circle cx="636.7" cy="14.0" r="1.5"/><circle cx="639.6" cy="12.7" r="1.5"/><circle cx="641.6" cy="14.1" r="1.5"/><circle cx="645.3" cy="14.9" r="1.5"/><circle cx="648.2" cy="11.9" r="1.5"/><circle cx="651.2" cy="13.0" r="1.5"/><circle cx="654.2" cy="12.1" r="1.5"/><circle cx="657.4" cy="12.4" r="1.5"/><circle cx="659.9" cy="15.2" r="1.5"/><circle cx="663.0" cy="16.1" r="1.5"/><circle cx="666.7" cy="14.2" r="1.5"/><circle cx="668.1" cy="12.8" r="1.5"/><circle cx="672.3" cy="13.5" r="1.5"/><circle cx="674.0" cy="10.7" r="1.5"/><circle cx="676.9" cy="12.3" r="1.5"/><circle cx="681.5" cy="10.4" r="1.5"/></g>
<polyline clip-path="url(#cb)" points="386.6,10.7 386.8,10.6 386.9,10.5 387.1,10.4 387.3,10.4 387.5,10.3 387.6,10.2 387.8,10.2 388.0,10.1 388.1,10.0 388.3,9.9 388.5,9.9 388.6,9.8 388.8,9.7 389.0,9.7 389.2,9.6 389.3,9.5 389.5,9.4 389.7,9.4 389.8,9.3 390.0,9.2 390.2,9.1 390.3,9.1 390.5,9.0 390.7,8.9 390.8,8.9 391.0,8.8 391.2,8.7 391.4,8.7 391.5,8.6 391.7,8.5 391.9,8.4 392.0,8.4 392.2,8.3 392.4,8.2 392.5,8.2 392.7,8.1 392.9,8.0 393.1,8.0 393.2,7.9 393.4,7.8 393.6,7.8 393.7,7.7 393.9,7.7 394.1,7.6 394.2,7.5 394.4,7.5 394.6,7.4 394.8,7.3 394.9,7.3 395.1,7.2 395.3,7.2 395.4,7.1 395.6,7.0 395.8,7.0 395.9,6.9 396.1,6.9 396.3,6.8 396.5,6.8 396.6,6.7 396.8,6.7 397.0,6.6 397.1,6.6 397.3,6.5 397.5,6.5 397.6,6.4 397.8,6.4 398.0,6.3 398.1,6.3 398.3,6.2 398.5,6.2 398.7,6.2 398.8,6.1 399.0,6.1 399.2,6.0 399.3,6.0 399.5,6.0 399.7,5.9 399.8,5.9 400.0,5.9 400.2,5.8 400.4,5.8 400.5,5.8 400.7,5.8 400.9,5.7 401.0,5.7 401.2,5.7 401.4,5.7 401.5,5.6 401.7,5.6 401.9,5.6 402.1,5.6 402.2,5.6 402.4,5.6 402.6,5.6 402.7,5.5 402.9,5.5 403.1,5.5 403.2,5.5 403.4,5.5 403.6,5.5 403.8,5.5 403.9,5.5 404.1,5.5 404.3,5.5 404.4,5.5 404.6,5.5 404.8,5.5 404.9,5.5 405.1,5.5 405.3,5.6 405.4,5.6 405.6,5.6 405.8,5.6 406.0,5.6 406.1,5.6 406.3,5.6 406.5,5.7 406.6,5.7 406.8,5.7 407.0,5.7 407.1,5.8 407.3,5.8 407.5,5.8 407.7,5.8 407.8,5.8 408.0,5.9 408.2,5.9 408.3,5.9 408.5,6.0 408.7,6.0 408.8,6.0 409.0,6.1 409.2,6.1 409.4,6.1 409.5,6.2 409.7,6.3 409.9,6.3 410.0,6.4 410.2,6.5 410.4,6.6 410.5,6.7 410.7,6.8 410.9,6.9 411.1,7.1 411.2,7.4 411.4,7.7 411.6,8.1 411.7,8.6 411.9,9.2 412.1,9.8 412.2,10.5 412.4,11.2 412.6,12.0 412.8,12.8 412.9,13.6 413.1,14.5 413.3,15.5 413.4,16.8 413.6,18.4 413.8,20.2 413.9,22.3 414.1,24.5 414.3,27.4 414.4,31.1 414.6,35.1 414.8,39.5 415.0,43.8 415.1,47.9 415.3,51.6 415.5,55.0 415.6,58.4 415.8,61.7 416.0,65.0 416.1,68.4 416.3,72.0 416.5,75.6 416.7,79.4 416.8,83.1 417.0,86.9 417.2,90.6 417.3,94.2 417.5,97.7 417.7,101.1 417.8,104.4 418.0,107.5 418.2,110.6 418.4,113.7 418.5,116.8 418.7,120.1 418.9,123.5 419.0,127.1 419.2,131.3 419.4,135.9 419.5,140.4 419.7,144.7 419.9,148.3 420.1,151.1 420.2,153.6 420.4,156.0 420.6,158.2 420.7,160.3 420.9,162.3 421.1,164.1 421.2,165.8 421.4,167.4 421.6,168.8 421.7,170.0 421.9,171.1 422.1,172.0 422.3,173.0 422.4,173.9 422.6,174.8 422.8,175.6 422.9,176.4 423.1,177.1 423.3,177.6 423.4,178.1 423.6,178.4 423.8,178.5 424.0,178.5 424.1,178.4 424.3,178.3 424.5,178.1 424.6,177.8 424.8,177.5 425.0,177.1 425.1,176.6 425.3,176.2 425.5,175.6 425.7,175.0 425.8,174.4 426.0,173.7 426.2,173.1 426.3,172.3 426.5,171.6 426.7,170.8 426.8,169.9 427.0,169.1 427.2,168.2 427.4,167.4 427.5,166.5 427.7,165.6 427.9,164.6 428.0,163.7 428.2,162.8 428.4,161.9 428.5,160.9 428.7,160.0 428.9,159.1 429.0,158.2 429.2,157.3 429.4,156.4 429.6,155.6 429.7,154.8 429.9,153.9 430.1,153.2 430.2,152.4 430.4,151.7 430.6,151.0 430.7,150.3 430.9,149.7 431.1,149.1 431.3,148.5 431.4,147.9 431.6,147.2 431.8,146.6 431.9,146.0 432.1,145.4 432.3,144.8 432.4,144.2 432.6,143.6 432.8,143.0 433.0,142.4 433.1,141.8 433.3,141.3 433.5,140.7 433.6,140.1 433.8,139.5 434.0,138.9 434.1,138.3 434.3,137.8 434.5,137.2 434.7,136.6 434.8,136.0 435.0,135.5 435.2,134.9 435.3,134.4 435.5,133.8 435.7,133.2 435.8,132.7 436.0,132.2 436.2,131.6 436.3,131.1 436.5,130.5 436.7,130.0 436.9,129.5 437.0,128.9 437.2,128.4 437.4,127.9 437.5,127.4 437.7,126.8 437.9,126.3 438.0,125.8 438.2,125.3 438.4,124.8 438.6,124.3 438.7,123.8 438.9,123.3 439.1,122.9 439.2,122.4 439.4,121.9 439.6,121.4 439.7,121.0 439.9,120.5 440.1,120.0 440.3,119.6 440.4,119.1 440.6,118.7 440.8,118.2 440.9,117.8 441.1,117.3 441.3,116.9 441.4,116.4 441.6,116.0 441.8,115.5 442.0,115.1 442.1,114.7 442.3,114.2 442.5,113.8 442.6,113.4 442.8,112.9 443.0,112.5 443.1,112.1 443.3,111.6 443.5,111.2 443.7,110.8 443.8,110.4 444.0,109.9 444.2,109.5 444.3,109.1 444.5,108.7 444.7,108.3 444.8,107.9 445.0,107.4 445.2,107.0 445.3,106.6 445.5,106.2 445.7,105.8 445.9,105.4 446.0,105.0 446.2,104.6 446.4,104.2 446.5,103.8 446.7,103.4 446.9,103.0 447.0,102.6 447.2,102.2 447.4,101.9 447.6,101.5 447.7,101.1 447.9,100.7 448.1,100.3 448.2,99.9 448.4,99.6 448.6,99.2 448.7,98.8 448.9,98.4 449.1,98.1 449.3,97.7 449.4,97.3 449.6,97.0 449.8,96.6 449.9,96.2 450.1,95.9 450.3,95.5 450.4,95.1 450.6,94.8 450.8,94.4 451.0,94.1 451.1,93.7 451.3,93.4 451.5,93.0 451.6,92.7 451.8,92.3 452.0,92.0 452.1,91.6 452.3,91.3 452.5,91.0 452.6,90.6 452.8,90.3 453.0,90.0 453.2,89.6 453.3,89.3 453.5,89.0 453.7,88.6 453.8,88.3 454.0,88.0 454.2,87.7 454.3,87.3 454.5,87.0 454.7,86.7 454.9,86.4 455.0,86.1 455.2,85.8 455.4,85.4 455.5,85.1 455.7,84.8 455.9,84.5 456.0,84.2 456.2,83.9 456.4,83.6 456.6,83.3 456.7,83.0 456.9,82.7 457.1,82.4 457.2,82.1 457.4,81.8 457.6,81.5 457.7,81.2 457.9,80.9 458.1,80.6 458.3,80.3 458.4,80.0 458.6,79.7 458.8,79.4 458.9,79.1 459.1,78.8 459.3,78.5 459.4,78.3 459.6,78.0 459.8,77.7 459.9,77.4 460.1,77.1 460.3,76.8 460.5,76.5 460.6,76.3 460.8,76.0 461.0,75.7 461.1,75.4 461.3,75.1 461.5,74.8 461.6,74.6 461.8,74.3 462.0,74.0 462.2,73.7 462.3,73.5 462.5,73.2 462.7,72.9 462.8,72.7 463.0,72.4 463.2,72.1 463.3,71.9 463.5,71.6 463.7,71.3 463.9,71.1 464.0,70.8 464.2,70.5 464.4,70.3 464.5,70.0 464.7,69.8 464.9,69.5 465.0,69.3 465.2,69.0 465.4,68.8 465.6,68.5 465.7,68.3 465.9,68.0 466.1,67.8 466.2,67.5 466.4,67.3 466.6,67.1 466.7,66.8 466.9,66.6 467.1,66.3 467.3,66.1 467.4,65.9 467.6,65.6 467.8,65.4 467.9,65.2 468.1,65.0 468.3,64.7 468.4,64.5 468.6,64.3 468.8,64.1 468.9,63.9 469.1,63.7 469.3,63.4 469.5,63.2 469.6,63.0 469.8,62.8 470.0,62.6 470.1,62.4 470.3,62.2 470.5,62.0 470.6,61.8 470.8,61.6 471.0,61.4 471.2,61.2 471.3,61.0 472.4,59.9 473.5,58.8 474.5,57.7 475.6,56.6 476.6,55.6 477.7,54.5 478.8,53.5 479.8,52.5 480.9,51.5 482.0,50.6 483.0,49.7 484.1,48.8 485.2,47.9 486.2,47.0 487.3,46.2 488.4,45.4 489.4,44.6 490.5,43.9 491.5,43.1 492.6,42.5 493.7,41.8 494.7,41.2 495.8,40.6 496.9,40.0 497.9,39.5 499.0,39.0 500.1,38.5 501.1,38.1 502.2,37.6 503.3,37.3 504.3,36.9 505.4,36.5 506.4,36.2 507.5,35.9 508.6,35.6 509.6,35.3 510.7,35.0 511.8,34.7 512.8,34.4 513.9,34.1 515.0,33.9 516.0,33.6 517.1,33.3 518.2,33.0 519.2,32.7 520.3,32.4 521.3,32.1 522.4,31.8 523.5,31.4 524.5,31.1 525.6,30.8 526.7,30.4 527.7,30.1 528.8,29.8 529.9,29.4 530.9,29.1 532.0,28.7 533.1,28.4 534.1,28.1 535.2,27.7 536.2,27.4 537.3,27.1 538.4,26.8 539.4,26.5 540.5,26.2 541.6,25.9 542.6,25.6 543.7,25.3 544.8,25.1 545.8,24.8 546.9,24.6 548.0,24.4 549.0,24.2 550.1,24.0 551.2,23.8 552.2,23.6 553.3,23.5 554.3,23.3 555.4,23.1 556.5,23.0 557.5,22.8 558.6,22.6 559.7,22.5 560.7,22.3 561.8,22.2 562.9,22.0 563.9,21.9 565.0,21.8 566.1,21.6 567.1,21.5 568.2,21.4 569.2,21.2 570.3,21.1 571.4,21.0 572.4,20.9 573.5,20.7 574.6,20.6 575.6,20.5 576.7,20.4 577.8,20.3 578.8,20.2 579.9,20.0 581.0,19.9 582.0,19.8 583.1,19.7 584.1,19.6 585.2,19.5 586.3,19.4 587.3,19.3 588.4,19.2 589.5,19.1 590.5,19.0 591.6,18.9 592.7,18.8 593.7,18.7 594.8,18.6 595.9,18.5 596.9,18.4 598.0,18.3 599.0,18.2 600.1,18.1 601.2,18.0 602.2,17.9 603.3,17.8 604.4,17.7 605.4,17.6 606.5,17.5 607.6,17.4 608.6,17.3 609.7,17.2 610.8,17.1 611.8,17.0 612.9,16.9 613.9,16.8 615.0,16.7 616.1,16.6 617.1,16.6 618.2,16.5 619.3,16.4 620.3,16.3 621.4,16.2 622.5,16.1 623.5,16.0 624.6,16.0 625.7,15.9 626.7,15.8 627.8,15.7 628.8,15.6 629.9,15.6 631.0,15.5 632.0,15.4 633.1,15.3 634.2,15.3 635.2,15.2 636.3,15.1 637.4,15.1 638.4,15.0 639.5,14.9 640.6,14.9 641.6,14.8 642.7,14.8 643.7,14.7 644.8,14.6 645.9,14.6 646.9,14.5 648.0,14.5 649.1,14.4 650.1,14.3 651.2,14.3 652.3,14.2 653.3,14.2 654.4,14.1 655.5,14.1 656.5,14.0 657.6,14.0 658.6,13.9 659.7,13.8 660.8,13.8 661.8,13.7 662.9,13.7 664.0,13.6 665.0,13.6 666.1,13.5 667.2,13.5 668.2,13.5 669.3,13.4 670.4,13.4 671.4,13.3 672.5,13.3 673.5,13.2 674.6,13.2 675.7,13.2 676.7,13.1 677.8,13.1 678.9,13.1 679.9,13.0 681.0,13.0 682.1,12.9 683.1,12.9" fill="none" stroke="#1f1fff" stroke-width="3.3" stroke-linejoin="round"/>
<g clip-path="url(#cb)" fill="#861010"><circle cx="403.5" cy="13.8" r="1.5"/><circle cx="404.2" cy="14.0" r="1.5"/><circle cx="395.7" cy="14.2" r="1.5"/><circle cx="417.7" cy="102.5" r="1.5"/><circle cx="425.5" cy="198.1" r="1.5"/><circle cx="469.8" cy="76.7" r="1.5"/><circle cx="395.5" cy="17.6" r="1.5"/><circle cx="453.6" cy="105.6" r="1.5"/><circle cx="408.1" cy="14.4" r="1.5"/><circle cx="461.4" cy="87.8" r="1.5"/><circle cx="422.0" cy="188.8" r="1.5"/><circle cx="442.9" cy="130.1" r="1.5"/><circle cx="444.4" cy="120.5" r="1.5"/><circle cx="456.9" cy="99.6" r="1.5"/><circle cx="464.0" cy="85.4" r="1.5"/><circle cx="436.7" cy="147.3" r="1.5"/><circle cx="434.6" cy="152.9" r="1.5"/><circle cx="419.6" cy="140.0" r="1.5"/><circle cx="424.4" cy="200.0" r="1.5"/><circle cx="467.0" cy="78.7" r="1.5"/><circle cx="412.2" cy="19.0" r="1.5"/><circle cx="441.4" cy="130.3" r="1.5"/><circle cx="418.4" cy="113.9" r="1.5"/><circle cx="459.9" cy="96.1" r="1.5"/><circle cx="418.7" cy="120.8" r="1.5"/><circle cx="405.4" cy="13.9" r="1.5"/><circle cx="424.8" cy="201.3" r="1.5"/><circle cx="435.4" cy="147.3" r="1.5"/><circle cx="403.3" cy="15.1" r="1.5"/><circle cx="393.7" cy="17.1" r="1.5"/><circle cx="414.6" cy="39.0" r="1.5"/><circle cx="393.6" cy="17.4" r="1.5"/><circle cx="457.2" cy="94.0" r="1.5"/><circle cx="417.5" cy="98.4" r="1.5"/><circle cx="447.4" cy="118.5" r="1.5"/><circle cx="464.4" cy="81.6" r="1.5"/><circle cx="435.6" cy="150.0" r="1.5"/><circle cx="465.9" cy="79.3" r="1.5"/><circle cx="432.8" cy="164.2" r="1.5"/><circle cx="393.2" cy="15.9" r="1.5"/><circle cx="432.4" cy="160.8" r="1.5"/><circle cx="421.2" cy="181.0" r="1.5"/><circle cx="419.1" cy="128.9" r="1.5"/><circle cx="429.0" cy="178.3" r="1.5"/><circle cx="464.0" cy="79.7" r="1.5"/><circle cx="456.1" cy="100.2" r="1.5"/><circle cx="455.1" cy="97.2" r="1.5"/><circle cx="403.7" cy="12.6" r="1.5"/><circle cx="452.5" cy="102.0" r="1.5"/><circle cx="454.5" cy="98.9" r="1.5"/><circle cx="407.0" cy="14.7" r="1.5"/><circle cx="471.4" cy="74.9" r="1.5"/><circle cx="421.6" cy="186.0" r="1.5"/><circle cx="463.4" cy="80.8" r="1.5"/><circle cx="430.8" cy="164.9" r="1.5"/><circle cx="429.0" cy="176.3" r="1.5"/><circle cx="446.5" cy="119.9" r="1.5"/><circle cx="455.0" cy="99.6" r="1.5"/><circle cx="411.1" cy="16.1" r="1.5"/><circle cx="449.0" cy="107.4" r="1.5"/><circle cx="398.6" cy="15.6" r="1.5"/><circle cx="407.4" cy="14.1" r="1.5"/><circle cx="420.2" cy="158.0" r="1.5"/><circle cx="388.4" cy="19.9" r="1.5"/><circle cx="461.4" cy="80.6" r="1.5"/><circle cx="431.6" cy="163.6" r="1.5"/><circle cx="404.1" cy="10.6" r="1.5"/><circle cx="442.7" cy="128.8" r="1.5"/><circle cx="412.4" cy="17.8" r="1.5"/><circle cx="402.6" cy="12.6" r="1.5"/><circle cx="419.0" cy="126.1" r="1.5"/><circle cx="408.1" cy="14.6" r="1.5"/><circle cx="408.2" cy="16.2" r="1.5"/><circle cx="469.1" cy="74.1" r="1.5"/><circle cx="393.5" cy="18.3" r="1.5"/><circle cx="433.3" cy="154.7" r="1.5"/><circle cx="435.3" cy="150.9" r="1.5"/><circle cx="433.8" cy="157.3" r="1.5"/><circle cx="473.0" cy="73.6" r="1.5"/><circle cx="389.7" cy="18.6" r="1.5"/><circle cx="457.6" cy="92.3" r="1.5"/><circle cx="393.1" cy="17.6" r="1.5"/><circle cx="395.0" cy="16.4" r="1.5"/><circle cx="424.0" cy="200.0" r="1.5"/><circle cx="435.4" cy="148.1" r="1.5"/><circle cx="435.8" cy="148.0" r="1.5"/><circle cx="414.3" cy="24.7" r="1.5"/><circle cx="474.3" cy="70.2" r="1.5"/><circle cx="462.9" cy="77.2" r="1.5"/><circle cx="438.6" cy="142.9" r="1.5"/><circle cx="471.5" cy="73.5" r="1.5"/><circle cx="413.2" cy="20.7" r="1.5"/><circle cx="466.2" cy="80.4" r="1.5"/><circle cx="424.9" cy="201.0" r="1.5"/><circle cx="388.5" cy="16.2" r="1.5"/><circle cx="469.4" cy="75.8" r="1.5"/><circle cx="408.3" cy="12.5" r="1.5"/><circle cx="397.8" cy="17.2" r="1.5"/><circle cx="406.0" cy="14.0" r="1.5"/><circle cx="451.6" cy="108.0" r="1.5"/><circle cx="450.8" cy="109.5" r="1.5"/><circle cx="463.9" cy="83.1" r="1.5"/><circle cx="408.1" cy="13.5" r="1.5"/><circle cx="406.1" cy="14.8" r="1.5"/><circle cx="470.5" cy="69.4" r="1.5"/><circle cx="408.5" cy="15.1" r="1.5"/><circle cx="396.2" cy="14.6" r="1.5"/><circle cx="457.6" cy="91.8" r="1.5"/><circle cx="403.8" cy="13.8" r="1.5"/><circle cx="443.3" cy="129.0" r="1.5"/><circle cx="412.6" cy="19.2" r="1.5"/><circle cx="447.2" cy="121.7" r="1.5"/><circle cx="422.6" cy="195.6" r="1.5"/><circle cx="460.3" cy="90.5" r="1.5"/><circle cx="409.3" cy="13.7" r="1.5"/><circle cx="389.9" cy="18.6" r="1.5"/><circle cx="418.6" cy="115.7" r="1.5"/><circle cx="391.8" cy="15.4" r="1.5"/><circle cx="407.2" cy="15.6" r="1.5"/><circle cx="408.2" cy="17.2" r="1.5"/><circle cx="408.6" cy="14.7" r="1.5"/><circle cx="405.0" cy="13.1" r="1.5"/><circle cx="415.2" cy="53.6" r="1.5"/><circle cx="447.4" cy="117.9" r="1.5"/><circle cx="393.6" cy="16.1" r="1.5"/><circle cx="459.4" cy="89.2" r="1.5"/><circle cx="399.0" cy="14.8" r="1.5"/><circle cx="456.2" cy="98.4" r="1.5"/><circle cx="450.3" cy="112.7" r="1.5"/><circle cx="431.7" cy="168.1" r="1.5"/><circle cx="426.5" cy="195.1" r="1.5"/><circle cx="392.9" cy="17.9" r="1.5"/><circle cx="470.7" cy="75.0" r="1.5"/><circle cx="444.1" cy="131.5" r="1.5"/><circle cx="408.4" cy="13.8" r="1.5"/><circle cx="402.5" cy="16.4" r="1.5"/><circle cx="469.8" cy="72.0" r="1.5"/><circle cx="441.5" cy="130.6" r="1.5"/><circle cx="460.2" cy="90.0" r="1.5"/><circle cx="457.2" cy="96.1" r="1.5"/><circle cx="391.0" cy="16.8" r="1.5"/><circle cx="465.0" cy="81.0" r="1.5"/><circle cx="446.4" cy="121.1" r="1.5"/><circle cx="430.6" cy="169.0" r="1.5"/><circle cx="433.1" cy="155.7" r="1.5"/><circle cx="432.9" cy="162.2" r="1.5"/><circle cx="464.0" cy="84.4" r="1.5"/><circle cx="412.2" cy="18.5" r="1.5"/><circle cx="393.8" cy="17.2" r="1.5"/><circle cx="403.2" cy="15.8" r="1.5"/><circle cx="450.1" cy="106.5" r="1.5"/><circle cx="422.6" cy="195.8" r="1.5"/><circle cx="423.0" cy="195.6" r="1.5"/><circle cx="470.0" cy="71.9" r="1.5"/><circle cx="433.2" cy="162.5" r="1.5"/><circle cx="393.7" cy="17.6" r="1.5"/><circle cx="419.1" cy="129.2" r="1.5"/><circle cx="426.8" cy="193.5" r="1.5"/><circle cx="474.2" cy="63.6" r="1.5"/><circle cx="398.7" cy="13.5" r="1.5"/><circle cx="451.2" cy="109.2" r="1.5"/><circle cx="456.1" cy="94.8" r="1.5"/><circle cx="399.4" cy="16.2" r="1.5"/><circle cx="471.8" cy="73.0" r="1.5"/><circle cx="411.7" cy="16.3" r="1.5"/><circle cx="393.9" cy="17.4" r="1.5"/><circle cx="470.2" cy="72.3" r="1.5"/><circle cx="473.4" cy="65.2" r="1.5"/><circle cx="432.9" cy="160.8" r="1.5"/><circle cx="408.3" cy="13.7" r="1.5"/><circle cx="391.6" cy="18.9" r="1.5"/><circle cx="470.7" cy="75.0" r="1.5"/><circle cx="431.0" cy="168.0" r="1.5"/><circle cx="474.0" cy="68.9" r="1.5"/><circle cx="440.5" cy="134.6" r="1.5"/><circle cx="455.8" cy="104.8" r="1.5"/><circle cx="426.4" cy="196.8" r="1.5"/><circle cx="422.4" cy="194.6" r="1.5"/><circle cx="439.7" cy="139.0" r="1.5"/><circle cx="390.5" cy="17.9" r="1.5"/><circle cx="423.2" cy="194.9" r="1.5"/><circle cx="445.0" cy="120.0" r="1.5"/><circle cx="406.6" cy="13.6" r="1.5"/><circle cx="402.7" cy="12.0" r="1.5"/><circle cx="417.4" cy="94.9" r="1.5"/><circle cx="413.1" cy="20.5" r="1.5"/><circle cx="453.8" cy="101.8" r="1.5"/><circle cx="397.5" cy="16.3" r="1.5"/><circle cx="462.9" cy="85.3" r="1.5"/><circle cx="399.8" cy="14.9" r="1.5"/><circle cx="406.9" cy="13.0" r="1.5"/><circle cx="432.1" cy="164.8" r="1.5"/><circle cx="416.2" cy="69.3" r="1.5"/><circle cx="413.8" cy="24.4" r="1.5"/><circle cx="391.8" cy="16.5" r="1.5"/><circle cx="393.9" cy="17.2" r="1.5"/><circle cx="461.4" cy="89.1" r="1.5"/><circle cx="475.1" cy="63.9" r="1.5"/><circle cx="471.0" cy="69.9" r="1.5"/><circle cx="433.4" cy="157.8" r="1.5"/><circle cx="404.3" cy="15.5" r="1.5"/><circle cx="427.9" cy="183.0" r="1.5"/><circle cx="442.9" cy="134.0" r="1.5"/><circle cx="428.0" cy="184.5" r="1.5"/><circle cx="445.4" cy="118.4" r="1.5"/><circle cx="427.5" cy="188.4" r="1.5"/><circle cx="454.9" cy="96.6" r="1.5"/><circle cx="463.7" cy="86.1" r="1.5"/><circle cx="453.2" cy="103.5" r="1.5"/><circle cx="445.7" cy="119.8" r="1.5"/><circle cx="472.0" cy="70.9" r="1.5"/><circle cx="446.2" cy="116.4" r="1.5"/><circle cx="393.4" cy="18.5" r="1.5"/><circle cx="475.2" cy="67.2" r="1.5"/><circle cx="469.6" cy="71.5" r="1.5"/><circle cx="403.2" cy="14.3" r="1.5"/><circle cx="405.0" cy="13.4" r="1.5"/><circle cx="471.5" cy="69.3" r="1.5"/><circle cx="430.9" cy="167.3" r="1.5"/><circle cx="459.8" cy="89.0" r="1.5"/><circle cx="475.5" cy="67.9" r="1.5"/><circle cx="478.5" cy="60.6" r="1.5"/><circle cx="481.7" cy="59.4" r="1.5"/><circle cx="485.3" cy="51.4" r="1.5"/><circle cx="488.7" cy="49.9" r="1.5"/><circle cx="491.6" cy="52.2" r="1.5"/><circle cx="493.5" cy="47.9" r="1.5"/><circle cx="497.2" cy="49.4" r="1.5"/><circle cx="500.1" cy="44.1" r="1.5"/><circle cx="503.6" cy="40.4" r="1.5"/><circle cx="505.4" cy="39.0" r="1.5"/><circle cx="509.0" cy="40.1" r="1.5"/><circle cx="511.5" cy="39.7" r="1.5"/><circle cx="515.5" cy="37.5" r="1.5"/><circle cx="517.5" cy="38.9" r="1.5"/><circle cx="521.0" cy="35.5" r="1.5"/><circle cx="522.8" cy="32.9" r="1.5"/><circle cx="527.2" cy="33.8" r="1.5"/><circle cx="529.8" cy="31.3" r="1.5"/><circle cx="531.7" cy="34.8" r="1.5"/><circle cx="535.8" cy="32.8" r="1.5"/><circle cx="537.7" cy="30.2" r="1.5"/><circle cx="541.6" cy="24.9" r="1.5"/><circle cx="545.1" cy="26.6" r="1.5"/><circle cx="547.2" cy="24.4" r="1.5"/><circle cx="550.3" cy="28.0" r="1.5"/><circle cx="553.7" cy="24.4" r="1.5"/><circle cx="555.4" cy="31.5" r="1.5"/><circle cx="558.4" cy="25.5" r="1.5"/><circle cx="561.4" cy="31.7" r="1.5"/><circle cx="566.0" cy="22.8" r="1.5"/><circle cx="568.7" cy="24.4" r="1.5"/><circle cx="571.6" cy="22.3" r="1.5"/><circle cx="574.1" cy="24.0" r="1.5"/><circle cx="577.4" cy="25.9" r="1.5"/><circle cx="579.9" cy="26.2" r="1.5"/><circle cx="583.6" cy="23.6" r="1.5"/><circle cx="586.5" cy="20.0" r="1.5"/><circle cx="588.2" cy="22.0" r="1.5"/><circle cx="591.6" cy="24.6" r="1.5"/><circle cx="594.9" cy="24.4" r="1.5"/><circle cx="598.4" cy="24.4" r="1.5"/><circle cx="600.2" cy="23.0" r="1.5"/><circle cx="604.4" cy="22.3" r="1.5"/><circle cx="607.3" cy="23.0" r="1.5"/><circle cx="609.0" cy="21.6" r="1.5"/><circle cx="612.9" cy="25.3" r="1.5"/><circle cx="616.3" cy="17.1" r="1.5"/><circle cx="619.3" cy="20.1" r="1.5"/><circle cx="622.1" cy="16.6" r="1.5"/><circle cx="623.7" cy="19.6" r="1.5"/><circle cx="628.2" cy="20.5" r="1.5"/><circle cx="630.2" cy="19.6" r="1.5"/><circle cx="632.6" cy="19.1" r="1.5"/><circle cx="635.5" cy="21.1" r="1.5"/><circle cx="639.6" cy="20.2" r="1.5"/><circle cx="642.3" cy="14.3" r="1.5"/><circle cx="645.2" cy="16.6" r="1.5"/><circle cx="647.7" cy="20.1" r="1.5"/><circle cx="651.4" cy="17.3" r="1.5"/><circle cx="654.6" cy="20.6" r="1.5"/><circle cx="657.0" cy="14.9" r="1.5"/><circle cx="659.3" cy="20.8" r="1.5"/><circle cx="662.2" cy="15.9" r="1.5"/><circle cx="666.2" cy="18.0" r="1.5"/><circle cx="668.4" cy="17.9" r="1.5"/><circle cx="671.0" cy="19.9" r="1.5"/><circle cx="675.5" cy="18.4" r="1.5"/><circle cx="677.0" cy="19.6" r="1.5"/><circle cx="680.7" cy="19.8" r="1.5"/></g>
<polyline clip-path="url(#cb)" points="386.6,19.5 386.8,19.4 386.9,19.4 387.1,19.3 387.3,19.2 387.5,19.2 387.6,19.1 387.8,19.0 388.0,18.9 388.1,18.9 388.3,18.8 388.5,18.7 388.6,18.6 388.8,18.6 389.0,18.5 389.2,18.4 389.3,18.4 389.5,18.3 389.7,18.2 389.8,18.1 390.0,18.1 390.2,18.0 390.3,17.9 390.5,17.9 390.7,17.8 390.8,17.7 391.0,17.6 391.2,17.6 391.4,17.5 391.5,17.4 391.7,17.4 391.9,17.3 392.0,17.2 392.2,17.2 392.4,17.1 392.5,17.0 392.7,17.0 392.9,16.9 393.1,16.8 393.2,16.8 393.4,16.7 393.6,16.6 393.7,16.6 393.9,16.5 394.1,16.4 394.2,16.4 394.4,16.3 394.6,16.3 394.8,16.2 394.9,16.1 395.1,16.1 395.3,16.0 395.4,16.0 395.6,15.9 395.8,15.8 395.9,15.8 396.1,15.7 396.3,15.7 396.5,15.6 396.6,15.6 396.8,15.5 397.0,15.5 397.1,15.4 397.3,15.4 397.5,15.3 397.6,15.3 397.8,15.2 398.0,15.2 398.1,15.1 398.3,15.1 398.5,15.1 398.7,15.0 398.8,15.0 399.0,14.9 399.2,14.9 399.3,14.9 399.5,14.8 399.7,14.8 399.8,14.8 400.0,14.7 400.2,14.7 400.4,14.7 400.5,14.6 400.7,14.6 400.9,14.6 401.0,14.6 401.2,14.5 401.4,14.5 401.5,14.5 401.7,14.5 401.9,14.5 402.1,14.4 402.2,14.4 402.4,14.4 402.6,14.4 402.7,14.4 402.9,14.4 403.1,14.4 403.2,14.4 403.4,14.4 403.6,14.4 403.8,14.4 403.9,14.4 404.1,14.4 404.3,14.4 404.4,14.4 404.6,14.4 404.8,14.4 404.9,14.4 405.1,14.4 405.3,14.4 405.4,14.4 405.6,14.4 405.8,14.4 406.0,14.5 406.1,14.5 406.3,14.5 406.5,14.5 406.6,14.5 406.8,14.6 407.0,14.6 407.1,14.6 407.3,14.6 407.5,14.6 407.7,14.7 407.8,14.7 408.0,14.7 408.2,14.7 408.3,14.8 408.5,14.8 408.7,14.8 408.8,14.9 409.0,14.9 409.2,15.0 409.4,15.0 409.5,15.1 409.7,15.1 409.9,15.2 410.0,15.3 410.2,15.4 410.4,15.4 410.5,15.5 410.7,15.6 410.9,15.7 411.1,15.8 411.2,16.0 411.4,16.1 411.6,16.3 411.7,16.5 411.9,16.7 412.1,17.0 412.2,17.3 412.4,17.6 412.6,17.9 412.8,18.3 412.9,18.7 413.1,19.1 413.3,19.6 413.4,20.4 413.6,21.5 413.8,22.7 413.9,24.2 414.1,25.9 414.3,28.3 414.4,31.6 414.6,35.5 414.8,39.7 415.0,43.9 415.1,47.9 415.3,51.5 415.5,54.9 415.6,58.3 415.8,61.6 416.0,65.0 416.1,68.4 416.3,72.0 416.5,75.6 416.7,79.4 416.8,83.1 417.0,86.9 417.2,90.6 417.3,94.2 417.5,97.7 417.7,101.1 417.8,104.4 418.0,107.5 418.2,110.6 418.4,113.7 418.5,116.8 418.7,120.1 418.9,123.5 419.0,127.1 419.2,130.8 419.4,134.8 419.5,138.8 419.7,143.0 419.9,147.4 420.1,152.0 420.2,157.5 420.4,163.3 420.6,168.8 420.7,173.3 420.9,176.3 421.1,178.9 421.2,181.3 421.4,183.6 421.6,185.6 421.7,187.5 421.9,189.1 422.1,190.6 422.3,191.9 422.4,193.1 422.6,194.0 422.8,194.9 422.9,195.6 423.1,196.4 423.3,197.1 423.4,197.8 423.6,198.4 423.8,199.0 424.0,199.5 424.1,199.9 424.3,200.2 424.5,200.5 424.6,200.6 424.8,200.6 425.0,200.6 425.1,200.3 425.3,200.0 425.5,199.5 425.7,198.9 425.8,198.2 426.0,197.4 426.2,196.5 426.3,195.6 426.5,194.5 426.7,193.5 426.8,192.3 427.0,191.2 427.2,190.0 427.4,188.7 427.5,187.5 427.7,186.2 427.9,185.0 428.0,183.7 428.2,182.5 428.4,181.3 428.5,180.2 428.7,179.0 428.9,178.0 429.0,177.0 429.2,176.0 429.4,175.2 429.6,174.4 429.7,173.6 429.9,172.8 430.1,172.1 430.2,171.3 430.4,170.6 430.6,169.8 430.7,169.1 430.9,168.3 431.1,167.6 431.3,166.9 431.4,166.2 431.6,165.5 431.8,164.8 431.9,164.1 432.1,163.4 432.3,162.7 432.4,162.0 432.6,161.4 432.8,160.7 433.0,160.0 433.1,159.4 433.3,158.7 433.5,158.1 433.6,157.4 433.8,156.8 434.0,156.2 434.1,155.6 434.3,154.9 434.5,154.3 434.7,153.7 434.8,153.1 435.0,152.5 435.2,151.9 435.3,151.3 435.5,150.8 435.7,150.2 435.8,149.6 436.0,149.0 436.2,148.5 436.3,147.9 436.5,147.3 436.7,146.8 436.9,146.2 437.0,145.6 437.2,145.1 437.4,144.5 437.5,144.0 437.7,143.4 437.9,142.9 438.0,142.4 438.2,141.8 438.4,141.3 438.6,140.8 438.7,140.2 438.9,139.7 439.1,139.2 439.2,138.7 439.4,138.1 439.6,137.6 439.7,137.1 439.9,136.6 440.1,136.1 440.3,135.6 440.4,135.1 440.6,134.6 440.8,134.1 440.9,133.6 441.1,133.1 441.3,132.6 441.4,132.2 441.6,131.7 441.8,131.2 442.0,130.7 442.1,130.2 442.3,129.8 442.5,129.3 442.6,128.8 442.8,128.4 443.0,127.9 443.1,127.4 443.3,127.0 443.5,126.5 443.7,126.1 443.8,125.6 444.0,125.2 444.2,124.7 444.3,124.3 444.5,123.8 444.7,123.4 444.8,123.0 445.0,122.5 445.2,122.1 445.3,121.7 445.5,121.2 445.7,120.8 445.9,120.4 446.0,120.0 446.2,119.5 446.4,119.1 446.5,118.7 446.7,118.3 446.9,117.9 447.0,117.5 447.2,117.0 447.4,116.6 447.6,116.2 447.7,115.8 447.9,115.4 448.1,115.0 448.2,114.6 448.4,114.2 448.6,113.8 448.7,113.4 448.9,113.0 449.1,112.6 449.3,112.2 449.4,111.8 449.6,111.4 449.8,111.0 449.9,110.6 450.1,110.2 450.3,109.8 450.4,109.4 450.6,109.0 450.8,108.6 451.0,108.3 451.1,107.9 451.3,107.5 451.5,107.1 451.6,106.7 451.8,106.3 452.0,106.0 452.1,105.6 452.3,105.2 452.5,104.8 452.6,104.5 452.8,104.1 453.0,103.7 453.2,103.4 453.3,103.0 453.5,102.6 453.7,102.2 453.8,101.9 454.0,101.5 454.2,101.2 454.3,100.8 454.5,100.4 454.7,100.1 454.9,99.7 455.0,99.4 455.2,99.0 455.4,98.7 455.5,98.3 455.7,98.0 455.9,97.6 456.0,97.3 456.2,96.9 456.4,96.6 456.6,96.2 456.7,95.9 456.9,95.5 457.1,95.2 457.2,94.9 457.4,94.5 457.6,94.2 457.7,93.9 457.9,93.5 458.1,93.2 458.3,92.9 458.4,92.6 458.6,92.2 458.8,91.9 458.9,91.6 459.1,91.3 459.3,90.9 459.4,90.6 459.6,90.3 459.8,90.0 459.9,89.7 460.1,89.4 460.3,89.0 460.5,88.7 460.6,88.4 460.8,88.1 461.0,87.8 461.1,87.5 461.3,87.2 461.5,86.9 461.6,86.6 461.8,86.3 462.0,86.0 462.2,85.7 462.3,85.4 462.5,85.1 462.7,84.8 462.8,84.5 463.0,84.3 463.2,84.0 463.3,83.7 463.5,83.4 463.7,83.1 463.9,82.8 464.0,82.6 464.2,82.3 464.4,82.0 464.5,81.7 464.7,81.4 464.9,81.1 465.0,80.9 465.2,80.6 465.4,80.3 465.6,80.0 465.7,79.8 465.9,79.5 466.1,79.2 466.2,78.9 466.4,78.7 466.6,78.4 466.7,78.1 466.9,77.9 467.1,77.6 467.3,77.3 467.4,77.1 467.6,76.8 467.8,76.5 467.9,76.3 468.1,76.0 468.3,75.7 468.4,75.5 468.6,75.2 468.8,75.0 468.9,74.7 469.1,74.4 469.3,74.2 469.5,73.9 469.6,73.7 469.8,73.4 470.0,73.2 470.1,72.9 470.3,72.7 470.5,72.4 470.6,72.2 470.8,71.9 471.0,71.7 471.2,71.4 471.3,71.2 472.4,69.7 473.5,68.2 474.5,66.8 475.6,65.4 476.6,64.1 477.7,62.8 478.8,61.6 479.8,60.4 480.9,59.2 482.0,58.1 483.0,57.0 484.1,55.9 485.2,54.8 486.2,53.8 487.3,52.7 488.4,51.7 489.4,50.8 490.5,49.8 491.5,48.9 492.6,48.0 493.7,47.2 494.7,46.4 495.8,45.7 496.9,45.0 497.9,44.3 499.0,43.7 500.1,43.2 501.1,42.7 502.2,42.2 503.3,41.8 504.3,41.3 505.4,40.9 506.4,40.6 507.5,40.2 508.6,39.9 509.6,39.5 510.7,39.2 511.8,38.9 512.8,38.6 513.9,38.3 515.0,38.0 516.0,37.6 517.1,37.3 518.2,37.0 519.2,36.7 520.3,36.4 521.3,36.1 522.4,35.7 523.5,35.4 524.5,35.0 525.6,34.7 526.7,34.4 527.7,34.0 528.8,33.7 529.9,33.3 530.9,33.0 532.0,32.7 533.1,32.3 534.1,32.0 535.2,31.7 536.2,31.4 537.3,31.1 538.4,30.7 539.4,30.5 540.5,30.2 541.6,29.9 542.6,29.6 543.7,29.4 544.8,29.1 545.8,28.9 546.9,28.6 548.0,28.4 549.0,28.2 550.1,28.1 551.2,27.9 552.2,27.7 553.3,27.6 554.3,27.4 555.4,27.2 556.5,27.1 557.5,26.9 558.6,26.8 559.7,26.6 560.7,26.5 561.8,26.4 562.9,26.2 563.9,26.1 565.0,26.0 566.1,25.8 567.1,25.7 568.2,25.6 569.2,25.5 570.3,25.3 571.4,25.2 572.4,25.1 573.5,25.0 574.6,24.9 575.6,24.8 576.7,24.7 577.8,24.6 578.8,24.5 579.9,24.4 581.0,24.3 582.0,24.2 583.1,24.1 584.1,24.0 585.2,23.9 586.3,23.8 587.3,23.7 588.4,23.6 589.5,23.5 590.5,23.4 591.6,23.3 592.7,23.2 593.7,23.1 594.8,23.0 595.9,22.9 596.9,22.8 598.0,22.7 599.0,22.6 600.1,22.5 601.2,22.4 602.2,22.3 603.3,22.2 604.4,22.1 605.4,22.0 606.5,21.9 607.6,21.8 608.6,21.7 609.7,21.6 610.8,21.5 611.8,21.4 612.9,21.3 613.9,21.2 615.0,21.1 616.1,21.0 617.1,20.9 618.2,20.8 619.3,20.7 620.3,20.6 621.4,20.5 622.5,20.5 623.5,20.4 624.6,20.3 625.7,20.2 626.7,20.1 627.8,20.0 628.8,19.9 629.9,19.9 631.0,19.8 632.0,19.7 633.1,19.6 634.2,19.6 635.2,19.5 636.3,19.4 637.4,19.4 638.4,19.3 639.5,19.3 640.6,19.2 641.6,19.2 642.7,19.1 643.7,19.1 644.8,19.0 645.9,19.0 646.9,18.9 648.0,18.8 649.1,18.8 650.1,18.8 651.2,18.7 652.3,18.7 653.3,18.6 654.4,18.6 655.5,18.5 656.5,18.5 657.6,18.4 658.6,18.4 659.7,18.3 660.8,18.3 661.8,18.2 662.9,18.2 664.0,18.2 665.0,18.1 666.1,18.1 667.2,18.1 668.2,18.0 669.3,18.0 670.4,18.0 671.4,17.9 672.5,17.9 673.5,17.9 674.6,17.8 675.7,17.8 676.7,17.8 677.8,17.8 678.9,17.7 679.9,17.7 681.0,17.7 682.1,17.7 683.1,17.7" fill="none" stroke="#861010" stroke-width="3.3" stroke-linejoin="round"/>
<g clip-path="url(#cb)" fill="#329a22"><circle cx="414.2" cy="29.6" r="1.5"/><circle cx="398.5" cy="11.9" r="1.5"/><circle cx="423.8" cy="217.1" r="1.5"/><circle cx="440.3" cy="155.3" r="1.5"/><circle cx="454.0" cy="118.0" r="1.5"/><circle cx="396.6" cy="12.4" r="1.5"/><circle cx="428.6" cy="204.7" r="1.5"/><circle cx="457.1" cy="113.4" r="1.5"/><circle cx="428.2" cy="207.1" r="1.5"/><circle cx="410.6" cy="13.3" r="1.5"/><circle cx="468.4" cy="86.3" r="1.5"/><circle cx="419.6" cy="139.9" r="1.5"/><circle cx="399.4" cy="13.6" r="1.5"/><circle cx="430.6" cy="194.0" r="1.5"/><circle cx="442.8" cy="146.2" r="1.5"/><circle cx="451.3" cy="120.2" r="1.5"/><circle cx="446.5" cy="132.0" r="1.5"/><circle cx="450.9" cy="124.4" r="1.5"/><circle cx="426.6" cy="213.3" r="1.5"/><circle cx="447.4" cy="133.4" r="1.5"/><circle cx="455.5" cy="110.1" r="1.5"/><circle cx="458.9" cy="103.2" r="1.5"/><circle cx="452.4" cy="117.7" r="1.5"/><circle cx="409.7" cy="11.5" r="1.5"/><circle cx="449.3" cy="129.5" r="1.5"/><circle cx="457.2" cy="109.2" r="1.5"/><circle cx="472.4" cy="79.4" r="1.5"/><circle cx="465.0" cy="93.1" r="1.5"/><circle cx="388.7" cy="15.6" r="1.5"/><circle cx="473.5" cy="83.5" r="1.5"/><circle cx="424.1" cy="218.9" r="1.5"/><circle cx="434.9" cy="170.3" r="1.5"/><circle cx="398.1" cy="13.5" r="1.5"/><circle cx="420.2" cy="154.2" r="1.5"/><circle cx="399.0" cy="14.1" r="1.5"/><circle cx="420.5" cy="163.8" r="1.5"/><circle cx="410.0" cy="13.1" r="1.5"/><circle cx="405.1" cy="14.0" r="1.5"/><circle cx="419.6" cy="139.2" r="1.5"/><circle cx="463.8" cy="93.3" r="1.5"/><circle cx="429.4" cy="201.5" r="1.5"/><circle cx="413.1" cy="16.3" r="1.5"/><circle cx="393.5" cy="14.3" r="1.5"/><circle cx="414.5" cy="28.3" r="1.5"/><circle cx="472.1" cy="80.1" r="1.5"/><circle cx="470.1" cy="79.7" r="1.5"/><circle cx="463.3" cy="96.2" r="1.5"/><circle cx="461.0" cy="98.8" r="1.5"/><circle cx="464.3" cy="91.0" r="1.5"/><circle cx="387.6" cy="17.6" r="1.5"/><circle cx="467.4" cy="89.7" r="1.5"/><circle cx="464.2" cy="95.0" r="1.5"/><circle cx="404.0" cy="12.1" r="1.5"/><circle cx="469.3" cy="85.7" r="1.5"/><circle cx="445.7" cy="142.5" r="1.5"/><circle cx="407.1" cy="14.6" r="1.5"/><circle cx="464.1" cy="93.7" r="1.5"/><circle cx="392.9" cy="15.1" r="1.5"/><circle cx="441.4" cy="155.9" r="1.5"/><circle cx="425.2" cy="217.5" r="1.5"/><circle cx="437.5" cy="162.7" r="1.5"/><circle cx="466.5" cy="90.7" r="1.5"/><circle cx="434.1" cy="177.1" r="1.5"/><circle cx="455.6" cy="112.0" r="1.5"/><circle cx="399.3" cy="13.8" r="1.5"/><circle cx="471.7" cy="83.8" r="1.5"/><circle cx="424.6" cy="218.9" r="1.5"/><circle cx="395.1" cy="15.9" r="1.5"/><circle cx="404.1" cy="13.2" r="1.5"/><circle cx="468.2" cy="90.5" r="1.5"/><circle cx="388.0" cy="16.7" r="1.5"/><circle cx="471.0" cy="86.5" r="1.5"/><circle cx="456.6" cy="108.4" r="1.5"/><circle cx="416.7" cy="81.2" r="1.5"/><circle cx="466.6" cy="92.6" r="1.5"/><circle cx="396.5" cy="15.3" r="1.5"/><circle cx="454.0" cy="116.9" r="1.5"/><circle cx="412.2" cy="16.1" r="1.5"/><circle cx="452.6" cy="120.8" r="1.5"/><circle cx="391.3" cy="17.3" r="1.5"/><circle cx="454.5" cy="115.0" r="1.5"/><circle cx="438.2" cy="162.2" r="1.5"/><circle cx="462.9" cy="100.8" r="1.5"/><circle cx="436.5" cy="169.2" r="1.5"/><circle cx="459.1" cy="107.2" r="1.5"/><circle cx="420.0" cy="152.5" r="1.5"/><circle cx="462.5" cy="99.6" r="1.5"/><circle cx="468.4" cy="88.8" r="1.5"/><circle cx="391.9" cy="15.3" r="1.5"/><circle cx="448.6" cy="129.2" r="1.5"/><circle cx="413.8" cy="24.1" r="1.5"/><circle cx="468.5" cy="84.9" r="1.5"/><circle cx="471.9" cy="82.4" r="1.5"/><circle cx="447.1" cy="135.9" r="1.5"/><circle cx="414.8" cy="35.7" r="1.5"/><circle cx="457.0" cy="110.1" r="1.5"/><circle cx="450.6" cy="121.0" r="1.5"/><circle cx="403.0" cy="11.8" r="1.5"/><circle cx="417.6" cy="99.5" r="1.5"/><circle cx="394.6" cy="13.7" r="1.5"/><circle cx="428.2" cy="206.4" r="1.5"/><circle cx="408.9" cy="12.2" r="1.5"/><circle cx="419.0" cy="126.5" r="1.5"/><circle cx="426.3" cy="216.1" r="1.5"/><circle cx="455.2" cy="114.8" r="1.5"/><circle cx="459.7" cy="107.0" r="1.5"/><circle cx="411.4" cy="12.5" r="1.5"/><circle cx="405.6" cy="12.5" r="1.5"/><circle cx="442.9" cy="148.5" r="1.5"/><circle cx="444.3" cy="141.0" r="1.5"/><circle cx="426.5" cy="214.7" r="1.5"/><circle cx="459.4" cy="104.8" r="1.5"/><circle cx="409.7" cy="13.2" r="1.5"/><circle cx="467.8" cy="91.5" r="1.5"/><circle cx="436.8" cy="170.1" r="1.5"/><circle cx="454.0" cy="117.1" r="1.5"/><circle cx="412.9" cy="17.0" r="1.5"/><circle cx="393.2" cy="15.5" r="1.5"/><circle cx="447.8" cy="137.5" r="1.5"/><circle cx="420.9" cy="179.5" r="1.5"/><circle cx="428.9" cy="203.7" r="1.5"/><circle cx="456.0" cy="112.3" r="1.5"/><circle cx="426.4" cy="213.6" r="1.5"/><circle cx="457.5" cy="103.4" r="1.5"/><circle cx="412.5" cy="18.4" r="1.5"/><circle cx="432.1" cy="184.5" r="1.5"/><circle cx="421.1" cy="184.2" r="1.5"/><circle cx="404.5" cy="13.9" r="1.5"/><circle cx="437.3" cy="166.5" r="1.5"/><circle cx="431.5" cy="192.1" r="1.5"/><circle cx="443.5" cy="146.4" r="1.5"/><circle cx="436.8" cy="168.1" r="1.5"/><circle cx="414.2" cy="24.5" r="1.5"/><circle cx="407.6" cy="14.2" r="1.5"/><circle cx="435.3" cy="174.9" r="1.5"/><circle cx="432.9" cy="183.5" r="1.5"/><circle cx="407.7" cy="12.7" r="1.5"/><circle cx="423.9" cy="215.5" r="1.5"/><circle cx="390.4" cy="16.8" r="1.5"/><circle cx="395.1" cy="14.7" r="1.5"/><circle cx="396.5" cy="13.2" r="1.5"/><circle cx="405.4" cy="12.4" r="1.5"/><circle cx="445.1" cy="134.8" r="1.5"/><circle cx="449.4" cy="130.8" r="1.5"/><circle cx="457.2" cy="112.3" r="1.5"/><circle cx="429.2" cy="203.2" r="1.5"/><circle cx="446.9" cy="135.7" r="1.5"/><circle cx="441.1" cy="152.6" r="1.5"/><circle cx="401.2" cy="10.6" r="1.5"/><circle cx="413.1" cy="18.3" r="1.5"/><circle cx="468.0" cy="84.0" r="1.5"/><circle cx="390.2" cy="17.2" r="1.5"/><circle cx="392.9" cy="13.7" r="1.5"/><circle cx="436.8" cy="165.4" r="1.5"/><circle cx="432.5" cy="187.7" r="1.5"/><circle cx="443.0" cy="142.6" r="1.5"/><circle cx="423.7" cy="215.6" r="1.5"/><circle cx="451.0" cy="121.4" r="1.5"/><circle cx="421.6" cy="195.2" r="1.5"/><circle cx="430.8" cy="192.9" r="1.5"/><circle cx="448.1" cy="135.5" r="1.5"/><circle cx="467.3" cy="93.6" r="1.5"/><circle cx="405.4" cy="13.1" r="1.5"/><circle cx="424.3" cy="217.9" r="1.5"/><circle cx="423.0" cy="209.9" r="1.5"/><circle cx="392.9" cy="15.2" r="1.5"/><circle cx="467.0" cy="95.1" r="1.5"/><circle cx="451.9" cy="121.9" r="1.5"/><circle cx="421.2" cy="188.4" r="1.5"/><circle cx="412.1" cy="14.4" r="1.5"/><circle cx="407.6" cy="12.7" r="1.5"/><circle cx="426.3" cy="214.2" r="1.5"/><circle cx="414.5" cy="31.4" r="1.5"/><circle cx="433.2" cy="181.4" r="1.5"/><circle cx="433.3" cy="181.5" r="1.5"/><circle cx="436.9" cy="165.4" r="1.5"/><circle cx="459.2" cy="109.4" r="1.5"/><circle cx="454.6" cy="116.4" r="1.5"/><circle cx="398.4" cy="12.6" r="1.5"/><circle cx="397.9" cy="14.1" r="1.5"/><circle cx="442.7" cy="145.6" r="1.5"/><circle cx="429.9" cy="197.4" r="1.5"/><circle cx="387.6" cy="17.6" r="1.5"/><circle cx="414.1" cy="26.0" r="1.5"/><circle cx="403.7" cy="11.9" r="1.5"/><circle cx="434.9" cy="175.5" r="1.5"/><circle cx="407.2" cy="13.4" r="1.5"/><circle cx="470.4" cy="83.2" r="1.5"/><circle cx="466.9" cy="95.6" r="1.5"/><circle cx="388.2" cy="17.5" r="1.5"/><circle cx="446.9" cy="138.3" r="1.5"/><circle cx="467.3" cy="86.9" r="1.5"/><circle cx="415.7" cy="59.5" r="1.5"/><circle cx="472.2" cy="80.7" r="1.5"/><circle cx="402.5" cy="12.6" r="1.5"/><circle cx="402.0" cy="10.9" r="1.5"/><circle cx="400.5" cy="11.3" r="1.5"/><circle cx="417.8" cy="105.3" r="1.5"/><circle cx="442.8" cy="149.9" r="1.5"/><circle cx="457.4" cy="112.1" r="1.5"/><circle cx="395.5" cy="13.9" r="1.5"/><circle cx="393.1" cy="14.9" r="1.5"/><circle cx="401.6" cy="13.4" r="1.5"/><circle cx="467.1" cy="95.2" r="1.5"/><circle cx="475.5" cy="77.8" r="1.5"/><circle cx="455.4" cy="111.7" r="1.5"/><circle cx="395.9" cy="12.6" r="1.5"/><circle cx="399.9" cy="12.5" r="1.5"/><circle cx="423.5" cy="214.0" r="1.5"/><circle cx="444.7" cy="144.1" r="1.5"/><circle cx="448.4" cy="129.7" r="1.5"/><circle cx="447.3" cy="131.8" r="1.5"/><circle cx="404.8" cy="11.5" r="1.5"/><circle cx="462.5" cy="94.4" r="1.5"/><circle cx="457.9" cy="107.6" r="1.5"/><circle cx="419.7" cy="143.9" r="1.5"/><circle cx="418.0" cy="107.0" r="1.5"/><circle cx="396.5" cy="15.3" r="1.5"/><circle cx="411.5" cy="13.7" r="1.5"/><circle cx="406.4" cy="12.5" r="1.5"/><circle cx="476.7" cy="75.5" r="1.5"/><circle cx="479.5" cy="70.3" r="1.5"/><circle cx="482.6" cy="70.8" r="1.5"/><circle cx="484.7" cy="62.5" r="1.5"/><circle cx="488.4" cy="63.2" r="1.5"/><circle cx="490.0" cy="69.3" r="1.5"/><circle cx="493.3" cy="61.7" r="1.5"/><circle cx="496.6" cy="54.2" r="1.5"/><circle cx="499.8" cy="54.2" r="1.5"/><circle cx="502.8" cy="49.9" r="1.5"/><circle cx="506.5" cy="54.3" r="1.5"/><circle cx="509.3" cy="45.4" r="1.5"/><circle cx="510.9" cy="50.6" r="1.5"/><circle cx="515.4" cy="44.5" r="1.5"/><circle cx="517.4" cy="39.2" r="1.5"/><circle cx="521.1" cy="42.8" r="1.5"/><circle cx="522.7" cy="42.9" r="1.5"/><circle cx="527.2" cy="38.6" r="1.5"/><circle cx="529.3" cy="41.9" r="1.5"/><circle cx="532.7" cy="40.9" r="1.5"/><circle cx="535.6" cy="35.2" r="1.5"/><circle cx="538.0" cy="40.6" r="1.5"/><circle cx="540.9" cy="39.1" r="1.5"/><circle cx="543.6" cy="30.9" r="1.5"/><circle cx="546.6" cy="37.7" r="1.5"/><circle cx="550.7" cy="32.6" r="1.5"/><circle cx="553.4" cy="30.5" r="1.5"/><circle cx="556.5" cy="32.9" r="1.5"/><circle cx="559.9" cy="34.9" r="1.5"/><circle cx="561.2" cy="30.0" r="1.5"/><circle cx="564.4" cy="33.9" r="1.5"/><circle cx="568.5" cy="25.8" r="1.5"/><circle cx="571.6" cy="25.1" r="1.5"/><circle cx="573.9" cy="33.0" r="1.5"/><circle cx="577.6" cy="28.5" r="1.5"/><circle cx="580.6" cy="31.4" r="1.5"/><circle cx="583.6" cy="28.4" r="1.5"/><circle cx="586.3" cy="29.7" r="1.5"/><circle cx="589.6" cy="31.1" r="1.5"/><circle cx="592.2" cy="27.1" r="1.5"/><circle cx="594.2" cy="32.3" r="1.5"/><circle cx="597.1" cy="27.1" r="1.5"/><circle cx="600.7" cy="27.9" r="1.5"/><circle cx="603.9" cy="29.0" r="1.5"/><circle cx="605.8" cy="24.6" r="1.5"/><circle cx="610.5" cy="26.2" r="1.5"/><circle cx="612.0" cy="27.0" r="1.5"/><circle cx="616.1" cy="26.0" r="1.5"/><circle cx="617.8" cy="25.9" r="1.5"/><circle cx="620.5" cy="22.7" r="1.5"/><circle cx="624.1" cy="25.4" r="1.5"/><circle cx="628.3" cy="31.4" r="1.5"/><circle cx="629.7" cy="31.8" r="1.5"/><circle cx="632.4" cy="26.4" r="1.5"/><circle cx="636.3" cy="26.6" r="1.5"/><circle cx="640.1" cy="23.8" r="1.5"/><circle cx="642.6" cy="26.4" r="1.5"/><circle cx="645.0" cy="24.8" r="1.5"/><circle cx="647.5" cy="19.4" r="1.5"/><circle cx="651.4" cy="25.7" r="1.5"/><circle cx="654.1" cy="20.1" r="1.5"/><circle cx="658.0" cy="22.3" r="1.5"/><circle cx="660.2" cy="18.6" r="1.5"/><circle cx="662.4" cy="19.5" r="1.5"/><circle cx="666.5" cy="21.4" r="1.5"/><circle cx="669.7" cy="18.7" r="1.5"/><circle cx="672.6" cy="20.7" r="1.5"/><circle cx="674.9" cy="24.0" r="1.5"/><circle cx="678.7" cy="19.8" r="1.5"/><circle cx="680.8" cy="19.7" r="1.5"/></g>
<polyline clip-path="url(#cb)" points="386.6,17.7 386.8,17.7 386.9,17.6 387.1,17.5 387.3,17.5 387.5,17.4 387.6,17.3 387.8,17.2 388.0,17.2 388.1,17.1 388.3,17.0 388.5,16.9 388.6,16.9 388.8,16.8 389.0,16.7 389.2,16.7 389.3,16.6 389.5,16.5 389.7,16.4 389.8,16.4 390.0,16.3 390.2,16.2 390.3,16.2 390.5,16.1 390.7,16.0 390.8,15.9 391.0,15.9 391.2,15.8 391.4,15.7 391.5,15.7 391.7,15.6 391.9,15.5 392.0,15.5 392.2,15.4 392.4,15.3 392.5,15.3 392.7,15.2 392.9,15.1 393.1,15.1 393.2,15.0 393.4,14.9 393.6,14.9 393.7,14.8 393.9,14.7 394.1,14.7 394.2,14.6 394.4,14.5 394.6,14.5 394.8,14.4 394.9,14.4 395.1,14.3 395.3,14.2 395.4,14.2 395.6,14.1 395.8,14.1 395.9,14.0 396.1,14.0 396.3,13.9 396.5,13.9 396.6,13.8 396.8,13.8 397.0,13.7 397.1,13.7 397.3,13.6 397.5,13.6 397.6,13.5 397.8,13.5 398.0,13.4 398.1,13.4 398.3,13.3 398.5,13.3 398.7,13.2 398.8,13.2 399.0,13.2 399.2,13.1 399.3,13.1 399.5,13.1 399.7,13.0 399.8,13.0 400.0,13.0 400.2,12.9 400.4,12.9 400.5,12.9 400.7,12.8 400.9,12.8 401.0,12.8 401.2,12.8 401.4,12.7 401.5,12.7 401.7,12.7 401.9,12.7 402.1,12.7 402.2,12.7 402.4,12.6 402.6,12.6 402.7,12.6 402.9,12.6 403.1,12.6 403.2,12.6 403.4,12.6 403.6,12.6 403.8,12.6 403.9,12.6 404.1,12.6 404.3,12.6 404.4,12.6 404.6,12.6 404.8,12.6 404.9,12.6 405.1,12.6 405.3,12.6 405.4,12.7 405.6,12.7 405.8,12.7 406.0,12.7 406.1,12.7 406.3,12.7 406.5,12.7 406.6,12.8 406.8,12.8 407.0,12.8 407.1,12.8 407.3,12.9 407.5,12.9 407.7,12.9 407.8,12.9 408.0,13.0 408.2,13.0 408.3,13.0 408.5,13.0 408.7,13.1 408.8,13.1 409.0,13.1 409.2,13.2 409.4,13.2 409.5,13.3 409.7,13.4 409.9,13.4 410.0,13.5 410.2,13.6 410.4,13.7 410.5,13.8 410.7,13.9 410.9,14.0 411.1,14.1 411.2,14.3 411.4,14.5 411.6,14.7 411.7,14.9 411.9,15.2 412.1,15.5 412.2,15.9 412.4,16.3 412.6,16.7 412.8,17.2 412.9,17.7 413.1,18.2 413.3,18.8 413.4,19.7 413.6,20.8 413.8,22.2 413.9,23.8 414.1,25.6 414.3,28.1 414.4,31.5 414.6,35.4 414.8,39.6 415.0,43.9 415.1,47.9 415.3,51.5 415.5,54.9 415.6,58.3 415.8,61.6 416.0,65.0 416.1,68.4 416.3,72.0 416.5,75.6 416.7,79.4 416.8,83.1 417.0,86.9 417.2,90.6 417.3,94.2 417.5,97.7 417.7,101.1 417.8,104.4 418.0,107.5 418.2,110.6 418.4,113.7 418.5,116.8 418.7,120.1 418.9,123.5 419.0,127.1 419.2,130.8 419.4,134.8 419.5,138.8 419.7,143.0 419.9,147.4 420.1,151.9 420.2,156.8 420.4,161.9 420.6,167.1 420.7,172.3 420.9,177.5 421.1,183.3 421.2,188.9 421.4,193.7 421.6,196.7 421.7,199.1 421.9,201.0 422.1,202.7 422.3,204.3 422.4,205.7 422.6,207.0 422.8,208.5 422.9,210.0 423.1,211.7 423.3,213.3 423.4,214.8 423.6,216.2 423.8,217.4 424.0,218.4 424.1,219.0 424.3,219.2 424.5,219.2 424.6,219.1 424.8,219.0 425.0,218.8 425.1,218.5 425.3,218.2 425.5,217.8 425.7,217.4 425.8,216.9 426.0,216.4 426.2,215.8 426.3,215.2 426.5,214.6 426.7,214.0 426.8,213.3 427.0,212.6 427.2,211.8 427.4,211.0 427.5,210.3 427.7,209.4 427.9,208.6 428.0,207.8 428.2,206.9 428.4,206.1 428.5,205.2 428.7,204.4 428.9,203.5 429.0,202.6 429.2,201.8 429.4,200.9 429.6,200.1 429.7,199.3 429.9,198.5 430.1,197.7 430.2,196.9 430.4,196.1 430.6,195.4 430.7,194.7 430.9,194.0 431.1,193.2 431.3,192.5 431.4,191.7 431.6,190.9 431.8,190.1 431.9,189.3 432.1,188.5 432.3,187.7 432.4,186.9 432.6,186.1 432.8,185.3 433.0,184.5 433.1,183.6 433.3,182.8 433.5,182.0 433.6,181.2 433.8,180.4 434.0,179.6 434.1,178.8 434.3,178.1 434.5,177.3 434.7,176.5 434.8,175.8 435.0,175.1 435.2,174.4 435.3,173.7 435.5,173.0 435.7,172.2 435.8,171.5 436.0,170.8 436.2,170.1 436.3,169.4 436.5,168.7 436.7,168.0 436.9,167.3 437.0,166.6 437.2,166.0 437.4,165.3 437.5,164.6 437.7,163.9 437.9,163.2 438.0,162.6 438.2,161.9 438.4,161.3 438.6,160.6 438.7,159.9 438.9,159.3 439.1,158.7 439.2,158.0 439.4,157.4 439.6,156.8 439.7,156.2 439.9,155.5 440.1,154.9 440.3,154.3 440.4,153.7 440.6,153.1 440.8,152.6 440.9,152.0 441.1,151.4 441.3,150.9 441.4,150.3 441.6,149.8 441.8,149.2 442.0,148.7 442.1,148.2 442.3,147.6 442.5,147.1 442.6,146.6 442.8,146.1 443.0,145.5 443.1,145.0 443.3,144.5 443.5,144.0 443.7,143.5 443.8,143.0 444.0,142.5 444.2,142.0 444.3,141.5 444.5,141.0 444.7,140.5 444.8,140.0 445.0,139.5 445.2,139.1 445.3,138.6 445.5,138.1 445.7,137.6 445.9,137.2 446.0,136.7 446.2,136.2 446.4,135.8 446.5,135.3 446.7,134.9 446.9,134.4 447.0,134.0 447.2,133.5 447.4,133.1 447.6,132.6 447.7,132.2 447.9,131.7 448.1,131.3 448.2,130.8 448.4,130.4 448.6,130.0 448.7,129.6 448.9,129.1 449.1,128.7 449.3,128.3 449.4,127.8 449.6,127.4 449.8,127.0 449.9,126.6 450.1,126.2 450.3,125.8 450.4,125.4 450.6,124.9 450.8,124.5 451.0,124.1 451.1,123.7 451.3,123.3 451.5,122.9 451.6,122.5 451.8,122.1 452.0,121.7 452.1,121.3 452.3,120.9 452.5,120.5 452.6,120.2 452.8,119.8 453.0,119.4 453.2,119.0 453.3,118.6 453.5,118.2 453.7,117.8 453.8,117.4 454.0,117.0 454.2,116.7 454.3,116.3 454.5,115.9 454.7,115.5 454.9,115.1 455.0,114.7 455.2,114.3 455.4,114.0 455.5,113.6 455.7,113.2 455.9,112.8 456.0,112.4 456.2,112.1 456.4,111.7 456.6,111.3 456.7,110.9 456.9,110.5 457.1,110.2 457.2,109.8 457.4,109.4 457.6,109.0 457.7,108.7 457.9,108.3 458.1,107.9 458.3,107.6 458.4,107.2 458.6,106.8 458.8,106.4 458.9,106.1 459.1,105.7 459.3,105.4 459.4,105.0 459.6,104.6 459.8,104.3 459.9,103.9 460.1,103.6 460.3,103.2 460.5,102.8 460.6,102.5 460.8,102.1 461.0,101.8 461.1,101.4 461.3,101.1 461.5,100.7 461.6,100.4 461.8,100.0 462.0,99.7 462.2,99.4 462.3,99.0 462.5,98.7 462.7,98.3 462.8,98.0 463.0,97.7 463.2,97.3 463.3,97.0 463.5,96.7 463.7,96.4 463.9,96.0 464.0,95.7 464.2,95.4 464.4,95.1 464.5,94.7 464.7,94.4 464.9,94.1 465.0,93.8 465.2,93.5 465.4,93.2 465.6,92.9 465.7,92.6 465.9,92.3 466.1,92.0 466.2,91.7 466.4,91.4 466.6,91.1 466.7,90.8 466.9,90.5 467.1,90.2 467.3,89.9 467.4,89.6 467.6,89.3 467.8,89.1 467.9,88.8 468.1,88.5 468.3,88.2 468.4,88.0 468.6,87.7 468.8,87.4 468.9,87.2 469.1,86.9 469.3,86.6 469.5,86.4 469.6,86.1 469.8,85.9 470.0,85.6 470.1,85.4 470.3,85.1 470.5,84.9 470.6,84.7 470.8,84.4 471.0,84.2 471.2,84.0 471.3,83.7 472.4,82.3 473.5,80.9 474.5,79.6 475.6,78.4 476.6,77.1 477.7,75.9 478.8,74.8 479.8,73.7 480.9,72.6 482.0,71.5 483.0,70.5 484.1,69.4 485.2,68.4 486.2,67.4 487.3,66.4 488.4,65.4 489.4,64.5 490.5,63.5 491.5,62.5 492.6,61.5 493.7,60.5 494.7,59.4 495.8,58.4 496.9,57.3 497.9,56.3 499.0,55.4 500.1,54.6 501.1,53.8 502.2,53.1 503.3,52.4 504.3,51.7 505.4,51.0 506.4,50.3 507.5,49.7 508.6,49.1 509.6,48.5 510.7,47.9 511.8,47.4 512.8,46.8 513.9,46.3 515.0,45.8 516.0,45.3 517.1,44.8 518.2,44.3 519.2,43.9 520.3,43.4 521.3,43.0 522.4,42.6 523.5,42.1 524.5,41.7 525.6,41.3 526.7,40.9 527.7,40.5 528.8,40.1 529.9,39.7 530.9,39.3 532.0,39.0 533.1,38.6 534.1,38.2 535.2,37.9 536.2,37.5 537.3,37.2 538.4,36.9 539.4,36.6 540.5,36.3 541.6,36.0 542.6,35.7 543.7,35.4 544.8,35.1 545.8,34.9 546.9,34.6 548.0,34.4 549.0,34.2 550.1,34.0 551.2,33.8 552.2,33.6 553.3,33.4 554.3,33.2 555.4,33.0 556.5,32.9 557.5,32.7 558.6,32.5 559.7,32.4 560.7,32.2 561.8,32.1 562.9,31.9 563.9,31.8 565.0,31.6 566.1,31.5 567.1,31.3 568.2,31.2 569.2,31.1 570.3,30.9 571.4,30.8 572.4,30.7 573.5,30.6 574.6,30.4 575.6,30.3 576.7,30.2 577.8,30.1 578.8,30.0 579.9,29.8 581.0,29.7 582.0,29.6 583.1,29.5 584.1,29.4 585.2,29.3 586.3,29.2 587.3,29.1 588.4,28.9 589.5,28.8 590.5,28.7 591.6,28.6 592.7,28.5 593.7,28.4 594.8,28.3 595.9,28.1 596.9,28.0 598.0,27.9 599.0,27.8 600.1,27.7 601.2,27.5 602.2,27.4 603.3,27.3 604.4,27.1 605.4,27.0 606.5,26.9 607.6,26.7 608.6,26.6 609.7,26.5 610.8,26.3 611.8,26.2 612.9,26.1 613.9,25.9 615.0,25.8 616.1,25.7 617.1,25.6 618.2,25.4 619.3,25.3 620.3,25.2 621.4,25.0 622.5,24.9 623.5,24.8 624.6,24.7 625.7,24.6 626.7,24.4 627.8,24.3 628.8,24.2 629.9,24.1 631.0,24.0 632.0,23.9 633.1,23.8 634.2,23.7 635.2,23.6 636.3,23.5 637.4,23.4 638.4,23.3 639.5,23.3 640.6,23.2 641.6,23.1 642.7,23.0 643.7,23.0 644.8,22.9 645.9,22.8 646.9,22.8 648.0,22.7 649.1,22.6 650.1,22.6 651.2,22.5 652.3,22.4 653.3,22.4 654.4,22.3 655.5,22.2 656.5,22.2 657.6,22.1 658.6,22.0 659.7,22.0 660.8,21.9 661.8,21.9 662.9,21.8 664.0,21.8 665.0,21.7 666.1,21.6 667.2,21.6 668.2,21.5 669.3,21.5 670.4,21.5 671.4,21.4 672.5,21.4 673.5,21.3 674.6,21.3 675.7,21.2 676.7,21.2 677.8,21.2 678.9,21.1 679.9,21.1 681.0,21.1 682.1,21.1 683.1,21.0" fill="none" stroke="#329a22" stroke-width="3.3" stroke-linejoin="round"/>
<circle cx="400.6" cy="20.6" r="1.8" fill="#861010"/><circle cx="406.2" cy="20.9" r="1.8" fill="#329a22"/><circle cx="407.8" cy="18.6" r="1.6" fill="#861010"/>
<rect x="399.0" y="1.7" width="282.0" height="225.10000000000002" fill="none" stroke="#000" stroke-width="1.7"/>
<line x1="394.0" y1="14.8" x2="399.0" y2="14.8" stroke="#000" stroke-width="1.7"/>
<text x="391.4" y="19.0" font-size="12" font-weight="bold" text-anchor="end" >0</text>
<line x1="394.0" y1="59.0" x2="399.0" y2="59.0" stroke="#000" stroke-width="1.7"/>
<text x="391.4" y="63.2" font-size="12" font-weight="bold" text-anchor="end" >-5</text>
<line x1="394.0" y1="103.3" x2="399.0" y2="103.3" stroke="#000" stroke-width="1.7"/>
<text x="391.4" y="107.5" font-size="12" font-weight="bold" text-anchor="end" >-10</text>
<line x1="394.0" y1="147.6" x2="399.0" y2="147.6" stroke="#000" stroke-width="1.7"/>
<text x="391.4" y="151.8" font-size="12" font-weight="bold" text-anchor="end" >-15</text>
<line x1="394.0" y1="191.8" x2="399.0" y2="191.8" stroke="#000" stroke-width="1.7"/>
<text x="391.4" y="196.0" font-size="12" font-weight="bold" text-anchor="end" >-20</text>
<line x1="401.5" y1="226.8" x2="401.5" y2="231.3" stroke="#000" stroke-width="1.7"/>
<text x="401.5" y="244.6" font-size="12" font-weight="bold" text-anchor="middle" >0</text>
<line x1="448.1" y1="226.8" x2="448.1" y2="231.3" stroke="#000" stroke-width="1.7"/>
<text x="448.1" y="244.6" font-size="12" font-weight="bold" text-anchor="middle" >1</text>
<line x1="494.6" y1="226.8" x2="494.6" y2="231.3" stroke="#000" stroke-width="1.7"/>
<text x="494.6" y="244.6" font-size="12" font-weight="bold" text-anchor="middle" >2</text>
<line x1="541.1" y1="226.8" x2="541.1" y2="231.3" stroke="#000" stroke-width="1.7"/>
<text x="541.1" y="244.6" font-size="12" font-weight="bold" text-anchor="middle" >3</text>
<line x1="587.7" y1="226.8" x2="587.7" y2="231.3" stroke="#000" stroke-width="1.7"/>
<text x="587.7" y="244.6" font-size="12" font-weight="bold" text-anchor="middle" >4</text>
<line x1="634.2" y1="226.8" x2="634.2" y2="231.3" stroke="#000" stroke-width="1.7"/>
<text x="634.2" y="244.6" font-size="12" font-weight="bold" text-anchor="middle" >5</text>
<line x1="680.8" y1="226.8" x2="680.8" y2="231.3" stroke="#000" stroke-width="1.7"/>
<text x="680.8" y="244.6" font-size="12" font-weight="bold" text-anchor="middle" >6</text>
<text x="483.9" y="262.4" font-size="12.7" font-weight="bold" text-anchor="start" textLength="93.4" lengthAdjust="spacingAndGlyphs" >Decay time (ps)</text>
<text transform="translate(371.2,124.7) rotate(-90)" x="0" y="0" font-size="13.2" font-weight="bold" text-anchor="middle" textLength="71.0" lengthAdjust="spacingAndGlyphs">ΔT/T(mOD)</text>
<text x="350.0" y="33.3" font-size="19" font-weight="normal" text-anchor="start" textLength="21.6" lengthAdjust="spacingAndGlyphs" >(b)</text>
<rect x="553.3" y="43.5" width="111.0" height="89.80000000000001" fill="#fff" stroke="#a8a8a8" stroke-width="1"/>
<circle cx="569.4" cy="54.2" r="3.1" fill="#000000"/>
<text x="588" y="59.0" font-size="12.6" font-weight="bold">1.2x10<tspan font-size="8.6" dy="-5">14</tspan><tspan dy="5">cm</tspan><tspan font-size="8.6" dy="-5">-2</tspan></text>
<circle cx="569.4" cy="71.8" r="3.1" fill="#ff1f1f"/>
<text x="588" y="76.6" font-size="12.6" font-weight="bold">1.5x10<tspan font-size="8.6" dy="-5">14</tspan><tspan dy="5">cm</tspan><tspan font-size="8.6" dy="-5">-2</tspan></text>
<circle cx="569.4" cy="89.6" r="3.1" fill="#1f1fff"/>
<text x="588" y="94.4" font-size="12.6" font-weight="bold">1.7x10<tspan font-size="8.6" dy="-5">14</tspan><tspan dy="5">cm</tspan><tspan font-size="8.6" dy="-5">-2</tspan></text>
<circle cx="569.4" cy="107.2" r="3.1" fill="#861010"/>
<text x="588" y="112.0" font-size="12.6" font-weight="bold">2x10<tspan font-size="8.6" dy="-5">14</tspan><tspan dy="5">cm</tspan><tspan font-size="8.6" dy="-5">-2</tspan></text>
<circle cx="569.4" cy="124.4" r="3.1" fill="#329a22"/>
<text x="588" y="129.2" font-size="12.6" font-weight="bold">2.2x10<tspan font-size="8.6" dy="-5">14</tspan><tspan dy="5">cm</tspan><tspan font-size="8.6" dy="-5">-2</tspan></text>
<text x="556.6" y="153.4" font-size="11.7" font-weight="bold">MoS<tspan font-size="8" dy="3">2</tspan></text>
<text x="556.6" y="171.2" font-size="11.7" font-weight="bold">pump - 2 eV</text>
<text x="556.6" y="186.4" font-size="11.7" font-weight="bold">probe - 0.31 eV</text>
<rect x="58.3" y="287.7" width="281.59999999999997" height="225.7" fill="none" stroke="#000" stroke-width="1.7"/>
<line x1="53.3" y1="513.4" x2="58.3" y2="513.4" stroke="#000" stroke-width="1.7"/>
<text x="50.4" y="517.6" font-size="12.4" font-weight="bold" text-anchor="end" >0.0</text>
<line x1="53.3" y1="481.2" x2="58.3" y2="481.2" stroke="#000" stroke-width="1.7"/>
<text x="50.4" y="485.4" font-size="12.4" font-weight="bold" text-anchor="end" >0.5</text>
<line x1="53.3" y1="448.9" x2="58.3" y2="448.9" stroke="#000" stroke-width="1.7"/>
<text x="50.4" y="453.1" font-size="12.4" font-weight="bold" text-anchor="end" >1.0</text>
<line x1="53.3" y1="416.7" x2="58.3" y2="416.7" stroke="#000" stroke-width="1.7"/>
<text x="50.4" y="420.9" font-size="12.4" font-weight="bold" text-anchor="end" >1.5</text>
<line x1="53.3" y1="384.4" x2="58.3" y2="384.4" stroke="#000" stroke-width="1.7"/>
<text x="50.4" y="388.6" font-size="12.4" font-weight="bold" text-anchor="end" >2.0</text>
<line x1="53.3" y1="352.2" x2="58.3" y2="352.2" stroke="#000" stroke-width="1.7"/>
<text x="50.4" y="356.4" font-size="12.4" font-weight="bold" text-anchor="end" >2.5</text>
<line x1="53.3" y1="319.9" x2="58.3" y2="319.9" stroke="#000" stroke-width="1.7"/>
<text x="50.4" y="324.1" font-size="12.4" font-weight="bold" text-anchor="end" >3.0</text>
<line x1="53.3" y1="287.7" x2="58.3" y2="287.7" stroke="#000" stroke-width="1.7"/>
<text x="50.4" y="291.9" font-size="12.4" font-weight="bold" text-anchor="end" >3.5</text>
<line x1="81.9" y1="513.4" x2="81.9" y2="517.9" stroke="#000" stroke-width="1.7"/>
<text x="81.9" y="531.3" font-size="12" font-weight="bold" text-anchor="middle" >1.2</text>
<line x1="128.7" y1="513.4" x2="128.7" y2="517.9" stroke="#000" stroke-width="1.7"/>
<text x="128.7" y="531.3" font-size="12" font-weight="bold" text-anchor="middle" >1.4</text>
<line x1="175.5" y1="513.4" x2="175.5" y2="517.9" stroke="#000" stroke-width="1.7"/>
<text x="175.5" y="531.3" font-size="12" font-weight="bold" text-anchor="middle" >1.6</text>
<line x1="222.3" y1="513.4" x2="222.3" y2="517.9" stroke="#000" stroke-width="1.7"/>
<text x="222.3" y="531.3" font-size="12" font-weight="bold" text-anchor="middle" >1.8</text>
<line x1="269.1" y1="513.4" x2="269.1" y2="517.9" stroke="#000" stroke-width="1.7"/>
<text x="269.1" y="531.3" font-size="12" font-weight="bold" text-anchor="middle" >2.0</text>
<line x1="315.9" y1="513.4" x2="315.9" y2="517.9" stroke="#000" stroke-width="1.7"/>
<text x="315.9" y="531.3" font-size="12" font-weight="bold" text-anchor="middle" >2.2</text>
<text transform="translate(24.0,395.1) rotate(-90)" x="0" y="0" font-size="12.6" font-weight="bold" text-anchor="middle" textLength="93.3" lengthAdjust="spacingAndGlyphs">Decay time (ps)</text>
<text x="4.1" y="320.3" font-size="19" font-weight="normal" text-anchor="start" textLength="19" lengthAdjust="spacingAndGlyphs" >(c)</text>
<text x="101.6" y="547.3" font-size="12.6" font-weight="bold">Carrier density (10<tspan font-size="8.7" dy="-5">14</tspan><tspan dy="5">)(cm</tspan><tspan font-size="8.7" dy="-5">-2</tspan><tspan dy="5">)</tspan></text>
<path d="M81.9,365.4 V404.1 M79.0,365.4 h5.8 M79.0,404.1 h5.8" stroke="#000" stroke-width="1.8" fill="none"/>
<circle cx="81.9" cy="384.4" r="4.8" fill="#000"/>
<path d="M152.1,392.2 V408.9 M149.2,392.2 h5.8 M149.2,408.9 h5.8" stroke="#000" stroke-width="1.8" fill="none"/>
<circle cx="152.1" cy="400.5" r="4.8" fill="#000"/>
<path d="M198.9,330.9 V370.2 M196.0,330.9 h5.8 M196.0,370.2 h5.8" stroke="#000" stroke-width="1.8" fill="none"/>
<circle cx="198.9" cy="350.9" r="4.8" fill="#000"/>
<path d="M269.1,318.0 V356.0 M266.2,318.0 h5.8 M266.2,356.0 h5.8" stroke="#000" stroke-width="1.8" fill="none"/>
<circle cx="269.1" cy="337.3" r="4.8" fill="#000"/>
<path d="M315.9,307.0 V324.4 M313.0,307.0 h5.8 M313.0,324.4 h5.8" stroke="#000" stroke-width="1.8" fill="none"/>
<circle cx="315.9" cy="316.1" r="4.8" fill="#000"/>
<path d="M76.3,490.3 L87.5,490.3 L81.9,499.7 Z" fill="#ff1f10"/>
<path d="M146.5,478.4 L157.7,478.4 L152.1,487.8 Z" fill="#ff1f10"/>
<path d="M193.3,473.6 L204.5,473.6 L198.9,483.0 Z" fill="#ff1f10"/>
<path d="M263.5,472.9 L274.7,472.9 L269.1,482.3 Z" fill="#ff1f10"/>
<path d="M310.3,471.9 L321.5,471.9 L315.9,481.3 Z" fill="#ff1f10"/>
<rect x="77.6" y="474.3" width="8.6" height="8.6" fill="#0d0d8c"/>
<rect x="147.8" y="476.9" width="8.6" height="8.6" fill="#0d0d8c"/>
<rect x="194.6" y="464.6" width="8.6" height="8.6" fill="#0d0d8c"/>
<rect x="264.8" y="465.2" width="8.6" height="8.6" fill="#0d0d8c"/>
<rect x="311.6" y="464.0" width="8.6" height="8.6" fill="#0d0d8c"/>
<path d="M81.9,456.6 V459.2 M79.0,456.6 h5.8 M79.0,459.2 h5.8" stroke="#35902a" stroke-width="1.8" fill="none"/>
<path d="M76.3,462.7 L87.5,462.7 L81.9,453.1 Z" fill="#35902a"/>
<path d="M152.1,433.4 V450.2 M149.2,433.4 h5.8 M149.2,450.2 h5.8" stroke="#35902a" stroke-width="1.8" fill="none"/>
<path d="M146.5,446.6 L157.7,446.6 L152.1,437.0 Z" fill="#35902a"/>
<path d="M198.9,407.0 V427.6 M196.0,407.0 h5.8 M196.0,427.6 h5.8" stroke="#35902a" stroke-width="1.8" fill="none"/>
<path d="M193.3,421.5 L204.5,421.5 L198.9,411.9 Z" fill="#35902a"/>
<path d="M269.1,403.8 V427.6 M266.2,403.8 h5.8 M266.2,427.6 h5.8" stroke="#35902a" stroke-width="1.8" fill="none"/>
<path d="M263.5,420.2 L274.7,420.2 L269.1,410.6 Z" fill="#35902a"/>
<path d="M315.9,384.4 V410.9 M313.0,384.4 h5.8 M313.0,410.9 h5.8" stroke="#35902a" stroke-width="1.8" fill="none"/>
<path d="M310.3,401.5 L321.5,401.5 L315.9,391.9 Z" fill="#35902a"/>
<rect x="87.2" y="293.8" width="83.2" height="67.7" rx="1.5" fill="#fff" stroke="#d4d4d4" stroke-width="1"/>
<rect x="97.2" y="298.1" width="8.5" height="8.5" fill="#0d0d8c"/>
<circle cx="101.3" cy="318.9" r="4.7" fill="#000"/>
<path d="M95.9,332.5 L107.1,332.5 L101.5,341.7 Z" fill="#ff1f10"/>
<path d="M95.9,355.6 L107.1,355.6 L101.5,345.8 Z" fill="#35902a"/>
<text x="116.3" y="305.9" font-size="10.6" font-weight="bold"><tspan font-weight="normal">τ</tspan><tspan font-size="7.5" dy="3">1</tspan><tspan dy="-3">- 0.31 eV</tspan></text>
<text x="116.3" y="322.6" font-size="10.6" font-weight="bold"><tspan font-weight="normal">τ</tspan><tspan font-size="7.5" dy="3">2</tspan><tspan dy="-3">- 0.31 eV</tspan></text>
<text x="116.3" y="339.2" font-size="10.6" font-weight="bold"><tspan font-weight="normal">τ</tspan><tspan font-size="7.5" dy="3">1</tspan><tspan dy="-3">- 0.62 eV</tspan></text>
<text x="116.3" y="355.7" font-size="10.6" font-weight="bold"><tspan font-weight="normal">τ</tspan><tspan font-size="7.5" dy="3">2</tspan><tspan dy="-3">- 0.62 eV</tspan></text>
<rect x="398.9" y="286.8" width="281.30000000000007" height="225.8" fill="none" stroke="#000" stroke-width="1.7"/>
<line x1="393.9" y1="512.6" x2="398.9" y2="512.6" stroke="#000" stroke-width="1.7"/>
<text x="391.0" y="516.8" font-size="12" font-weight="bold" text-anchor="end" >10</text>
<line x1="393.9" y1="484.4" x2="398.9" y2="484.4" stroke="#000" stroke-width="1.7"/>
<text x="391.0" y="488.6" font-size="12" font-weight="bold" text-anchor="end" >20</text>
<line x1="393.9" y1="456.1" x2="398.9" y2="456.1" stroke="#000" stroke-width="1.7"/>
<text x="391.0" y="460.3" font-size="12" font-weight="bold" text-anchor="end" >30</text>
<line x1="393.9" y1="427.9" x2="398.9" y2="427.9" stroke="#000" stroke-width="1.7"/>
<text x="391.0" y="432.1" font-size="12" font-weight="bold" text-anchor="end" >40</text>
<line x1="393.9" y1="399.6" x2="398.9" y2="399.6" stroke="#000" stroke-width="1.7"/>
<text x="391.0" y="403.8" font-size="12" font-weight="bold" text-anchor="end" >50</text>
<line x1="393.9" y1="371.4" x2="398.9" y2="371.4" stroke="#000" stroke-width="1.7"/>
<text x="391.0" y="375.6" font-size="12" font-weight="bold" text-anchor="end" >60</text>
<line x1="393.9" y1="343.2" x2="398.9" y2="343.2" stroke="#000" stroke-width="1.7"/>
<text x="391.0" y="347.4" font-size="12" font-weight="bold" text-anchor="end" >70</text>
<line x1="393.9" y1="314.9" x2="398.9" y2="314.9" stroke="#000" stroke-width="1.7"/>
<text x="391.0" y="319.1" font-size="12" font-weight="bold" text-anchor="end" >80</text>
<line x1="393.9" y1="286.7" x2="398.9" y2="286.7" stroke="#000" stroke-width="1.7"/>
<text x="391.0" y="290.9" font-size="12" font-weight="bold" text-anchor="end" >90</text>
<line x1="422.5" y1="512.6" x2="422.5" y2="517.1" stroke="#000" stroke-width="1.7"/>
<text x="422.5" y="531.0" font-size="12" font-weight="bold" text-anchor="middle" >1.2</text>
<line x1="469.3" y1="512.6" x2="469.3" y2="517.1" stroke="#000" stroke-width="1.7"/>
<text x="469.3" y="531.0" font-size="12" font-weight="bold" text-anchor="middle" >1.4</text>
<line x1="516.1" y1="512.6" x2="516.1" y2="517.1" stroke="#000" stroke-width="1.7"/>
<text x="516.1" y="531.0" font-size="12" font-weight="bold" text-anchor="middle" >1.6</text>
<line x1="562.9" y1="512.6" x2="562.9" y2="517.1" stroke="#000" stroke-width="1.7"/>
<text x="562.9" y="531.0" font-size="12" font-weight="bold" text-anchor="middle" >1.8</text>
<line x1="609.7" y1="512.6" x2="609.7" y2="517.1" stroke="#000" stroke-width="1.7"/>
<text x="609.7" y="531.0" font-size="12" font-weight="bold" text-anchor="middle" >2.0</text>
<line x1="656.5" y1="512.6" x2="656.5" y2="517.1" stroke="#000" stroke-width="1.7"/>
<text x="656.5" y="531.0" font-size="12" font-weight="bold" text-anchor="middle" >2.2</text>
<text transform="translate(372.4,399.1) rotate(-90)" x="0" y="0" font-size="12.8" font-weight="bold" text-anchor="middle" textLength="86.5" lengthAdjust="spacingAndGlyphs">Amplitude (%)</text>
<text x="346.3" y="320.3" font-size="19" font-weight="normal" text-anchor="start" textLength="20.9" lengthAdjust="spacingAndGlyphs" >(d)</text>
<text x="446" y="546.8" font-size="12.8" font-weight="bold">Carrier density (10<tspan font-size="8.7" dy="-5">14</tspan><tspan dy="5">)(cm</tspan><tspan font-size="8.7" dy="-5">-2</tspan><tspan dy="5">)</tspan></text>
<rect x="418.4" y="353.0" width="8.2" height="8.2" fill="#1a08c8"/>
<circle cx="422.5" cy="442.6" r="4.6" fill="#000"/>
<path d="M417.0,356.9 L428.0,356.9 L422.5,366.1 Z" fill="#ff1f10"/>
<path d="M417.0,442.9 L428.0,442.9 L422.5,433.7 Z" fill="#35902a"/>
<rect x="488.6" y="345.6" width="8.2" height="8.2" fill="#1a08c8"/>
<circle cx="492.7" cy="449.1" r="4.6" fill="#000"/>
<path d="M487.2,359.7 L498.2,359.7 L492.7,368.9 Z" fill="#ff1f10"/>
<path d="M487.2,438.7 L498.2,438.7 L492.7,429.5 Z" fill="#35902a"/>
<rect x="535.4" y="311.4" width="8.2" height="8.2" fill="#1a08c8"/>
<circle cx="539.5" cy="482.7" r="4.6" fill="#000"/>
<path d="M534.0,318.2 L545.0,318.2 L539.5,327.4 Z" fill="#ff1f10"/>
<path d="M534.0,479.6 L545.0,479.6 L539.5,470.4 Z" fill="#35902a"/>
<rect x="605.6" y="297.5" width="8.2" height="8.2" fill="#1a08c8"/>
<circle cx="609.7" cy="497.1" r="4.6" fill="#000"/>
<path d="M604.2,313.7 L615.2,313.7 L609.7,322.9 Z" fill="#ff1f10"/>
<path d="M604.2,484.7 L615.2,484.7 L609.7,475.5 Z" fill="#35902a"/>
<rect x="652.4" y="294.2" width="8.2" height="8.2" fill="#1a08c8"/>
<circle cx="656.5" cy="501.0" r="4.6" fill="#000"/>
<path d="M651.0,310.6 L662.0,310.6 L656.5,319.8 Z" fill="#ff1f10"/>
<path d="M651.0,488.1 L662.0,488.1 L656.5,478.9 Z" fill="#35902a"/>
<rect x="569.3" y="362.7" width="82.3" height="64.5" fill="#fff" stroke="#a0a0a0" stroke-width="1"/>
<rect x="579.2" y="366.1" width="8.1" height="8.1" fill="#1a08c8"/>
<circle cx="582.9" cy="385.9" r="4.55" fill="#000"/>
<path d="M577.8,398.2 L588.6,398.2 L583.2,407.4 Z" fill="#ff1f10"/>
<path d="M577.7,420.9 L588.7,420.9 L583.2,411.5 Z" fill="#35902a"/>
<text x="598.3" y="374.1" font-size="10.5" font-weight="bold">A<tspan font-size="7.4" dy="3">1</tspan><tspan dy="-3">-0.31 ev</tspan></text>
<text x="598.3" y="389.6" font-size="10.5" font-weight="bold">A<tspan font-size="7.4" dy="3">2</tspan><tspan dy="-3">-0.31 eV</tspan></text>
<text x="598.3" y="405.0" font-size="10.5" font-weight="bold">A<tspan font-size="7.4" dy="3">1</tspan><tspan dy="-3">-0.62 ev</tspan></text>
<text x="598.3" y="420.5" font-size="10.5" font-weight="bold">A<tspan font-size="7.4" dy="3">2</tspan><tspan dy="-3">-0.62 ev</tspan></text>
</svg>
</body></html>
